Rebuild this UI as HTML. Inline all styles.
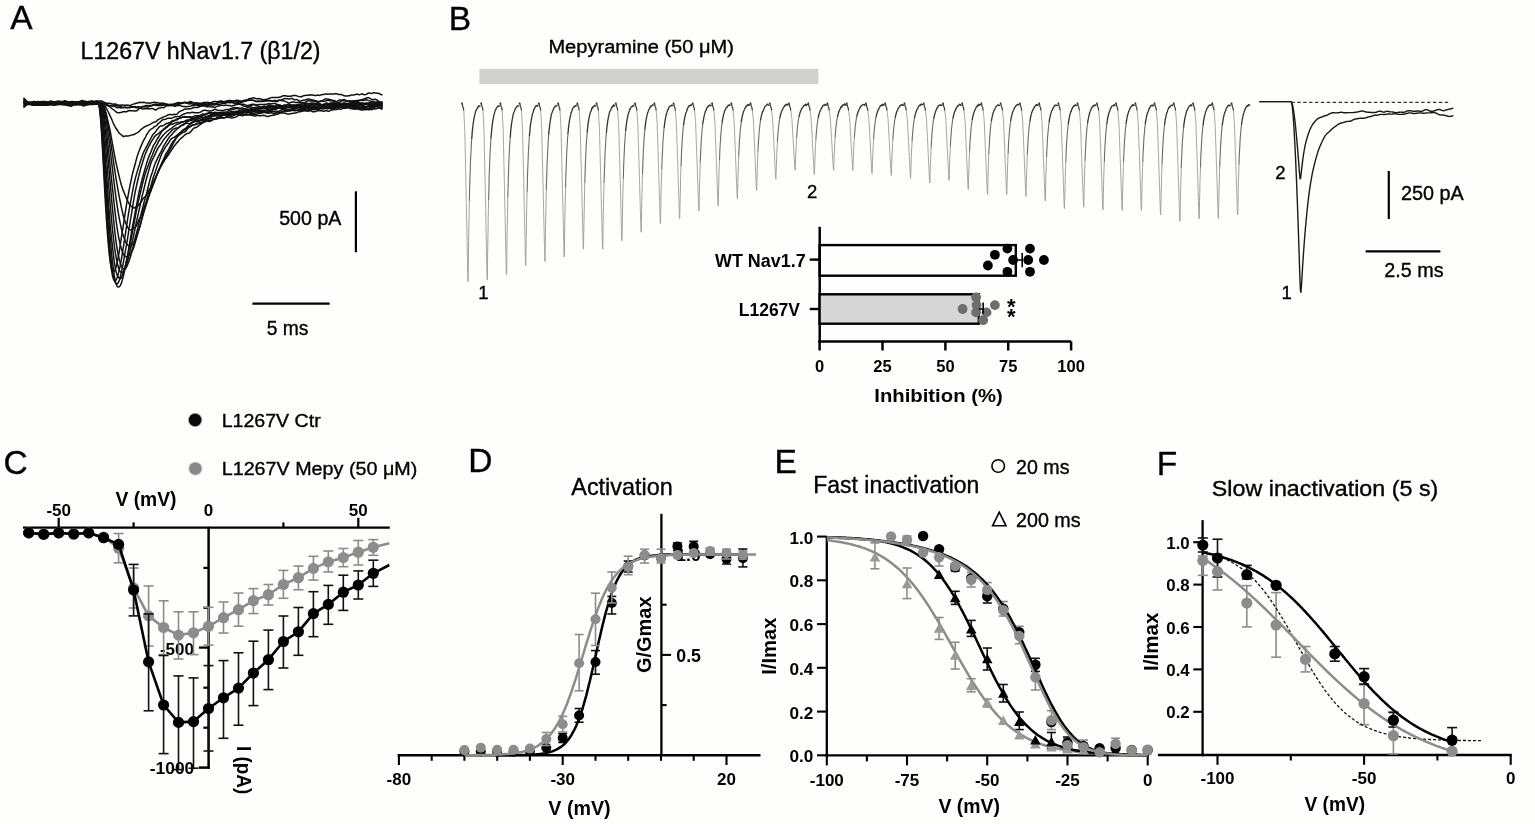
<!DOCTYPE html><html><head><meta charset="utf-8"><style>html,body{margin:0;padding:0;background:#fefefd;}svg{display:block;}</style></head><body>
<svg width="1535" height="824" viewBox="0 0 1535 824" font-family='"Liberation Sans", Arial, sans-serif'>
<rect width="100%" height="100%" fill="#fefefd"/>
<text x="10.3" y="29.1" font-size="33.5" stroke="#000" stroke-width="0.35" text-anchor="start" fill="#000">A</text>
<text x="80.5" y="59" font-size="23.5" stroke="#000" stroke-width="0.35" text-anchor="start" fill="#000" textLength="240" lengthAdjust="spacingAndGlyphs">L1267V hNav1.7 (β1/2)</text>
<path d="M23.5 105.6 24.5 105.3 25.5 105.0 26.5 104.5 27.5 103.7 28.5 103.0 29.5 103.0 30.5 103.2 31.5 103.1 32.5 102.9 33.5 102.6 34.5 102.2 35.5 102.0 36.5 102.4 37.5 102.6 38.5 102.5 39.5 102.3 40.5 102.3 41.5 102.5 42.5 102.8 43.5 103.1 44.5 103.2 45.5 103.4 46.5 103.4 47.5 103.2 48.5 103.0 49.5 103.0 50.5 103.0 51.5 103.1 52.5 103.1 53.5 102.9 54.5 102.7 55.5 102.4 56.5 102.3 57.5 102.8 58.5 103.3 59.5 103.5 60.5 103.5 61.5 103.7 62.5 103.9 63.5 103.9 64.5 103.8 65.5 104.0 66.5 104.0 67.5 104.1 68.5 104.2 69.5 104.2 70.5 104.3 71.5 104.4 72.5 104.3 73.5 103.9 74.5 103.5 75.5 103.5 76.5 103.6 77.5 103.4 78.5 103.4 79.5 103.6 80.5 103.6 81.5 103.7 82.5 103.9 83.5 103.8 84.5 103.6 85.5 103.6 86.5 103.5 87.5 103.1 88.5 102.7 89.5 102.2 90.5 101.6 91.5 101.1 92.5 101.3 93.5 101.5 94.5 101.4 95.5 101.2 96.5 100.9 97.5 101.1 98.5 102.7 99.5 108.0 100.5 118.0 101.5 132.3 102.5 149.4 103.5 167.8 104.5 186.6 105.5 204.4 106.5 220.2 107.5 234.2 108.5 246.3 109.5 256.0 110.5 263.4 111.5 268.3 112.5 271.1 113.5 271.9 114.5 271.0 115.5 268.8 116.5 265.3 117.5 260.7 118.5 255.8 119.5 249.9 120.5 243.4 121.5 236.7 122.5 230.4 123.5 224.3 124.5 217.8 125.5 210.9 126.5 204.6 127.5 199.0 128.5 193.5 129.5 188.2 130.5 183.2 131.5 178.3 132.5 173.8 133.5 170.1 134.5 166.5 135.5 162.8 136.5 158.9 137.5 155.4 138.5 152.5 139.5 149.9 140.5 147.4 141.5 145.1 142.5 142.8 143.5 140.6 144.5 138.8 145.5 137.0 146.5 135.0 147.5 133.3 148.5 131.8 149.5 130.5 150.5 129.5 151.5 128.8 152.5 128.3 153.5 127.5 154.5 126.6 155.5 126.2 156.5 125.7 157.5 124.5 158.5 123.3 159.5 122.6 160.5 121.8 161.5 120.8 162.5 119.9 163.5 119.5 164.5 119.4 165.5 119.2 166.5 118.8 167.5 118.3 168.5 118.2 169.5 118.2 170.5 118.2 171.5 118.2 172.5 117.9 173.5 117.4 174.5 117.0 175.5 116.8 176.5 116.7 177.5 116.6 178.5 116.6 179.5 116.4 180.5 116.0 181.5 115.4 182.5 114.7 183.5 114.2 184.5 113.8 185.5 113.5 186.5 113.1 187.5 112.8 188.5 112.7 189.5 112.9 190.5 112.8 191.5 112.4 192.5 112.3 193.5 112.5 194.5 112.7 195.5 112.7 196.5 112.7 197.5 112.8 198.5 112.7 199.5 112.4 200.5 112.1 201.5 111.5 202.5 110.8 203.5 110.4 204.5 110.2 205.5 110.3 206.5 110.4 207.5 110.7 208.5 111.0 209.5 111.1 210.5 111.1 211.5 110.8 212.5 110.6 213.5 110.0 214.5 109.3 215.5 109.3 216.5 109.8 217.5 110.1 218.5 110.4 219.5 110.4 220.5 110.4 221.5 110.5 222.5 110.6 223.5 110.4 224.5 110.0 225.5 109.8 226.5 109.6 227.5 109.6 228.5 109.6 229.5 109.1 230.5 108.6 231.5 108.4 232.5 108.0 233.5 107.8 234.5 107.7 235.5 107.8 236.5 107.8 237.5 107.8 238.5 108.0 239.5 108.3 240.5 108.2 241.5 107.9 242.5 108.0 243.5 108.4 244.5 108.5 245.5 108.4 246.5 108.2 247.5 107.7 248.5 107.1 249.5 106.8 250.5 107.0 251.5 107.3 252.5 107.6 253.5 107.7 254.5 107.7 255.5 107.4 256.5 107.2 257.5 107.2 258.5 107.4 259.5 107.5 260.5 107.5 261.5 107.6 262.5 107.8 263.5 107.5 264.5 107.3 265.5 107.4 266.5 107.4 267.5 107.4 268.5 107.3 269.5 107.3 270.5 107.1 271.5 106.6 272.5 106.3 273.5 106.4 274.5 106.2 275.5 105.9 276.5 105.9 277.5 105.9 278.5 105.7 279.5 105.6 280.5 105.6 281.5 105.7 282.5 106.0 283.5 106.2 284.5 106.1 285.5 106.1 286.5 106.2 287.5 106.4 288.5 106.4 289.5 106.2 290.5 105.9 291.5 105.6 292.5 105.5 293.5 105.7 294.5 105.7 295.5 105.4 296.5 105.1 297.5 105.0 298.5 104.9 299.5 105.0 300.5 105.3 301.5 105.7 302.5 106.3 303.5 106.8 304.5 106.7 305.5 106.4 306.5 106.4 307.5 106.7 308.5 106.8 309.5 107.2 310.5 107.8 311.5 107.8 312.5 107.6 313.5 107.5 314.5 107.5 315.5 107.5 316.5 107.5 317.5 107.4 318.5 107.3 319.5 107.1 320.5 106.6 321.5 106.2 322.5 105.9 323.5 105.7 324.5 105.6 325.5 105.5 326.5 105.6 327.5 105.9 328.5 106.4 329.5 106.7 330.5 106.5 331.5 106.1 332.5 105.9 333.5 106.2 334.5 106.4 335.5 106.4 336.5 106.0 337.5 105.5 338.5 105.2 339.5 105.2 340.5 105.3 341.5 105.1 342.5 104.8 343.5 104.9 344.5 105.0 345.5 105.1 346.5 105.4 347.5 105.5 348.5 105.4 349.5 105.2 350.5 105.1 351.5 104.9 352.5 104.5 353.5 104.1 354.5 103.8 355.5 103.7 356.5 103.9 357.5 103.9 358.5 103.6 359.5 103.6 360.5 103.5 361.5 103.2 362.5 103.2 363.5 103.5 364.5 103.6 365.5 104.0 366.5 104.4 367.5 104.4 368.5 104.4 369.5 104.2 370.5 103.9 371.5 104.2 372.5 104.8 373.5 105.4 374.5 105.7 375.5 105.8 376.5 105.9 377.5 106.6 378.5 107.5 379.5 107.6 380.5 107.9 381.5 108.3 382.5 108.3" fill="none" stroke="#111" stroke-width="1.5" stroke-linejoin="round"/>
<path d="M23.5 97.7 24.5 98.8 25.5 99.8 26.5 100.9 27.5 102.1 28.5 103.2 29.5 103.7 30.5 104.1 31.5 104.8 32.5 105.3 33.5 105.2 34.5 104.7 35.5 104.4 36.5 104.0 37.5 103.7 38.5 103.7 39.5 103.9 40.5 103.8 41.5 103.6 42.5 103.1 43.5 102.5 44.5 102.3 45.5 102.2 46.5 102.3 47.5 102.9 48.5 103.8 49.5 104.2 50.5 104.4 51.5 104.1 52.5 103.3 53.5 102.4 54.5 102.2 55.5 102.5 56.5 102.6 57.5 102.3 58.5 102.1 59.5 102.2 60.5 102.0 61.5 101.9 62.5 102.1 63.5 102.0 64.5 102.0 65.5 102.2 66.5 102.2 67.5 102.3 68.5 102.6 69.5 102.9 70.5 102.9 71.5 102.8 72.5 102.5 73.5 102.1 74.5 101.9 75.5 102.0 76.5 102.2 77.5 102.2 78.5 102.2 79.5 102.5 80.5 102.7 81.5 102.9 82.5 103.1 83.5 103.3 84.5 103.4 85.5 103.3 86.5 103.7 87.5 103.9 88.5 103.7 89.5 103.8 90.5 104.4 91.5 104.6 92.5 104.4 93.5 104.1 94.5 104.0 95.5 103.8 96.5 103.4 97.5 103.0 98.5 103.7 99.5 107.7 100.5 115.8 101.5 127.6 102.5 142.7 103.5 159.7 104.5 177.4 105.5 195.0 106.5 212.1 107.5 227.9 108.5 241.8 109.5 253.3 110.5 262.7 111.5 270.2 112.5 275.9 113.5 279.4 114.5 280.9 115.5 280.7 116.5 279.3 117.5 276.7 118.5 273.0 119.5 268.8 120.5 264.2 121.5 258.6 122.5 252.3 123.5 246.1 124.5 239.7 125.5 233.3 126.5 226.7 127.5 220.0 128.5 213.6 129.5 207.9 130.5 202.5 131.5 197.1 132.5 191.6 133.5 186.4 134.5 181.8 135.5 177.9 136.5 174.1 137.5 170.6 138.5 167.6 139.5 164.4 140.5 161.0 141.5 158.0 142.5 155.1 143.5 152.5 144.5 150.3 145.5 148.5 146.5 146.6 147.5 144.8 148.5 142.9 149.5 140.9 150.5 139.0 151.5 137.1 152.5 135.2 153.5 133.9 154.5 133.1 155.5 131.8 156.5 130.3 157.5 129.1 158.5 127.8 159.5 126.7 160.5 126.1 161.5 125.9 162.5 125.8 163.5 125.5 164.5 124.8 165.5 124.0 166.5 123.4 167.5 123.2 168.5 123.0 169.5 122.5 170.5 122.1 171.5 121.5 172.5 120.7 173.5 120.4 174.5 120.3 175.5 119.8 176.5 119.1 177.5 118.7 178.5 118.5 179.5 118.0 180.5 117.5 181.5 117.4 182.5 117.3 183.5 117.1 184.5 117.0 185.5 117.2 186.5 117.2 187.5 117.1 188.5 117.2 189.5 117.3 190.5 117.0 191.5 116.9 192.5 116.8 193.5 116.4 194.5 116.0 195.5 115.8 196.5 115.7 197.5 115.7 198.5 115.6 199.5 115.6 200.5 115.7 201.5 115.7 202.5 115.4 203.5 115.3 204.5 115.1 205.5 114.5 206.5 113.7 207.5 113.2 208.5 113.0 209.5 113.2 210.5 113.4 211.5 113.5 212.5 113.2 213.5 112.8 214.5 112.5 215.5 112.5 216.5 112.4 217.5 112.5 218.5 112.7 219.5 112.8 220.5 112.6 221.5 112.2 222.5 112.2 223.5 112.2 224.5 112.3 225.5 112.8 226.5 113.1 227.5 112.9 228.5 112.5 229.5 112.1 230.5 111.8 231.5 111.7 232.5 111.7 233.5 111.7 234.5 111.7 235.5 111.7 236.5 111.7 237.5 112.1 238.5 112.1 239.5 111.5 240.5 111.2 241.5 111.2 242.5 110.9 243.5 110.4 244.5 110.1 245.5 110.1 246.5 109.9 247.5 109.5 248.5 109.3 249.5 109.1 250.5 108.8 251.5 108.6 252.5 108.2 253.5 107.7 254.5 107.4 255.5 107.4 256.5 107.5 257.5 107.7 258.5 107.9 259.5 108.3 260.5 108.7 261.5 108.7 262.5 108.6 263.5 108.4 264.5 108.2 265.5 108.0 266.5 107.7 267.5 107.4 268.5 107.3 269.5 107.5 270.5 107.6 271.5 107.1 272.5 106.9 273.5 107.3 274.5 107.9 275.5 108.1 276.5 107.9 277.5 107.7 278.5 107.4 279.5 107.6 280.5 108.0 281.5 108.1 282.5 107.9 283.5 107.7 284.5 107.9 285.5 108.2 286.5 107.9 287.5 107.6 288.5 107.7 289.5 107.3 290.5 106.8 291.5 106.5 292.5 106.1 293.5 105.9 294.5 106.0 295.5 105.8 296.5 105.6 297.5 105.9 298.5 106.6 299.5 106.9 300.5 107.0 301.5 107.0 302.5 106.9 303.5 106.8 304.5 106.4 305.5 105.9 306.5 105.8 307.5 105.7 308.5 105.4 309.5 105.2 310.5 105.1 311.5 105.0 312.5 104.7 313.5 104.3 314.5 104.1 315.5 104.2 316.5 104.1 317.5 104.1 318.5 104.4 319.5 104.8 320.5 104.9 321.5 104.9 322.5 104.9 323.5 104.7 324.5 104.8 325.5 105.2 326.5 105.3 327.5 104.9 328.5 104.6 329.5 104.9 330.5 105.3 331.5 105.3 332.5 105.2 333.5 105.2 334.5 105.4 335.5 105.9 336.5 106.4 337.5 106.8 338.5 107.0 339.5 106.7 340.5 106.1 341.5 105.5 342.5 105.1 343.5 104.6 344.5 104.3 345.5 104.6 346.5 104.8 347.5 104.9 348.5 105.0 349.5 105.1 350.5 105.5 351.5 106.0 352.5 106.4 353.5 106.6 354.5 106.6 355.5 106.6 356.5 106.5 357.5 106.3 358.5 106.0 359.5 105.6 360.5 105.6 361.5 105.8 362.5 105.7 363.5 105.3 364.5 104.7 365.5 104.4 366.5 104.3 367.5 104.2 368.5 104.3 369.5 104.6 370.5 104.9 371.5 105.1 372.5 105.3 373.5 105.3 374.5 105.1 375.5 104.9 376.5 104.6 377.5 104.4 378.5 104.2 379.5 103.6 380.5 102.8 381.5 102.4 382.5 102.0" fill="none" stroke="#111" stroke-width="1.5" stroke-linejoin="round"/>
<path d="M23.5 107.6 24.5 106.5 25.5 105.4 26.5 104.7 27.5 104.1 28.5 103.5 29.5 103.2 30.5 102.7 31.5 102.4 32.5 102.2 33.5 102.4 34.5 102.5 35.5 102.2 36.5 102.1 37.5 102.3 38.5 102.5 39.5 102.6 40.5 102.6 41.5 102.6 42.5 102.5 43.5 102.4 44.5 102.4 45.5 102.3 46.5 102.1 47.5 102.4 48.5 102.8 49.5 102.6 50.5 102.5 51.5 102.4 52.5 102.1 53.5 102.1 54.5 102.2 55.5 102.3 56.5 102.3 57.5 102.4 58.5 102.7 59.5 102.7 60.5 102.3 61.5 102.2 62.5 103.0 63.5 103.5 64.5 103.6 65.5 103.7 66.5 103.9 67.5 103.6 68.5 103.2 69.5 103.2 70.5 103.4 71.5 103.6 72.5 103.4 73.5 103.0 74.5 102.9 75.5 103.1 76.5 103.3 77.5 103.5 78.5 103.6 79.5 103.5 80.5 103.2 81.5 103.0 82.5 102.9 83.5 102.9 84.5 103.1 85.5 103.4 86.5 103.6 87.5 103.5 88.5 103.3 89.5 103.0 90.5 103.0 91.5 103.4 92.5 103.4 93.5 103.3 94.5 103.4 95.5 103.3 96.5 103.4 97.5 103.5 98.5 104.1 99.5 106.9 100.5 112.7 101.5 122.1 102.5 134.7 103.5 149.8 104.5 166.3 105.5 183.1 106.5 199.7 107.5 215.7 108.5 230.4 109.5 243.3 110.5 254.4 111.5 263.6 112.5 271.1 113.5 276.8 114.5 280.7 115.5 283.0 116.5 284.0 117.5 283.7 118.5 282.3 119.5 279.7 120.5 276.0 121.5 271.7 122.5 267.0 123.5 261.6 124.5 255.9 125.5 250.4 126.5 244.9 127.5 238.8 128.5 232.5 129.5 226.0 130.5 219.8 131.5 213.9 132.5 207.7 133.5 201.5 134.5 195.7 135.5 190.5 136.5 185.8 137.5 181.5 138.5 177.2 139.5 173.2 140.5 169.3 141.5 166.0 142.5 162.7 143.5 159.3 144.5 156.3 145.5 153.6 146.5 151.2 147.5 148.9 148.5 147.0 149.5 145.2 150.5 143.1 151.5 141.3 152.5 139.8 153.5 138.3 154.5 136.7 155.5 135.7 156.5 134.9 157.5 134.2 158.5 133.5 159.5 132.7 160.5 131.9 161.5 131.1 162.5 130.2 163.5 129.3 164.5 128.4 165.5 127.5 166.5 126.6 167.5 125.9 168.5 125.0 169.5 124.2 170.5 123.5 171.5 122.5 172.5 121.5 173.5 121.0 174.5 120.8 175.5 120.4 176.5 120.0 177.5 119.6 178.5 118.9 179.5 118.4 180.5 118.0 181.5 117.7 182.5 117.2 183.5 116.9 184.5 116.6 185.5 116.7 186.5 116.9 187.5 117.1 188.5 117.0 189.5 117.0 190.5 117.3 191.5 117.7 192.5 118.1 193.5 118.2 194.5 117.9 195.5 117.4 196.5 117.1 197.5 117.1 198.5 116.9 199.5 116.3 200.5 115.3 201.5 114.5 202.5 114.1 203.5 114.1 204.5 114.2 205.5 114.4 206.5 114.2 207.5 113.7 208.5 113.2 209.5 112.7 210.5 112.5 211.5 112.8 212.5 113.1 213.5 112.9 214.5 112.5 215.5 112.5 216.5 112.7 217.5 113.0 218.5 113.4 219.5 113.7 220.5 113.7 221.5 113.8 222.5 113.9 223.5 113.7 224.5 113.5 225.5 113.5 226.5 113.5 227.5 113.7 228.5 113.9 229.5 113.7 230.5 113.3 231.5 112.8 232.5 112.0 233.5 111.7 234.5 111.6 235.5 111.5 236.5 111.3 237.5 111.2 238.5 110.8 239.5 110.6 240.5 110.9 241.5 111.2 242.5 111.1 243.5 110.8 244.5 110.6 245.5 110.7 246.5 110.9 247.5 111.0 248.5 110.9 249.5 110.7 250.5 110.4 251.5 110.0 252.5 109.5 253.5 109.0 254.5 108.7 255.5 108.8 256.5 108.7 257.5 108.3 258.5 108.1 259.5 108.3 260.5 108.4 261.5 108.1 262.5 108.0 263.5 108.1 264.5 107.9 265.5 107.5 266.5 107.4 267.5 107.2 268.5 107.0 269.5 107.0 270.5 106.8 271.5 106.6 272.5 106.8 273.5 107.4 274.5 107.9 275.5 108.1 276.5 107.8 277.5 107.8 278.5 108.1 279.5 108.3 280.5 108.1 281.5 108.2 282.5 108.5 283.5 108.9 284.5 108.8 285.5 108.1 286.5 107.2 287.5 106.6 288.5 106.5 289.5 106.5 290.5 106.3 291.5 106.0 292.5 105.6 293.5 105.5 294.5 105.6 295.5 105.4 296.5 104.9 297.5 104.6 298.5 104.8 299.5 105.1 300.5 105.6 301.5 105.9 302.5 106.1 303.5 106.5 304.5 106.7 305.5 106.8 306.5 106.7 307.5 106.7 308.5 106.9 309.5 107.2 310.5 106.9 311.5 106.6 312.5 106.3 313.5 106.0 314.5 106.1 315.5 106.1 316.5 105.9 317.5 105.6 318.5 106.0 319.5 106.2 320.5 105.7 321.5 105.5 322.5 105.8 323.5 106.2 324.5 106.3 325.5 106.4 326.5 106.6 327.5 106.7 328.5 106.8 329.5 106.9 330.5 107.2 331.5 107.1 332.5 106.6 333.5 106.4 334.5 106.4 335.5 106.5 336.5 106.4 337.5 106.2 338.5 105.8 339.5 105.4 340.5 105.2 341.5 105.2 342.5 105.3 343.5 105.1 344.5 104.8 345.5 104.7 346.5 104.6 347.5 104.6 348.5 104.8 349.5 104.6 350.5 104.3 351.5 104.3 352.5 104.3 353.5 104.6 354.5 104.8 355.5 104.9 356.5 104.6 357.5 104.2 358.5 104.5 359.5 104.9 360.5 104.6 361.5 104.1 362.5 104.1 363.5 104.6 364.5 104.5 365.5 104.1 366.5 104.4 367.5 104.7 368.5 104.8 369.5 104.7 370.5 104.6 371.5 104.5 372.5 104.3 373.5 104.1 374.5 103.9 375.5 104.0 376.5 104.3 377.5 104.7 378.5 105.1 379.5 105.3 380.5 105.6 381.5 106.2 382.5 106.9" fill="none" stroke="#111" stroke-width="1.5" stroke-linejoin="round"/>
<path d="M23.5 101.2 24.5 101.9 25.5 102.4 26.5 102.8 27.5 103.4 28.5 104.0 29.5 104.2 30.5 104.1 31.5 104.4 32.5 104.9 33.5 105.0 34.5 104.8 35.5 104.5 36.5 104.1 37.5 103.5 38.5 102.7 39.5 102.5 40.5 102.7 41.5 102.9 42.5 103.1 43.5 103.4 44.5 103.8 45.5 103.8 46.5 103.8 47.5 103.6 48.5 103.7 49.5 104.2 50.5 104.5 51.5 104.6 52.5 104.4 53.5 104.3 54.5 104.2 55.5 103.5 56.5 102.9 57.5 102.7 58.5 102.7 59.5 103.0 60.5 103.2 61.5 103.5 62.5 104.0 63.5 104.3 64.5 103.9 65.5 103.3 66.5 102.9 67.5 102.9 68.5 102.7 69.5 102.4 70.5 102.5 71.5 102.6 72.5 102.8 73.5 102.9 74.5 103.3 75.5 103.9 76.5 104.2 77.5 104.0 78.5 103.4 79.5 103.4 80.5 103.9 81.5 104.3 82.5 104.7 83.5 104.9 84.5 104.7 85.5 104.4 86.5 104.2 87.5 103.6 88.5 102.9 89.5 102.7 90.5 102.4 91.5 101.9 92.5 101.6 93.5 102.0 94.5 102.3 95.5 102.4 96.5 102.5 97.5 102.7 98.5 103.0 99.5 104.7 100.5 109.4 101.5 117.0 102.5 127.0 103.5 139.1 104.5 153.1 105.5 168.5 106.5 184.4 107.5 200.1 108.5 215.4 109.5 229.5 110.5 241.9 111.5 252.7 112.5 262.0 113.5 270.1 114.5 277.0 115.5 282.0 116.5 285.1 117.5 286.7 118.5 287.1 119.5 286.6 120.5 285.3 121.5 282.9 122.5 279.4 123.5 275.5 124.5 271.1 125.5 266.1 126.5 261.0 127.5 255.7 128.5 250.1 129.5 244.2 130.5 238.1 131.5 232.1 132.5 226.5 133.5 221.3 134.5 216.0 135.5 210.5 136.5 205.3 137.5 200.2 138.5 194.9 139.5 190.0 140.5 185.8 141.5 181.8 142.5 178.0 143.5 174.3 144.5 170.7 145.5 167.2 146.5 163.8 147.5 160.5 148.5 157.6 149.5 155.1 150.5 152.9 151.5 150.5 152.5 147.7 153.5 145.4 154.5 143.8 155.5 142.2 156.5 140.3 157.5 138.5 158.5 137.0 159.5 135.4 160.5 133.7 161.5 131.9 162.5 130.5 163.5 129.8 164.5 129.1 165.5 128.3 166.5 127.6 167.5 126.8 168.5 125.8 169.5 125.1 170.5 124.4 171.5 124.0 172.5 124.2 173.5 123.9 174.5 123.3 175.5 122.9 176.5 122.6 177.5 122.3 178.5 122.4 179.5 122.4 180.5 122.1 181.5 121.9 182.5 121.8 183.5 121.7 184.5 121.6 185.5 121.0 186.5 120.2 187.5 120.1 188.5 120.1 189.5 119.6 190.5 119.0 191.5 118.5 192.5 118.2 193.5 118.0 194.5 118.0 195.5 117.8 196.5 117.0 197.5 116.3 198.5 116.3 199.5 116.7 200.5 117.2 201.5 117.4 202.5 117.5 203.5 117.6 204.5 117.6 205.5 117.2 206.5 116.9 207.5 116.6 208.5 116.1 209.5 115.9 210.5 116.0 211.5 116.1 212.5 116.3 213.5 116.1 214.5 115.8 215.5 115.8 216.5 115.9 217.5 116.1 218.5 116.1 219.5 115.9 220.5 115.4 221.5 114.9 222.5 114.9 223.5 114.8 224.5 114.7 225.5 115.0 226.5 115.4 227.5 115.4 228.5 115.1 229.5 114.8 230.5 114.3 231.5 113.7 232.5 113.4 233.5 113.2 234.5 112.5 235.5 111.9 236.5 111.8 237.5 111.9 238.5 111.8 239.5 111.6 240.5 111.5 241.5 111.6 242.5 111.8 243.5 112.0 244.5 112.3 245.5 112.3 246.5 111.9 247.5 111.3 248.5 110.6 249.5 110.0 250.5 109.8 251.5 110.1 252.5 110.1 253.5 109.7 254.5 109.7 255.5 110.1 256.5 110.3 257.5 110.2 258.5 110.3 259.5 110.4 260.5 110.5 261.5 110.8 262.5 110.8 263.5 110.8 264.5 111.1 265.5 111.2 266.5 110.9 267.5 110.6 268.5 110.5 269.5 110.4 270.5 110.3 271.5 109.8 272.5 109.3 273.5 108.9 274.5 108.6 275.5 108.3 276.5 108.1 277.5 107.9 278.5 107.6 279.5 107.5 280.5 108.2 281.5 108.8 282.5 109.4 283.5 109.9 284.5 109.8 285.5 109.4 286.5 109.4 287.5 109.7 288.5 109.6 289.5 109.3 290.5 109.0 291.5 108.6 292.5 108.2 293.5 108.4 294.5 108.4 295.5 108.3 296.5 108.2 297.5 108.0 298.5 107.8 299.5 107.7 300.5 108.0 301.5 108.2 302.5 108.2 303.5 108.4 304.5 108.6 305.5 109.0 306.5 109.0 307.5 108.8 308.5 109.2 309.5 109.5 310.5 109.2 311.5 108.7 312.5 108.8 313.5 109.4 314.5 109.6 315.5 109.4 316.5 109.1 317.5 108.9 318.5 108.8 319.5 108.5 320.5 108.3 321.5 108.4 322.5 108.2 323.5 108.2 324.5 108.5 325.5 108.6 326.5 108.7 327.5 108.7 328.5 108.5 329.5 108.3 330.5 108.2 331.5 108.0 332.5 107.6 333.5 107.3 334.5 106.9 335.5 106.4 336.5 106.4 337.5 106.8 338.5 106.6 339.5 106.0 340.5 106.1 341.5 106.4 342.5 106.5 343.5 106.5 344.5 106.3 345.5 106.1 346.5 106.2 347.5 106.1 348.5 106.1 349.5 106.3 350.5 106.7 351.5 106.9 352.5 107.0 353.5 106.9 354.5 107.1 355.5 107.6 356.5 108.2 357.5 108.6 358.5 108.7 359.5 108.9 360.5 109.1 361.5 108.7 362.5 108.5 363.5 108.8 364.5 108.9 365.5 108.8 366.5 109.0 367.5 109.1 368.5 108.7 369.5 108.6 370.5 108.5 371.5 108.0 372.5 107.5 373.5 107.4 374.5 107.0 375.5 106.4 376.5 106.4 377.5 106.6 378.5 106.2 379.5 105.3 380.5 104.5 381.5 104.2 382.5 104.0" fill="none" stroke="#111" stroke-width="1.5" stroke-linejoin="round"/>
<path d="M23.5 105.4 24.5 105.2 25.5 104.8 26.5 104.5 27.5 104.5 28.5 104.5 29.5 104.6 30.5 104.5 31.5 104.4 32.5 104.3 33.5 104.3 34.5 104.1 35.5 104.0 36.5 103.8 37.5 103.5 38.5 103.5 39.5 103.8 40.5 103.9 41.5 103.8 42.5 103.6 43.5 103.7 44.5 103.8 45.5 103.7 46.5 103.3 47.5 103.0 48.5 102.9 49.5 103.0 50.5 103.3 51.5 103.8 52.5 104.2 53.5 103.8 54.5 103.3 55.5 103.1 56.5 103.4 57.5 103.8 58.5 104.0 59.5 104.0 60.5 104.2 61.5 104.4 62.5 104.6 63.5 104.5 64.5 104.2 65.5 104.2 66.5 104.3 67.5 104.3 68.5 104.4 69.5 104.7 70.5 104.8 71.5 104.7 72.5 104.3 73.5 103.7 74.5 103.2 75.5 102.8 76.5 102.7 77.5 102.7 78.5 102.7 79.5 102.5 80.5 102.2 81.5 101.9 82.5 101.7 83.5 101.8 84.5 101.8 85.5 102.0 86.5 102.1 87.5 101.7 88.5 101.4 89.5 101.2 90.5 101.2 91.5 101.5 92.5 101.9 93.5 102.3 94.5 103.0 95.5 103.6 96.5 103.9 97.5 104.1 98.5 104.3 99.5 105.8 100.5 109.2 101.5 114.9 102.5 123.6 103.5 134.5 104.5 147.0 105.5 160.6 106.5 174.8 107.5 189.1 108.5 203.1 109.5 216.3 110.5 228.0 111.5 238.0 112.5 247.2 113.5 255.7 114.5 263.3 115.5 269.2 116.5 273.2 117.5 275.9 118.5 277.4 119.5 278.3 120.5 278.7 121.5 277.7 122.5 275.1 123.5 272.1 124.5 268.7 125.5 264.9 126.5 260.8 127.5 256.2 128.5 251.6 129.5 247.0 130.5 242.0 131.5 236.9 132.5 231.8 133.5 226.4 134.5 221.1 135.5 215.7 136.5 210.4 137.5 205.4 138.5 200.7 139.5 196.3 140.5 192.4 141.5 188.2 142.5 183.9 143.5 179.9 144.5 176.3 145.5 173.0 146.5 170.1 147.5 167.4 148.5 164.7 149.5 162.0 150.5 159.3 151.5 157.0 152.5 154.7 153.5 152.0 154.5 149.4 155.5 147.4 156.5 145.6 157.5 143.6 158.5 141.7 159.5 140.0 160.5 138.5 161.5 137.3 162.5 136.0 163.5 134.7 164.5 133.7 165.5 132.8 166.5 131.7 167.5 131.0 168.5 130.3 169.5 129.6 170.5 128.9 171.5 128.3 172.5 127.4 173.5 126.7 174.5 126.0 175.5 125.3 176.5 124.5 177.5 124.0 178.5 123.9 179.5 123.6 180.5 123.0 181.5 122.3 182.5 121.9 183.5 121.7 184.5 121.4 185.5 121.1 186.5 120.9 187.5 120.8 188.5 120.5 189.5 120.2 190.5 120.0 191.5 119.7 192.5 119.5 193.5 119.5 194.5 119.3 195.5 119.1 196.5 118.7 197.5 118.1 198.5 118.0 199.5 118.6 200.5 119.4 201.5 119.8 202.5 119.7 203.5 119.3 204.5 119.0 205.5 118.5 206.5 117.9 207.5 117.6 208.5 117.4 209.5 116.8 210.5 115.9 211.5 115.1 212.5 114.6 213.5 114.2 214.5 113.8 215.5 113.5 216.5 113.3 217.5 113.2 218.5 112.9 219.5 112.6 220.5 112.9 221.5 113.1 222.5 113.1 223.5 113.2 224.5 113.7 225.5 113.9 226.5 113.7 227.5 113.4 228.5 113.1 229.5 113.2 230.5 113.3 231.5 113.1 232.5 113.0 233.5 113.3 234.5 113.2 235.5 112.6 236.5 112.5 237.5 112.6 238.5 112.5 239.5 112.0 240.5 111.5 241.5 111.5 242.5 111.5 243.5 111.3 244.5 110.8 245.5 110.6 246.5 110.5 247.5 110.7 248.5 111.0 249.5 111.1 250.5 111.0 251.5 110.9 252.5 110.6 253.5 110.5 254.5 110.7 255.5 110.8 256.5 110.6 257.5 110.1 258.5 109.4 259.5 108.9 260.5 108.7 261.5 108.5 262.5 108.0 263.5 107.5 264.5 107.4 265.5 107.7 266.5 108.0 267.5 108.1 268.5 108.4 269.5 108.9 270.5 109.5 271.5 109.8 272.5 109.7 273.5 109.4 274.5 109.5 275.5 109.5 276.5 109.0 277.5 108.5 278.5 108.2 279.5 107.9 280.5 107.7 281.5 107.3 282.5 106.6 283.5 106.3 284.5 106.2 285.5 105.9 286.5 105.9 287.5 106.2 288.5 106.5 289.5 106.8 290.5 107.3 291.5 107.6 292.5 107.6 293.5 107.5 294.5 107.1 295.5 106.8 296.5 106.8 297.5 106.8 298.5 106.8 299.5 106.4 300.5 106.0 301.5 106.1 302.5 106.0 303.5 105.9 304.5 105.9 305.5 105.6 306.5 105.6 307.5 106.0 308.5 106.0 309.5 105.9 310.5 106.0 311.5 106.3 312.5 106.5 313.5 106.3 314.5 106.2 315.5 106.3 316.5 106.9 317.5 107.7 318.5 108.1 319.5 108.0 320.5 107.7 321.5 107.5 322.5 107.4 323.5 107.5 324.5 107.5 325.5 107.1 326.5 106.8 327.5 106.7 328.5 106.5 329.5 106.2 330.5 105.5 331.5 104.7 332.5 104.3 333.5 104.0 334.5 103.6 335.5 103.3 336.5 103.2 337.5 103.4 338.5 103.8 339.5 104.2 340.5 104.2 341.5 104.1 342.5 104.2 343.5 104.4 344.5 104.4 345.5 104.5 346.5 104.6 347.5 104.5 348.5 104.2 349.5 104.2 350.5 104.4 351.5 104.6 352.5 104.9 353.5 105.3 354.5 105.5 355.5 105.3 356.5 104.9 357.5 104.7 358.5 104.6 359.5 104.6 360.5 104.6 361.5 104.3 362.5 104.0 363.5 104.0 364.5 104.5 365.5 104.6 366.5 104.3 367.5 104.1 368.5 104.1 369.5 104.0 370.5 103.7 371.5 103.9 372.5 104.2 373.5 104.5 374.5 104.6 375.5 104.6 376.5 104.6 377.5 104.4 378.5 104.1 379.5 104.0 380.5 103.7 381.5 103.5 382.5 103.7" fill="none" stroke="#111" stroke-width="1.5" stroke-linejoin="round"/>
<path d="M23.5 102.2 24.5 102.9 25.5 103.4 26.5 103.4 27.5 102.9 28.5 102.6 29.5 102.5 30.5 102.6 31.5 102.6 32.5 102.6 33.5 102.7 34.5 102.9 35.5 103.1 36.5 103.5 37.5 103.9 38.5 103.7 39.5 103.1 40.5 102.8 41.5 102.7 42.5 102.7 43.5 102.8 44.5 102.6 45.5 102.3 46.5 102.6 47.5 103.1 48.5 103.1 49.5 102.7 50.5 102.6 51.5 103.1 52.5 103.8 53.5 104.4 54.5 104.8 55.5 104.7 56.5 104.0 57.5 103.3 58.5 102.6 59.5 102.1 60.5 101.8 61.5 101.6 62.5 101.6 63.5 101.6 64.5 101.6 65.5 101.8 66.5 101.8 67.5 101.8 68.5 101.8 69.5 102.0 70.5 102.2 71.5 102.2 72.5 102.2 73.5 102.5 74.5 102.8 75.5 102.9 76.5 102.8 77.5 102.9 78.5 102.9 79.5 102.7 80.5 102.7 81.5 102.8 82.5 103.0 83.5 103.3 84.5 103.3 85.5 103.2 86.5 103.1 87.5 103.1 88.5 103.2 89.5 103.4 90.5 103.4 91.5 103.2 92.5 103.2 93.5 103.3 94.5 103.1 95.5 102.8 96.5 102.7 97.5 102.7 98.5 102.7 99.5 103.6 100.5 106.0 101.5 109.7 102.5 115.5 103.5 123.7 104.5 133.6 105.5 144.9 106.5 157.5 107.5 170.5 108.5 183.0 109.5 195.6 110.5 207.9 111.5 219.3 112.5 229.6 113.5 238.9 114.5 247.0 115.5 253.9 116.5 259.3 117.5 264.0 118.5 268.0 119.5 270.6 120.5 271.9 121.5 272.4 122.5 272.2 123.5 271.2 124.5 269.7 125.5 267.8 126.5 264.9 127.5 261.5 128.5 257.6 129.5 253.5 130.5 249.2 131.5 244.7 132.5 240.3 133.5 236.1 134.5 231.5 135.5 226.3 136.5 221.4 137.5 217.2 138.5 212.8 139.5 208.0 140.5 203.4 141.5 198.9 142.5 194.7 143.5 190.8 144.5 186.6 145.5 182.3 146.5 178.5 147.5 175.0 148.5 171.6 149.5 168.0 150.5 164.5 151.5 161.6 152.5 159.4 153.5 157.5 154.5 155.6 155.5 153.4 156.5 151.1 157.5 149.2 158.5 147.4 159.5 146.0 160.5 144.7 161.5 143.1 162.5 141.3 163.5 139.8 164.5 138.7 165.5 137.6 166.5 136.2 167.5 135.1 168.5 134.1 169.5 133.0 170.5 131.9 171.5 130.7 172.5 129.7 173.5 129.1 174.5 128.7 175.5 128.3 176.5 128.1 177.5 128.1 178.5 127.9 179.5 127.1 180.5 126.2 181.5 125.3 182.5 124.7 183.5 124.2 184.5 123.7 185.5 123.0 186.5 122.2 187.5 121.6 188.5 121.1 189.5 120.8 190.5 120.5 191.5 120.3 192.5 119.9 193.5 119.5 194.5 119.8 195.5 120.1 196.5 120.3 197.5 120.7 198.5 120.8 199.5 120.6 200.5 120.6 201.5 120.7 202.5 120.7 203.5 120.5 204.5 120.1 205.5 119.7 206.5 119.5 207.5 119.3 208.5 119.1 209.5 118.7 210.5 117.8 211.5 117.0 212.5 116.4 213.5 116.0 214.5 115.6 215.5 115.4 216.5 115.0 217.5 114.9 218.5 115.0 219.5 115.1 220.5 115.2 221.5 115.1 222.5 115.0 223.5 115.2 224.5 115.2 225.5 114.8 226.5 114.8 227.5 115.2 228.5 115.6 229.5 115.5 230.5 115.1 231.5 115.0 232.5 115.1 233.5 114.8 234.5 114.6 235.5 114.7 236.5 114.6 237.5 114.5 238.5 114.6 239.5 114.8 240.5 115.2 241.5 115.6 242.5 115.7 243.5 115.3 244.5 115.0 245.5 115.0 246.5 115.0 247.5 114.8 248.5 114.4 249.5 113.9 250.5 113.6 251.5 113.4 252.5 113.3 253.5 113.4 254.5 113.2 255.5 112.9 256.5 112.5 257.5 112.0 258.5 111.7 259.5 111.6 260.5 111.6 261.5 111.6 262.5 111.4 263.5 111.2 264.5 111.4 265.5 112.0 266.5 112.3 267.5 112.3 268.5 112.2 269.5 112.1 270.5 111.7 271.5 111.2 272.5 111.0 273.5 111.2 274.5 111.6 275.5 111.7 276.5 111.6 277.5 111.6 278.5 111.9 279.5 112.1 280.5 112.2 281.5 112.2 282.5 111.9 283.5 111.5 284.5 111.2 285.5 111.4 286.5 111.5 287.5 111.1 288.5 110.8 289.5 110.8 290.5 110.7 291.5 110.5 292.5 110.3 293.5 110.5 294.5 110.7 295.5 110.8 296.5 110.6 297.5 110.2 298.5 110.0 299.5 110.0 300.5 109.8 301.5 109.6 302.5 109.3 303.5 109.1 304.5 109.2 305.5 109.2 306.5 108.9 307.5 108.5 308.5 108.3 309.5 108.5 310.5 108.5 311.5 108.3 312.5 107.9 313.5 107.7 314.5 107.7 315.5 107.8 316.5 107.9 317.5 108.3 318.5 108.5 319.5 108.3 320.5 108.0 321.5 108.2 322.5 108.8 323.5 108.9 324.5 108.4 325.5 107.9 326.5 107.7 327.5 107.6 328.5 107.5 329.5 107.3 330.5 107.1 331.5 107.1 332.5 107.1 333.5 106.8 334.5 106.7 335.5 106.9 336.5 107.1 337.5 107.6 338.5 107.9 339.5 107.8 340.5 107.2 341.5 106.3 342.5 105.9 343.5 105.9 344.5 105.9 345.5 105.8 346.5 105.8 347.5 105.6 348.5 105.7 349.5 106.3 350.5 106.8 351.5 107.3 352.5 107.9 353.5 108.6 354.5 108.9 355.5 108.9 356.5 108.8 357.5 108.6 358.5 108.2 359.5 107.8 360.5 107.5 361.5 107.2 362.5 106.8 363.5 106.6 364.5 106.8 365.5 106.8 366.5 106.7 367.5 106.5 368.5 106.4 369.5 106.5 370.5 106.7 371.5 106.6 372.5 106.5 373.5 106.2 374.5 105.5 375.5 105.2 376.5 105.4 377.5 105.6 378.5 106.3 379.5 107.4 380.5 108.4 381.5 109.0 382.5 109.4" fill="none" stroke="#111" stroke-width="1.5" stroke-linejoin="round"/>
<path d="M23.5 102.4 24.5 101.9 25.5 101.9 26.5 102.2 27.5 102.5 28.5 102.9 29.5 103.3 30.5 103.7 31.5 103.8 32.5 103.9 33.5 104.2 34.5 104.7 35.5 105.1 36.5 105.2 37.5 105.2 38.5 105.1 39.5 105.0 40.5 105.2 41.5 105.3 42.5 105.2 43.5 105.3 44.5 105.2 45.5 105.1 46.5 105.0 47.5 105.0 48.5 105.0 49.5 104.9 50.5 104.7 51.5 104.8 52.5 105.1 53.5 105.2 54.5 105.3 55.5 105.1 56.5 104.7 57.5 104.8 58.5 104.5 59.5 103.8 60.5 103.4 61.5 103.1 62.5 103.3 63.5 103.9 64.5 104.3 65.5 104.4 66.5 104.4 67.5 104.7 68.5 105.4 69.5 105.7 70.5 105.8 71.5 105.5 72.5 104.9 73.5 104.4 74.5 103.9 75.5 103.5 76.5 103.6 77.5 103.8 78.5 103.7 79.5 103.3 80.5 103.0 81.5 102.9 82.5 102.7 83.5 102.3 84.5 102.1 85.5 102.2 86.5 102.5 87.5 102.5 88.5 102.4 89.5 102.7 90.5 103.1 91.5 103.1 92.5 102.6 93.5 102.5 94.5 102.7 95.5 102.8 96.5 102.6 97.5 102.5 98.5 102.6 99.5 102.6 100.5 103.0 101.5 105.2 102.5 109.5 103.5 115.6 104.5 123.6 105.5 132.7 106.5 142.2 107.5 152.6 108.5 163.7 109.5 175.0 110.5 186.6 111.5 198.2 112.5 209.1 113.5 219.1 114.5 228.5 115.5 237.2 116.5 244.8 117.5 251.2 118.5 256.3 119.5 260.4 120.5 264.0 121.5 266.8 122.5 268.1 123.5 268.7 124.5 269.1 125.5 268.6 126.5 267.1 127.5 265.0 128.5 262.5 129.5 259.7 130.5 256.5 131.5 252.8 132.5 249.0 133.5 244.9 134.5 240.5 135.5 236.6 136.5 233.1 137.5 229.3 138.5 224.9 139.5 220.6 140.5 216.6 141.5 212.5 142.5 208.4 143.5 204.5 144.5 200.8 145.5 197.3 146.5 193.7 147.5 189.7 148.5 185.7 149.5 181.6 150.5 177.6 151.5 174.5 152.5 171.7 153.5 168.4 154.5 165.3 155.5 162.8 156.5 160.6 157.5 158.5 158.5 156.3 159.5 154.4 160.5 152.7 161.5 150.9 162.5 148.6 163.5 146.4 164.5 144.7 165.5 143.1 166.5 141.5 167.5 139.9 168.5 138.3 169.5 136.8 170.5 135.8 171.5 135.0 172.5 133.7 173.5 132.4 174.5 131.4 175.5 130.5 176.5 129.5 177.5 128.6 178.5 127.8 179.5 126.8 180.5 125.9 181.5 125.5 182.5 125.4 183.5 125.0 184.5 124.1 185.5 123.4 186.5 123.3 187.5 123.3 188.5 123.6 189.5 123.7 190.5 123.7 191.5 123.4 192.5 122.7 193.5 122.2 194.5 121.9 195.5 121.5 196.5 121.3 197.5 121.5 198.5 121.6 199.5 121.1 200.5 120.0 201.5 119.2 202.5 118.7 203.5 118.0 204.5 117.4 205.5 116.9 206.5 116.5 207.5 116.2 208.5 115.9 209.5 115.4 210.5 114.8 211.5 114.8 212.5 114.7 213.5 114.5 214.5 114.7 215.5 114.9 216.5 114.8 217.5 114.6 218.5 114.1 219.5 113.8 220.5 114.0 221.5 114.5 222.5 114.7 223.5 114.8 224.5 114.9 225.5 114.7 226.5 114.4 227.5 114.6 228.5 114.9 229.5 114.5 230.5 114.1 231.5 114.0 232.5 113.8 233.5 113.5 234.5 113.7 235.5 113.9 236.5 113.6 237.5 113.5 238.5 113.8 239.5 114.2 240.5 114.3 241.5 113.9 242.5 113.3 243.5 112.5 244.5 111.9 245.5 111.6 246.5 111.6 247.5 111.7 248.5 111.7 249.5 111.7 250.5 112.1 251.5 112.1 252.5 111.7 253.5 111.2 254.5 111.1 255.5 111.2 256.5 111.3 257.5 111.3 258.5 111.4 259.5 110.9 260.5 110.5 261.5 110.4 262.5 110.4 263.5 110.3 264.5 110.2 265.5 110.1 266.5 109.8 267.5 109.5 268.5 109.3 269.5 109.5 270.5 109.2 271.5 108.8 272.5 108.7 273.5 108.8 274.5 108.8 275.5 108.5 276.5 108.0 277.5 107.6 278.5 107.6 279.5 107.8 280.5 107.8 281.5 107.7 282.5 107.2 283.5 106.9 284.5 106.6 285.5 106.7 286.5 107.2 287.5 107.0 288.5 106.5 289.5 106.2 290.5 105.9 291.5 105.6 292.5 105.8 293.5 106.1 294.5 106.1 295.5 106.3 296.5 106.5 297.5 106.6 298.5 106.8 299.5 107.0 300.5 107.0 301.5 107.2 302.5 107.3 303.5 107.5 304.5 107.4 305.5 106.8 306.5 106.3 307.5 106.0 308.5 105.5 309.5 104.7 310.5 104.2 311.5 104.1 312.5 104.5 313.5 104.7 314.5 104.4 315.5 104.1 316.5 104.0 317.5 104.3 318.5 104.8 319.5 105.1 320.5 104.8 321.5 104.7 322.5 105.2 323.5 105.3 324.5 105.0 325.5 105.0 326.5 105.2 327.5 105.1 328.5 104.5 329.5 103.9 330.5 103.9 331.5 103.9 332.5 103.9 333.5 104.0 334.5 104.2 335.5 104.4 336.5 104.6 337.5 104.6 338.5 104.5 339.5 104.2 340.5 103.9 341.5 103.8 342.5 103.8 343.5 103.7 344.5 104.0 345.5 104.2 346.5 104.3 347.5 104.0 348.5 103.8 349.5 104.0 350.5 104.2 351.5 104.1 352.5 104.1 353.5 104.1 354.5 104.2 355.5 104.5 356.5 104.3 357.5 104.0 358.5 104.2 359.5 104.3 360.5 104.2 361.5 104.1 362.5 104.2 363.5 103.9 364.5 103.4 365.5 103.0 366.5 102.9 367.5 103.1 368.5 103.1 369.5 102.7 370.5 102.6 371.5 102.9 372.5 102.7 373.5 102.6 374.5 102.9 375.5 103.1 376.5 102.9 377.5 102.9 378.5 103.1 379.5 103.2 380.5 103.2 381.5 103.3 382.5 103.8" fill="none" stroke="#111" stroke-width="1.5" stroke-linejoin="round"/>
<path d="M23.5 103.8 24.5 103.8 25.5 104.1 26.5 104.1 27.5 104.0 28.5 103.9 29.5 103.8 30.5 103.9 31.5 104.3 32.5 104.8 33.5 104.9 34.5 105.1 35.5 105.2 36.5 105.1 37.5 105.0 38.5 105.1 39.5 105.1 40.5 104.6 41.5 104.1 42.5 104.0 43.5 104.2 44.5 104.5 45.5 104.5 46.5 104.0 47.5 103.2 48.5 102.8 49.5 102.6 50.5 102.3 51.5 102.1 52.5 102.4 53.5 102.3 54.5 102.1 55.5 102.0 56.5 101.8 57.5 102.1 58.5 102.7 59.5 102.8 60.5 102.4 61.5 102.3 62.5 102.8 63.5 102.5 64.5 101.9 65.5 102.1 66.5 102.7 67.5 103.0 68.5 103.3 69.5 103.8 70.5 104.1 71.5 104.4 72.5 104.5 73.5 104.5 74.5 104.5 75.5 104.6 76.5 104.7 77.5 104.7 78.5 104.8 79.5 105.1 80.5 105.0 81.5 104.6 82.5 104.2 83.5 104.0 84.5 103.7 85.5 103.5 86.5 103.1 87.5 102.6 88.5 102.3 89.5 102.2 90.5 102.1 91.5 101.9 92.5 101.8 93.5 101.8 94.5 102.2 95.5 102.7 96.5 103.0 97.5 102.6 98.5 102.6 99.5 102.9 100.5 103.5 101.5 105.0 102.5 107.6 103.5 111.7 104.5 117.0 105.5 123.9 106.5 131.8 107.5 140.4 108.5 149.8 109.5 159.5 110.5 169.5 111.5 179.3 112.5 188.7 113.5 198.0 114.5 207.2 115.5 215.9 116.5 223.8 117.5 230.5 118.5 236.4 119.5 241.4 120.5 245.7 121.5 249.1 122.5 252.2 123.5 254.6 124.5 255.9 125.5 256.6 126.5 256.8 127.5 256.5 128.5 255.9 129.5 255.1 130.5 253.9 131.5 252.4 132.5 250.4 133.5 248.0 134.5 244.9 135.5 241.5 136.5 238.0 137.5 234.5 138.5 231.0 139.5 227.4 140.5 223.6 141.5 219.3 142.5 215.2 143.5 211.2 144.5 207.5 145.5 204.2 146.5 201.0 147.5 197.3 148.5 193.6 149.5 190.5 150.5 187.5 151.5 184.0 152.5 180.2 153.5 176.7 154.5 173.9 155.5 171.2 156.5 168.3 157.5 165.3 158.5 162.4 159.5 159.7 160.5 157.1 161.5 154.5 162.5 152.3 163.5 150.6 164.5 148.9 165.5 147.2 166.5 145.7 167.5 144.3 168.5 143.0 169.5 141.3 170.5 139.7 171.5 138.7 172.5 138.0 173.5 137.7 174.5 137.1 175.5 136.3 176.5 135.6 177.5 134.9 178.5 134.0 179.5 133.3 180.5 132.8 181.5 132.2 182.5 131.3 183.5 130.4 184.5 129.8 185.5 129.3 186.5 128.6 187.5 127.8 188.5 126.9 189.5 126.3 190.5 126.0 191.5 125.4 192.5 124.9 193.5 124.7 194.5 124.5 195.5 124.1 196.5 123.6 197.5 123.2 198.5 123.2 199.5 123.5 200.5 123.4 201.5 122.9 202.5 122.4 203.5 122.1 204.5 121.8 205.5 121.3 206.5 120.9 207.5 121.1 208.5 121.4 209.5 121.4 210.5 121.1 211.5 120.6 212.5 119.8 213.5 119.3 214.5 119.2 215.5 118.9 216.5 118.6 217.5 118.5 218.5 118.5 219.5 118.3 220.5 118.0 221.5 118.1 222.5 118.2 223.5 118.1 224.5 117.8 225.5 117.5 226.5 117.3 227.5 117.2 228.5 117.2 229.5 117.6 230.5 117.9 231.5 118.0 232.5 117.9 233.5 117.6 234.5 117.4 235.5 117.2 236.5 116.7 237.5 116.2 238.5 115.4 239.5 114.8 240.5 115.0 241.5 115.2 242.5 115.0 243.5 114.7 244.5 114.6 245.5 114.4 246.5 114.4 247.5 114.8 248.5 114.8 249.5 114.6 250.5 114.8 251.5 115.2 252.5 115.4 253.5 115.8 254.5 116.1 255.5 116.0 256.5 115.6 257.5 115.4 258.5 115.6 259.5 115.7 260.5 115.7 261.5 115.6 262.5 115.4 263.5 115.2 264.5 115.4 265.5 115.8 266.5 116.3 267.5 116.5 268.5 116.3 269.5 116.0 270.5 115.6 271.5 115.4 272.5 115.3 273.5 115.3 274.5 115.0 275.5 114.5 276.5 114.3 277.5 114.2 278.5 113.9 279.5 113.3 280.5 112.8 281.5 112.9 282.5 113.1 283.5 113.0 284.5 113.1 285.5 113.4 286.5 113.8 287.5 113.9 288.5 114.0 289.5 113.9 290.5 113.7 291.5 113.6 292.5 113.5 293.5 113.3 294.5 113.1 295.5 112.9 296.5 112.7 297.5 112.3 298.5 111.8 299.5 111.7 300.5 111.8 301.5 111.4 302.5 110.7 303.5 110.2 304.5 110.3 305.5 110.6 306.5 110.7 307.5 110.7 308.5 110.9 309.5 110.8 310.5 110.7 311.5 111.2 312.5 111.8 313.5 111.8 314.5 111.7 315.5 111.5 316.5 111.1 317.5 110.8 318.5 110.7 319.5 110.8 320.5 110.7 321.5 110.7 322.5 111.0 323.5 111.3 324.5 111.0 325.5 110.8 326.5 110.8 327.5 111.0 328.5 111.4 329.5 111.1 330.5 110.2 331.5 109.8 332.5 109.9 333.5 109.7 334.5 109.5 335.5 109.4 336.5 109.5 337.5 109.2 338.5 108.8 339.5 108.9 340.5 109.4 341.5 109.1 342.5 108.4 343.5 108.2 344.5 108.3 345.5 108.2 346.5 108.0 347.5 107.7 348.5 107.4 349.5 107.4 350.5 107.4 351.5 107.7 352.5 108.3 353.5 108.9 354.5 109.1 355.5 108.7 356.5 108.4 357.5 108.5 358.5 109.0 359.5 109.5 360.5 109.8 361.5 109.9 362.5 110.0 363.5 109.8 364.5 109.8 365.5 109.7 366.5 109.5 367.5 109.6 368.5 109.7 369.5 109.7 370.5 109.6 371.5 109.6 372.5 109.5 373.5 109.1 374.5 108.8 375.5 108.8 376.5 108.6 377.5 108.2 378.5 107.7 379.5 107.4 380.5 107.4 381.5 107.3 382.5 107.3" fill="none" stroke="#111" stroke-width="1.5" stroke-linejoin="round"/>
<path d="M23.5 105.2 24.5 104.6 25.5 104.6 26.5 104.7 27.5 104.5 28.5 104.1 29.5 103.7 30.5 103.5 31.5 103.1 32.5 102.8 33.5 103.1 34.5 103.5 35.5 103.9 36.5 104.1 37.5 104.1 38.5 104.5 39.5 104.8 40.5 104.7 41.5 104.4 42.5 104.1 43.5 103.8 44.5 103.6 45.5 103.5 46.5 103.6 47.5 103.8 48.5 104.0 49.5 103.7 50.5 103.5 51.5 103.5 52.5 103.5 53.5 103.5 54.5 103.6 55.5 103.2 56.5 102.5 57.5 101.8 58.5 101.7 59.5 101.9 60.5 102.3 61.5 102.2 62.5 101.8 63.5 101.3 64.5 100.8 65.5 100.8 66.5 101.4 67.5 102.0 68.5 102.4 69.5 102.3 70.5 102.2 71.5 102.4 72.5 102.5 73.5 102.5 74.5 102.5 75.5 102.4 76.5 102.1 77.5 102.0 78.5 101.9 79.5 101.5 80.5 101.0 81.5 100.7 82.5 100.5 83.5 100.9 84.5 101.4 85.5 101.3 86.5 101.6 87.5 102.1 88.5 102.1 89.5 101.9 90.5 102.1 91.5 102.5 92.5 102.6 93.5 102.2 94.5 101.6 95.5 101.4 96.5 101.8 97.5 102.4 98.5 102.6 99.5 102.6 100.5 103.0 101.5 104.0 102.5 105.6 103.5 108.0 104.5 111.7 105.5 116.6 106.5 122.3 107.5 128.8 108.5 136.1 109.5 144.2 110.5 152.7 111.5 160.8 112.5 169.1 113.5 177.8 114.5 186.4 115.5 194.1 116.5 201.1 117.5 207.9 118.5 214.1 119.5 219.6 120.5 224.7 121.5 229.3 122.5 233.3 123.5 236.3 124.5 238.9 125.5 241.5 126.5 243.6 127.5 244.9 128.5 245.7 129.5 246.1 130.5 245.9 131.5 245.3 132.5 244.2 133.5 242.9 134.5 241.3 135.5 239.1 136.5 236.5 137.5 233.6 138.5 230.8 139.5 228.0 140.5 224.7 141.5 220.9 142.5 217.2 143.5 213.6 144.5 210.3 145.5 207.1 146.5 203.8 147.5 200.6 148.5 197.4 149.5 194.5 150.5 191.9 151.5 189.2 152.5 186.5 153.5 184.0 154.5 181.4 155.5 178.7 156.5 175.7 157.5 173.0 158.5 170.6 159.5 168.6 160.5 166.7 161.5 165.0 162.5 163.3 163.5 161.2 164.5 159.2 165.5 157.4 166.5 155.7 167.5 153.9 168.5 152.1 169.5 150.4 170.5 148.5 171.5 146.7 172.5 144.8 173.5 143.0 174.5 141.2 175.5 139.4 176.5 137.9 177.5 136.7 178.5 135.7 179.5 134.8 180.5 134.1 181.5 133.3 182.5 132.6 183.5 132.3 184.5 132.0 185.5 131.4 186.5 130.2 187.5 128.8 188.5 127.9 189.5 127.4 190.5 126.7 191.5 126.0 192.5 125.4 193.5 124.9 194.5 124.8 195.5 124.7 196.5 124.3 197.5 123.9 198.5 123.4 199.5 122.8 200.5 122.5 201.5 122.6 202.5 122.8 203.5 122.6 204.5 121.9 205.5 121.5 206.5 121.4 207.5 120.9 208.5 120.3 209.5 120.2 210.5 120.5 211.5 120.5 212.5 120.0 213.5 119.3 214.5 119.1 215.5 119.2 216.5 119.0 217.5 118.6 218.5 117.9 219.5 117.4 220.5 117.4 221.5 117.3 222.5 117.4 223.5 117.9 224.5 117.8 225.5 117.3 226.5 116.9 227.5 116.4 228.5 116.0 229.5 116.1 230.5 116.3 231.5 116.2 232.5 116.1 233.5 115.6 234.5 114.8 235.5 114.2 236.5 114.0 237.5 113.8 238.5 113.3 239.5 112.7 240.5 112.5 241.5 112.8 242.5 113.4 243.5 114.1 244.5 114.4 245.5 114.3 246.5 114.1 247.5 114.0 248.5 114.4 249.5 114.9 250.5 115.0 251.5 115.0 252.5 114.8 253.5 114.5 254.5 114.4 255.5 114.4 256.5 114.3 257.5 113.9 258.5 113.6 259.5 113.6 260.5 113.2 261.5 112.8 262.5 112.4 263.5 112.2 264.5 112.4 265.5 112.8 266.5 112.9 267.5 113.0 268.5 113.2 269.5 113.1 270.5 112.8 271.5 112.7 272.5 113.1 273.5 113.7 274.5 113.5 275.5 113.0 276.5 112.8 277.5 112.7 278.5 112.7 279.5 112.5 280.5 112.3 281.5 111.9 282.5 111.6 283.5 111.6 284.5 111.1 285.5 110.5 286.5 110.4 287.5 110.8 288.5 110.9 289.5 110.7 290.5 110.5 291.5 110.0 292.5 109.7 293.5 109.6 294.5 109.8 295.5 110.2 296.5 110.2 297.5 110.0 298.5 109.8 299.5 109.9 300.5 110.2 301.5 110.7 302.5 111.0 303.5 111.0 304.5 110.7 305.5 110.6 306.5 110.8 307.5 111.1 308.5 110.8 309.5 110.4 310.5 110.3 311.5 110.0 312.5 109.5 313.5 109.4 314.5 109.6 315.5 109.6 316.5 109.4 317.5 109.3 318.5 109.2 319.5 109.0 320.5 108.8 321.5 108.6 322.5 108.3 323.5 107.8 324.5 107.3 325.5 107.2 326.5 107.3 327.5 107.7 328.5 107.9 329.5 107.6 330.5 107.2 331.5 107.4 332.5 107.9 333.5 107.9 334.5 107.7 335.5 107.7 336.5 107.6 337.5 107.4 338.5 107.3 339.5 107.4 340.5 107.4 341.5 106.9 342.5 106.5 343.5 106.4 344.5 106.8 345.5 107.1 346.5 107.2 347.5 107.3 348.5 107.6 349.5 108.0 350.5 108.6 351.5 108.8 352.5 108.8 353.5 108.5 354.5 108.0 355.5 108.0 356.5 107.9 357.5 107.6 358.5 107.6 359.5 107.8 360.5 108.0 361.5 107.8 362.5 107.4 363.5 107.0 364.5 107.0 365.5 107.0 366.5 106.7 367.5 106.4 368.5 106.2 369.5 105.8 370.5 105.4 371.5 105.4 372.5 105.3 373.5 104.9 374.5 104.9 375.5 104.8 376.5 104.6 377.5 104.8 378.5 105.0 379.5 105.2 380.5 105.3 381.5 105.7 382.5 106.6" fill="none" stroke="#111" stroke-width="1.5" stroke-linejoin="round"/>
<path d="M23.5 101.7 24.5 102.1 25.5 102.5 26.5 102.4 27.5 102.3 28.5 102.5 29.5 102.5 30.5 102.5 31.5 102.4 32.5 102.1 33.5 101.5 34.5 101.5 35.5 101.9 36.5 102.2 37.5 102.2 38.5 102.3 39.5 102.3 40.5 102.4 41.5 102.5 42.5 102.6 43.5 102.6 44.5 102.4 45.5 102.0 46.5 101.9 47.5 102.0 48.5 101.8 49.5 101.4 50.5 101.1 51.5 101.1 52.5 101.5 53.5 102.2 54.5 102.6 55.5 102.6 56.5 102.6 57.5 102.7 58.5 103.0 59.5 103.0 60.5 102.8 61.5 102.8 62.5 103.0 63.5 103.1 64.5 102.8 65.5 102.4 66.5 102.3 67.5 102.1 68.5 102.0 69.5 102.0 70.5 101.7 71.5 101.5 72.5 101.4 73.5 101.6 74.5 101.7 75.5 101.8 76.5 102.0 77.5 102.2 78.5 102.7 79.5 103.3 80.5 103.8 81.5 104.7 82.5 105.6 83.5 106.0 84.5 105.8 85.5 105.4 86.5 105.1 87.5 104.9 88.5 104.8 89.5 104.5 90.5 104.1 91.5 103.6 92.5 103.4 93.5 103.7 94.5 103.9 95.5 103.9 96.5 104.1 97.5 103.9 98.5 103.5 99.5 103.0 100.5 102.5 101.5 102.6 102.5 103.4 103.5 105.1 104.5 108.1 105.5 112.2 106.5 116.7 107.5 121.7 108.5 127.5 109.5 134.0 110.5 140.8 111.5 147.7 112.5 154.6 113.5 161.6 114.5 168.5 115.5 175.0 116.5 181.3 117.5 187.2 118.5 192.9 119.5 198.1 120.5 203.0 121.5 207.8 122.5 212.5 123.5 216.6 124.5 219.8 125.5 222.6 126.5 225.0 127.5 227.2 128.5 228.7 129.5 229.6 130.5 229.9 131.5 229.7 132.5 229.0 133.5 228.3 134.5 227.7 135.5 227.0 136.5 225.6 137.5 223.2 138.5 220.7 139.5 218.7 140.5 216.8 141.5 214.6 142.5 212.1 143.5 209.5 144.5 206.8 145.5 204.4 146.5 202.1 147.5 199.6 148.5 196.6 149.5 193.6 150.5 190.9 151.5 188.5 152.5 185.8 153.5 183.0 154.5 180.5 155.5 178.2 156.5 175.9 157.5 173.8 158.5 171.2 159.5 168.6 160.5 166.1 161.5 163.6 162.5 161.4 163.5 159.4 164.5 157.0 165.5 154.7 166.5 152.9 167.5 151.4 168.5 149.7 169.5 147.8 170.5 145.8 171.5 143.9 172.5 142.3 173.5 141.1 174.5 140.0 175.5 138.6 176.5 137.0 177.5 135.7 178.5 134.4 179.5 133.2 180.5 132.2 181.5 131.2 182.5 130.3 183.5 129.5 184.5 128.8 185.5 128.3 186.5 127.5 187.5 126.4 188.5 125.3 189.5 124.5 190.5 123.4 191.5 122.4 192.5 121.9 193.5 121.4 194.5 120.7 195.5 120.2 196.5 119.7 197.5 119.3 198.5 118.8 199.5 118.2 200.5 117.6 201.5 116.7 202.5 115.9 203.5 115.4 204.5 115.0 205.5 114.4 206.5 114.0 207.5 113.9 208.5 113.5 209.5 113.0 210.5 113.2 211.5 113.6 212.5 113.6 213.5 113.7 214.5 113.7 215.5 113.3 216.5 113.2 217.5 113.6 218.5 113.7 219.5 113.2 220.5 112.9 221.5 112.9 222.5 112.7 223.5 112.5 224.5 112.4 225.5 112.1 226.5 112.0 227.5 111.8 228.5 110.9 229.5 110.0 230.5 110.0 231.5 110.0 232.5 109.6 233.5 109.3 234.5 108.9 235.5 108.7 236.5 108.5 237.5 108.6 238.5 108.8 239.5 108.9 240.5 109.0 241.5 109.0 242.5 109.2 243.5 109.6 244.5 109.9 245.5 109.9 246.5 109.9 247.5 110.0 248.5 110.1 249.5 110.3 250.5 110.2 251.5 110.1 252.5 110.3 253.5 110.4 254.5 110.0 255.5 109.3 256.5 108.8 257.5 108.4 258.5 108.1 259.5 108.0 260.5 107.9 261.5 107.8 262.5 107.6 263.5 107.5 264.5 107.7 265.5 108.0 266.5 108.1 267.5 107.8 268.5 107.2 269.5 106.7 270.5 106.7 271.5 107.2 272.5 107.5 273.5 107.2 274.5 106.9 275.5 107.1 276.5 107.4 277.5 107.6 278.5 107.6 279.5 107.5 280.5 107.2 281.5 106.7 282.5 106.0 283.5 105.3 284.5 104.9 285.5 104.9 286.5 104.7 287.5 104.4 288.5 104.3 289.5 104.5 290.5 104.8 291.5 104.9 292.5 105.1 293.5 105.3 294.5 105.3 295.5 105.2 296.5 105.0 297.5 104.7 298.5 104.6 299.5 104.6 300.5 104.8 301.5 105.2 302.5 105.3 303.5 105.0 304.5 104.6 305.5 104.4 306.5 104.3 307.5 104.0 308.5 103.9 309.5 103.7 310.5 103.7 311.5 104.0 312.5 104.1 313.5 103.7 314.5 103.4 315.5 103.3 316.5 103.2 317.5 103.5 318.5 103.9 319.5 104.0 320.5 104.1 321.5 104.4 322.5 104.5 323.5 104.5 324.5 104.4 325.5 104.3 326.5 104.1 327.5 103.8 328.5 103.9 329.5 103.9 330.5 103.8 331.5 103.5 332.5 103.2 333.5 103.1 334.5 103.3 335.5 103.9 336.5 104.3 337.5 104.2 338.5 103.6 339.5 103.0 340.5 103.3 341.5 103.7 342.5 103.4 343.5 103.0 344.5 103.1 345.5 103.6 346.5 104.1 347.5 104.0 348.5 103.4 349.5 102.9 350.5 102.8 351.5 102.6 352.5 102.5 353.5 102.7 354.5 102.8 355.5 102.5 356.5 102.4 357.5 102.3 358.5 102.5 359.5 102.9 360.5 103.1 361.5 103.0 362.5 103.2 363.5 103.4 364.5 103.7 365.5 103.9 366.5 103.9 367.5 103.7 368.5 103.5 369.5 103.5 370.5 103.7 371.5 104.3 372.5 104.5 373.5 104.1 374.5 103.7 375.5 103.4 376.5 103.0 377.5 102.7 378.5 102.4 379.5 102.7 380.5 103.2 381.5 103.4 382.5 103.8" fill="none" stroke="#111" stroke-width="1.5" stroke-linejoin="round"/>
<path d="M23.5 100.7 24.5 101.0 25.5 101.2 26.5 101.6 27.5 102.3 28.5 102.7 29.5 103.0 30.5 103.5 31.5 103.8 32.5 104.4 33.5 105.0 34.5 105.2 35.5 105.2 36.5 105.1 37.5 105.3 38.5 105.2 39.5 104.7 40.5 103.8 41.5 103.5 42.5 103.9 43.5 103.8 44.5 103.4 45.5 103.2 46.5 103.3 47.5 103.4 48.5 103.4 49.5 103.6 50.5 103.7 51.5 103.4 52.5 102.7 53.5 102.0 54.5 101.7 55.5 101.6 56.5 101.4 57.5 101.1 58.5 101.0 59.5 101.2 60.5 101.4 61.5 101.7 62.5 102.2 63.5 102.1 64.5 101.9 65.5 101.8 66.5 101.5 67.5 101.6 68.5 102.0 69.5 102.6 70.5 102.8 71.5 102.6 72.5 102.4 73.5 102.4 74.5 102.5 75.5 102.9 76.5 103.0 77.5 103.0 78.5 102.9 79.5 103.1 80.5 103.4 81.5 103.4 82.5 103.1 83.5 103.2 84.5 103.2 85.5 102.9 86.5 102.7 87.5 102.6 88.5 102.6 89.5 102.7 90.5 102.8 91.5 103.3 92.5 103.9 93.5 103.9 94.5 103.7 95.5 103.2 96.5 102.4 97.5 102.1 98.5 102.2 99.5 102.3 100.5 102.5 101.5 103.2 102.5 104.1 103.5 105.6 104.5 108.1 105.5 111.4 106.5 115.0 107.5 119.2 108.5 123.4 109.5 127.7 110.5 132.7 111.5 138.4 112.5 144.2 113.5 149.5 114.5 154.8 115.5 160.1 116.5 164.9 117.5 169.4 118.5 173.6 119.5 177.8 120.5 181.9 121.5 185.5 122.5 188.6 123.5 191.1 124.5 193.5 125.5 196.1 126.5 198.5 127.5 200.6 128.5 202.7 129.5 204.4 130.5 205.5 131.5 206.3 132.5 207.1 133.5 207.9 134.5 207.9 135.5 207.2 136.5 206.7 137.5 206.3 138.5 205.3 139.5 204.0 140.5 202.7 141.5 201.4 142.5 199.6 143.5 198.1 144.5 197.2 145.5 196.3 146.5 194.6 147.5 192.6 148.5 190.9 149.5 189.5 150.5 188.1 151.5 186.5 152.5 184.3 153.5 181.8 154.5 179.5 155.5 177.4 156.5 175.2 157.5 173.3 158.5 171.3 159.5 169.2 160.5 167.3 161.5 165.4 162.5 163.7 163.5 161.9 164.5 160.3 165.5 158.8 166.5 157.5 167.5 156.1 168.5 154.8 169.5 153.2 170.5 151.7 171.5 150.2 172.5 148.5 173.5 147.0 174.5 145.8 175.5 144.5 176.5 143.1 177.5 142.1 178.5 141.1 179.5 139.8 180.5 138.7 181.5 137.9 182.5 137.2 183.5 136.2 184.5 135.1 185.5 134.5 186.5 133.9 187.5 133.4 188.5 133.3 189.5 132.9 190.5 131.9 191.5 130.8 192.5 129.6 193.5 128.4 194.5 127.8 195.5 127.7 196.5 127.3 197.5 126.6 198.5 125.9 199.5 125.2 200.5 124.4 201.5 123.7 202.5 122.7 203.5 121.7 204.5 120.9 205.5 120.1 206.5 119.2 207.5 118.5 208.5 118.3 209.5 118.5 210.5 118.8 211.5 118.8 212.5 118.7 213.5 118.7 214.5 118.7 215.5 118.4 216.5 117.8 217.5 117.4 218.5 117.1 219.5 116.7 220.5 116.4 221.5 116.0 222.5 115.6 223.5 115.5 224.5 115.2 225.5 114.6 226.5 114.3 227.5 114.4 228.5 114.4 229.5 114.4 230.5 114.3 231.5 114.0 232.5 113.5 233.5 113.4 234.5 113.4 235.5 113.3 236.5 113.2 237.5 113.4 238.5 113.4 239.5 113.1 240.5 112.9 241.5 112.9 242.5 112.7 243.5 112.6 244.5 112.8 245.5 112.6 246.5 112.2 247.5 112.1 248.5 112.2 249.5 112.3 250.5 112.2 251.5 112.2 252.5 112.0 253.5 111.6 254.5 111.7 255.5 112.1 256.5 112.3 257.5 112.6 258.5 112.9 259.5 112.7 260.5 112.6 261.5 112.9 262.5 112.7 263.5 112.2 264.5 112.2 265.5 112.3 266.5 112.0 267.5 111.6 268.5 111.3 269.5 111.0 270.5 110.9 271.5 111.1 272.5 111.5 273.5 111.8 274.5 111.8 275.5 111.4 276.5 111.2 277.5 111.5 278.5 111.4 279.5 110.9 280.5 110.4 281.5 110.0 282.5 109.5 283.5 109.3 284.5 109.3 285.5 109.4 286.5 109.7 287.5 109.8 288.5 109.7 289.5 109.8 290.5 109.9 291.5 110.0 292.5 109.7 293.5 109.4 294.5 109.1 295.5 108.5 296.5 107.7 297.5 107.3 298.5 107.7 299.5 108.2 300.5 108.3 301.5 108.1 302.5 107.7 303.5 107.4 304.5 107.5 305.5 107.8 306.5 107.9 307.5 107.8 308.5 107.7 309.5 107.7 310.5 107.9 311.5 108.4 312.5 108.6 313.5 108.4 314.5 108.3 315.5 108.5 316.5 108.4 317.5 107.9 318.5 107.6 319.5 107.4 320.5 107.1 321.5 106.6 322.5 106.2 323.5 106.4 324.5 106.8 325.5 107.2 326.5 107.7 327.5 108.2 328.5 108.4 329.5 108.4 330.5 108.3 331.5 108.2 332.5 108.3 333.5 108.2 334.5 108.3 335.5 108.1 336.5 107.9 337.5 107.6 338.5 107.3 339.5 107.0 340.5 106.9 341.5 107.0 342.5 107.0 343.5 106.9 344.5 107.0 345.5 107.4 346.5 107.3 347.5 106.8 348.5 106.5 349.5 106.5 350.5 106.6 351.5 106.5 352.5 106.0 353.5 105.7 354.5 105.8 355.5 106.0 356.5 105.9 357.5 106.0 358.5 106.5 359.5 106.9 360.5 107.0 361.5 107.2 362.5 107.4 363.5 107.3 364.5 107.5 365.5 108.0 366.5 108.4 367.5 108.4 368.5 108.2 369.5 107.8 370.5 107.8 371.5 108.1 372.5 108.1 373.5 108.0 374.5 108.4 375.5 108.6 376.5 108.5 377.5 108.2 378.5 107.9 379.5 107.6 380.5 107.5 381.5 107.8 382.5 108.2" fill="none" stroke="#111" stroke-width="1.5" stroke-linejoin="round"/>
<path d="M23.5 98.7 24.5 100.1 25.5 101.1 26.5 101.6 27.5 102.0 28.5 102.0 29.5 102.1 30.5 102.3 31.5 102.2 32.5 102.3 33.5 102.5 34.5 102.6 35.5 102.5 36.5 102.6 37.5 102.7 38.5 103.0 39.5 103.2 40.5 103.1 41.5 103.1 42.5 103.0 43.5 103.0 44.5 103.0 45.5 103.1 46.5 103.3 47.5 103.3 48.5 102.9 49.5 103.0 50.5 103.3 51.5 103.4 52.5 103.3 53.5 103.4 54.5 103.8 55.5 104.2 56.5 104.2 57.5 104.4 58.5 104.6 59.5 104.5 60.5 104.5 61.5 104.5 62.5 104.4 63.5 104.8 64.5 105.1 65.5 105.1 66.5 105.3 67.5 105.5 68.5 105.5 69.5 105.7 70.5 106.1 71.5 106.2 72.5 105.7 73.5 105.0 74.5 105.0 75.5 105.1 76.5 104.8 77.5 104.2 78.5 103.9 79.5 103.8 80.5 103.6 81.5 103.4 82.5 103.6 83.5 103.6 84.5 103.3 85.5 103.1 86.5 103.4 87.5 103.8 88.5 103.9 89.5 103.9 90.5 103.7 91.5 103.4 92.5 103.0 93.5 102.8 94.5 102.8 95.5 102.7 96.5 102.6 97.5 102.7 98.5 102.7 99.5 102.8 100.5 103.2 101.5 103.6 102.5 103.8 103.5 104.3 104.5 105.2 105.5 106.7 106.5 108.6 107.5 110.5 108.5 112.3 109.5 114.6 110.5 116.8 111.5 118.9 112.5 121.3 113.5 123.7 114.5 125.7 115.5 127.5 116.5 129.0 117.5 130.5 118.5 132.1 119.5 133.5 120.5 134.2 121.5 135.0 122.5 136.0 123.5 136.5 124.5 136.2 125.5 135.9 126.5 136.0 127.5 136.1 128.5 135.9 129.5 135.6 130.5 135.4 131.5 135.1 132.5 134.8 133.5 134.7 134.5 134.3 135.5 133.7 136.5 133.1 137.5 132.6 138.5 132.0 139.5 131.1 140.5 130.0 141.5 129.0 142.5 128.3 143.5 127.7 144.5 126.9 145.5 126.3 146.5 125.9 147.5 125.5 148.5 125.1 149.5 124.7 150.5 124.2 151.5 123.5 152.5 122.8 153.5 122.3 154.5 122.1 155.5 122.0 156.5 121.3 157.5 120.2 158.5 119.4 159.5 118.9 160.5 118.4 161.5 118.0 162.5 117.5 163.5 116.9 164.5 116.6 165.5 116.3 166.5 115.8 167.5 115.2 168.5 114.7 169.5 114.5 170.5 114.5 171.5 114.7 172.5 114.7 173.5 114.5 174.5 114.3 175.5 114.4 176.5 114.3 177.5 113.6 178.5 112.5 179.5 111.6 180.5 111.1 181.5 110.8 182.5 110.4 183.5 109.8 184.5 109.2 185.5 108.9 186.5 109.0 187.5 108.9 188.5 108.7 189.5 108.7 190.5 108.8 191.5 108.5 192.5 108.0 193.5 107.4 194.5 107.3 195.5 107.6 196.5 107.6 197.5 107.5 198.5 107.1 199.5 106.7 200.5 106.3 201.5 106.0 202.5 105.7 203.5 105.4 204.5 105.1 205.5 105.0 206.5 105.2 207.5 105.3 208.5 105.2 209.5 105.1 210.5 104.9 211.5 104.9 212.5 105.0 213.5 105.0 214.5 105.0 215.5 104.7 216.5 103.7 217.5 102.7 218.5 102.4 219.5 102.6 220.5 102.4 221.5 102.1 222.5 102.3 223.5 102.4 224.5 102.1 225.5 101.5 226.5 101.1 227.5 100.7 228.5 100.5 229.5 100.4 230.5 100.5 231.5 100.8 232.5 100.9 233.5 101.1 234.5 101.0 235.5 100.6 236.5 100.3 237.5 100.2 238.5 100.5 239.5 100.8 240.5 100.9 241.5 100.9 242.5 101.0 243.5 101.1 244.5 101.1 245.5 101.1 246.5 100.7 247.5 100.0 248.5 99.2 249.5 98.6 250.5 98.4 251.5 98.3 252.5 98.1 253.5 97.8 254.5 97.9 255.5 98.4 256.5 98.8 257.5 98.7 258.5 98.6 259.5 98.8 260.5 99.0 261.5 99.1 262.5 99.5 263.5 99.7 264.5 99.6 265.5 99.4 266.5 99.4 267.5 99.0 268.5 98.7 269.5 98.3 270.5 97.9 271.5 97.6 272.5 97.5 273.5 97.4 274.5 97.5 275.5 97.4 276.5 97.4 277.5 97.5 278.5 97.2 279.5 97.2 280.5 97.0 281.5 96.5 282.5 96.0 283.5 95.8 284.5 95.8 285.5 95.7 286.5 96.0 287.5 96.3 288.5 96.2 289.5 96.2 290.5 96.3 291.5 96.1 292.5 95.7 293.5 95.5 294.5 95.4 295.5 95.5 296.5 95.7 297.5 96.1 298.5 96.4 299.5 96.6 300.5 96.7 301.5 96.7 302.5 96.3 303.5 95.7 304.5 95.5 305.5 95.4 306.5 95.3 307.5 95.3 308.5 95.3 309.5 95.0 310.5 94.8 311.5 95.0 312.5 95.1 313.5 95.2 314.5 95.5 315.5 95.6 316.5 95.4 317.5 95.1 318.5 95.3 319.5 95.5 320.5 95.1 321.5 94.7 322.5 94.5 323.5 94.4 324.5 94.2 325.5 94.0 326.5 94.0 327.5 94.2 328.5 94.1 329.5 93.9 330.5 93.9 331.5 94.0 332.5 94.1 333.5 94.1 334.5 93.9 335.5 93.6 336.5 93.7 337.5 94.0 338.5 94.4 339.5 94.5 340.5 94.5 341.5 94.6 342.5 95.0 343.5 95.5 344.5 95.7 345.5 96.0 346.5 96.1 347.5 95.9 348.5 95.8 349.5 95.7 350.5 95.3 351.5 94.9 352.5 94.9 353.5 94.9 354.5 94.8 355.5 94.5 356.5 94.3 357.5 94.3 358.5 94.5 359.5 94.7 360.5 94.4 361.5 93.9 362.5 94.0 363.5 94.5 364.5 94.7 365.5 94.6 366.5 94.3 367.5 93.6 368.5 93.0 369.5 92.9 370.5 93.3 371.5 93.5 372.5 93.1 373.5 92.8 374.5 92.8 375.5 93.1 376.5 93.3 377.5 93.2 378.5 93.3 379.5 93.7 380.5 94.3 381.5 94.7 382.5 95.2" fill="none" stroke="#111" stroke-width="1.5" stroke-linejoin="round"/>
<path d="M23.5 102.8 24.5 103.4 25.5 103.7 26.5 103.6 27.5 103.4 28.5 103.6 29.5 104.1 30.5 104.4 31.5 104.1 32.5 103.6 33.5 103.2 34.5 103.3 35.5 103.4 36.5 103.4 37.5 103.3 38.5 103.1 39.5 103.2 40.5 103.3 41.5 103.2 42.5 103.2 43.5 103.4 44.5 103.6 45.5 103.8 46.5 104.1 47.5 104.5 48.5 104.7 49.5 104.3 50.5 103.6 51.5 103.0 52.5 102.7 53.5 102.8 54.5 102.8 55.5 102.8 56.5 103.0 57.5 103.3 58.5 103.3 59.5 103.2 60.5 103.0 61.5 102.7 62.5 102.8 63.5 103.0 64.5 102.9 65.5 103.0 66.5 103.2 67.5 103.3 68.5 103.4 69.5 103.8 70.5 104.2 71.5 104.1 72.5 104.0 73.5 104.2 74.5 104.2 75.5 104.0 76.5 104.0 77.5 103.5 78.5 102.6 79.5 102.4 80.5 103.0 81.5 103.2 82.5 102.9 83.5 102.3 84.5 101.9 85.5 102.1 86.5 102.6 87.5 102.6 88.5 102.6 89.5 102.8 90.5 103.2 91.5 103.4 92.5 103.6 93.5 103.8 94.5 103.8 95.5 103.7 96.5 103.5 97.5 103.4 98.5 103.8 99.5 103.9 100.5 103.8 101.5 103.6 102.5 103.6 103.5 103.6 104.5 103.8 105.5 104.2 106.5 104.9 107.5 105.4 108.5 106.0 109.5 106.6 110.5 107.2 111.5 108.2 112.5 109.0 113.5 109.7 114.5 110.5 115.5 111.3 116.5 112.1 117.5 112.7 118.5 112.8 119.5 112.7 120.5 112.6 121.5 112.3 122.5 111.9 123.5 111.7 124.5 111.6 125.5 111.8 126.5 111.7 127.5 111.3 128.5 110.7 129.5 110.6 130.5 110.8 131.5 110.8 132.5 110.8 133.5 110.7 134.5 110.9 135.5 111.1 136.5 110.8 137.5 110.1 138.5 109.2 139.5 108.2 140.5 107.7 141.5 107.3 142.5 106.8 143.5 106.6 144.5 106.8 145.5 106.8 146.5 106.9 147.5 107.1 148.5 106.9 149.5 106.4 150.5 106.0 151.5 105.8 152.5 105.5 153.5 105.1 154.5 104.9 155.5 105.2 156.5 105.5 157.5 105.5 158.5 105.5 159.5 105.5 160.5 105.6 161.5 105.6 162.5 105.1 163.5 104.7 164.5 104.9 165.5 105.1 166.5 105.2 167.5 105.4 168.5 105.3 169.5 105.2 170.5 105.4 171.5 105.5 172.5 105.3 173.5 105.0 174.5 104.8 175.5 104.3 176.5 103.6 177.5 102.9 178.5 102.5 179.5 102.7 180.5 103.0 181.5 103.0 182.5 103.0 183.5 102.8 184.5 102.6 185.5 102.5 186.5 102.4 187.5 102.5 188.5 102.4 189.5 101.8 190.5 101.5 191.5 101.9 192.5 102.4 193.5 102.7 194.5 102.9 195.5 102.9 196.5 103.2 197.5 103.3 198.5 103.4 199.5 103.6 200.5 103.7 201.5 103.6 202.5 103.0 203.5 102.6 204.5 102.6 205.5 102.6 206.5 102.5 207.5 102.3 208.5 102.5 209.5 102.7 210.5 102.7 211.5 102.5 212.5 102.0 213.5 101.6 214.5 101.4 215.5 101.5 216.5 101.7 217.5 101.8 218.5 101.4 219.5 101.2 220.5 101.1 221.5 101.3 222.5 101.6 223.5 101.8 224.5 101.5 225.5 101.4 226.5 101.6 227.5 101.5 228.5 101.2 229.5 101.1 230.5 101.1 231.5 101.0 232.5 101.1 233.5 101.3 234.5 101.3 235.5 101.5 236.5 101.9 237.5 102.0 238.5 101.7 239.5 101.6 240.5 101.7 241.5 101.6 242.5 101.2 243.5 100.7 244.5 100.2 245.5 100.0 246.5 100.0 247.5 99.8 248.5 99.5 249.5 99.8 250.5 100.2 251.5 100.1 252.5 100.2 253.5 100.6 254.5 100.9 255.5 101.2 256.5 101.5 257.5 101.4 258.5 101.5 259.5 101.6 260.5 101.3 261.5 101.0 262.5 101.0 263.5 101.0 264.5 100.5 265.5 100.1 266.5 100.2 267.5 100.4 268.5 100.5 269.5 100.4 270.5 100.6 271.5 100.9 272.5 100.9 273.5 101.0 274.5 101.3 275.5 101.6 276.5 101.7 277.5 101.4 278.5 100.7 279.5 100.3 280.5 100.2 281.5 99.8 282.5 99.4 283.5 99.0 284.5 98.5 285.5 98.5 286.5 98.7 287.5 98.8 288.5 98.9 289.5 98.9 290.5 98.8 291.5 98.4 292.5 98.5 293.5 99.3 294.5 99.8 295.5 99.7 296.5 99.4 297.5 99.9 298.5 100.8 299.5 101.2 300.5 101.0 301.5 100.7 302.5 100.6 303.5 100.3 304.5 100.1 305.5 99.9 306.5 99.4 307.5 99.1 308.5 99.0 309.5 99.3 310.5 99.5 311.5 99.7 312.5 99.9 313.5 100.1 314.5 100.4 315.5 100.8 316.5 101.4 317.5 102.2 318.5 102.3 319.5 101.9 320.5 101.5 321.5 101.1 322.5 100.7 323.5 100.0 324.5 99.2 325.5 99.0 326.5 99.0 327.5 99.1 328.5 99.3 329.5 99.5 330.5 99.7 331.5 100.1 332.5 100.3 333.5 100.4 334.5 100.7 335.5 101.3 336.5 101.6 337.5 101.1 338.5 100.5 339.5 100.1 340.5 100.0 341.5 100.0 342.5 99.9 343.5 99.7 344.5 99.6 345.5 100.1 346.5 100.6 347.5 100.9 348.5 101.0 349.5 101.0 350.5 101.0 351.5 101.3 352.5 101.4 353.5 101.6 354.5 101.8 355.5 101.8 356.5 101.6 357.5 101.3 358.5 101.1 359.5 100.8 360.5 100.3 361.5 99.9 362.5 99.5 363.5 99.1 364.5 98.8 365.5 98.4 366.5 98.0 367.5 97.8 368.5 97.7 369.5 98.2 370.5 98.8 371.5 99.3 372.5 99.6 373.5 99.6 374.5 99.5 375.5 99.3 376.5 99.6 377.5 100.4 378.5 101.2 379.5 101.8 380.5 102.1 381.5 102.3 382.5 102.9" fill="none" stroke="#111" stroke-width="1.5" stroke-linejoin="round"/>
<path d="M23.5 107.2 24.5 106.6 25.5 105.6 26.5 104.7 27.5 104.2 28.5 103.6 29.5 103.1 30.5 102.9 31.5 102.6 32.5 102.5 33.5 102.6 34.5 103.2 35.5 103.8 36.5 103.9 37.5 104.1 38.5 104.6 39.5 104.7 40.5 104.5 41.5 104.1 42.5 104.0 43.5 104.0 44.5 104.1 45.5 104.8 46.5 105.3 47.5 104.8 48.5 104.2 49.5 103.9 50.5 103.8 51.5 103.7 52.5 103.4 53.5 103.4 54.5 103.6 55.5 103.7 56.5 103.6 57.5 103.4 58.5 103.4 59.5 103.4 60.5 103.3 61.5 103.0 62.5 103.1 63.5 103.9 64.5 104.2 65.5 104.0 66.5 103.7 67.5 103.4 68.5 103.1 69.5 102.8 70.5 102.8 71.5 102.9 72.5 102.9 73.5 102.7 74.5 102.4 75.5 102.2 76.5 102.0 77.5 102.0 78.5 102.0 79.5 102.2 80.5 102.4 81.5 102.4 82.5 102.1 83.5 102.1 84.5 102.5 85.5 102.9 86.5 103.5 87.5 103.8 88.5 104.0 89.5 104.2 90.5 104.1 91.5 104.1 92.5 104.4 93.5 104.5 94.5 104.0 95.5 103.7 96.5 103.7 97.5 103.7 98.5 103.5 99.5 103.6 100.5 103.7 101.5 103.9 102.5 104.2 103.5 104.3 104.5 104.1 105.5 104.4 106.5 105.1 107.5 105.6 108.5 105.9 109.5 106.0 110.5 105.8 111.5 105.7 112.5 105.9 113.5 105.8 114.5 105.4 115.5 105.2 116.5 105.5 117.5 106.0 118.5 106.1 119.5 106.0 120.5 106.4 121.5 107.0 122.5 107.6 123.5 107.7 124.5 107.4 125.5 107.5 126.5 107.8 127.5 107.6 128.5 107.5 129.5 107.7 130.5 107.4 131.5 107.2 132.5 107.2 133.5 107.1 134.5 107.1 135.5 107.5 136.5 107.8 137.5 107.8 138.5 107.9 139.5 108.2 140.5 108.3 141.5 108.6 142.5 109.0 143.5 108.9 144.5 108.6 145.5 108.7 146.5 108.7 147.5 108.6 148.5 108.7 149.5 108.8 150.5 108.7 151.5 108.5 152.5 108.5 153.5 108.9 154.5 109.5 155.5 110.0 156.5 109.7 157.5 108.9 158.5 108.3 159.5 108.1 160.5 107.9 161.5 107.5 162.5 107.4 163.5 107.7 164.5 107.3 165.5 106.2 166.5 105.6 167.5 105.7 168.5 105.8 169.5 105.5 170.5 105.3 171.5 105.4 172.5 105.5 173.5 105.9 174.5 106.2 175.5 106.2 176.5 105.9 177.5 105.5 178.5 105.3 179.5 105.4 180.5 105.6 181.5 106.0 182.5 106.4 183.5 106.5 184.5 106.5 185.5 106.7 186.5 106.7 187.5 106.5 188.5 106.4 189.5 106.4 190.5 106.1 191.5 105.8 192.5 105.6 193.5 105.4 194.5 105.0 195.5 104.7 196.5 105.2 197.5 105.7 198.5 105.7 199.5 105.5 200.5 105.5 201.5 105.5 202.5 105.7 203.5 105.9 204.5 106.0 205.5 106.4 206.5 106.7 207.5 106.7 208.5 106.5 209.5 106.5 210.5 106.9 211.5 106.9 212.5 106.8 213.5 107.0 214.5 107.4 215.5 107.2 216.5 106.7 217.5 106.1 218.5 105.9 219.5 105.8 220.5 105.5 221.5 105.1 222.5 105.2 223.5 105.6 224.5 105.4 225.5 105.1 226.5 105.2 227.5 105.4 228.5 105.4 229.5 105.5 230.5 105.8 231.5 105.9 232.5 105.7 233.5 105.5 234.5 105.4 235.5 104.9 236.5 104.5 237.5 104.4 238.5 104.3 239.5 104.2 240.5 104.5 241.5 104.9 242.5 105.4 243.5 106.0 244.5 106.2 245.5 106.3 246.5 106.6 247.5 106.5 248.5 106.3 249.5 106.1 250.5 105.8 251.5 105.3 252.5 104.9 253.5 104.7 254.5 104.8 255.5 105.0 256.5 105.2 257.5 105.7 258.5 106.2 259.5 106.6 260.5 107.0 261.5 107.1 262.5 106.8 263.5 106.2 264.5 106.1 265.5 106.4 266.5 106.5 267.5 105.9 268.5 105.2 269.5 105.1 270.5 105.3 271.5 105.6 272.5 105.6 273.5 105.9 274.5 106.3 275.5 106.3 276.5 106.3 277.5 106.6 278.5 106.8 279.5 106.7 280.5 106.3 281.5 106.0 282.5 106.1 283.5 106.1 284.5 106.4 285.5 106.8 286.5 107.1 287.5 107.1 288.5 106.9 289.5 106.5 290.5 106.2 291.5 106.4 292.5 106.8 293.5 107.3 294.5 107.7 295.5 107.8 296.5 107.7 297.5 107.4 298.5 107.2 299.5 107.1 300.5 106.8 301.5 106.5 302.5 106.2 303.5 106.0 304.5 105.7 305.5 105.4 306.5 105.4 307.5 105.6 308.5 105.7 309.5 105.7 310.5 106.0 311.5 106.4 312.5 106.4 313.5 106.2 314.5 106.2 315.5 106.4 316.5 106.7 317.5 106.9 318.5 107.1 319.5 107.2 320.5 107.0 321.5 106.7 322.5 106.6 323.5 106.6 324.5 106.7 325.5 106.5 326.5 106.1 327.5 106.0 328.5 105.7 329.5 105.4 330.5 105.2 331.5 105.1 332.5 105.2 333.5 105.6 334.5 105.8 335.5 105.8 336.5 105.9 337.5 106.4 338.5 106.9 339.5 107.0 340.5 107.2 341.5 107.3 342.5 107.3 343.5 107.4 344.5 107.4 345.5 107.5 346.5 107.5 347.5 107.4 348.5 107.5 349.5 107.5 350.5 107.3 351.5 107.3 352.5 107.5 353.5 107.6 354.5 107.9 355.5 108.3 356.5 108.4 357.5 108.5 358.5 108.5 359.5 108.2 360.5 107.9 361.5 107.6 362.5 107.5 363.5 107.4 364.5 107.4 365.5 107.3 366.5 107.0 367.5 106.6 368.5 106.6 369.5 106.7 370.5 106.7 371.5 106.7 372.5 106.9 373.5 107.3 374.5 107.2 375.5 106.5 376.5 105.9 377.5 105.7 378.5 105.5 379.5 105.1 380.5 104.7 381.5 104.3 382.5 103.6" fill="none" stroke="#111" stroke-width="1.5" stroke-linejoin="round"/>
<path d="M23.5 100.9 24.5 102.1 25.5 102.8 26.5 103.4 27.5 103.9 28.5 103.8 29.5 103.6 30.5 103.5 31.5 103.3 32.5 103.4 33.5 103.7 34.5 103.5 35.5 103.2 36.5 103.2 37.5 103.0 38.5 103.0 39.5 103.2 40.5 103.2 41.5 103.3 42.5 103.6 43.5 103.7 44.5 103.5 45.5 103.6 46.5 103.9 47.5 104.0 48.5 104.1 49.5 104.3 50.5 104.3 51.5 104.1 52.5 104.0 53.5 103.9 54.5 104.0 55.5 104.0 56.5 104.0 57.5 104.2 58.5 104.1 59.5 104.0 60.5 103.9 61.5 103.8 62.5 103.3 63.5 102.9 64.5 102.8 65.5 103.2 66.5 103.1 67.5 102.5 68.5 102.4 69.5 103.0 70.5 103.3 71.5 103.4 72.5 103.8 73.5 104.0 74.5 103.6 75.5 103.5 76.5 103.9 77.5 104.2 78.5 103.8 79.5 103.1 80.5 102.6 81.5 102.5 82.5 102.4 83.5 102.5 84.5 102.9 85.5 103.1 86.5 102.6 87.5 102.1 88.5 101.9 89.5 102.0 90.5 102.0 91.5 101.7 92.5 101.2 93.5 101.5 94.5 102.2 95.5 102.3 96.5 101.9 97.5 101.7 98.5 102.1 99.5 102.4 100.5 102.4 101.5 102.6 102.5 103.3 103.5 103.7 104.5 104.1 105.5 104.4 106.5 104.4 107.5 104.6 108.5 105.1 109.5 105.5 110.5 105.5 111.5 105.5 112.5 105.7 113.5 105.9 114.5 106.3 115.5 106.9 116.5 107.5 117.5 107.7 118.5 107.6 119.5 107.5 120.5 107.7 121.5 107.9 122.5 107.6 123.5 107.3 124.5 107.1 125.5 107.3 126.5 107.6 127.5 107.7 128.5 107.6 129.5 107.3 130.5 106.8 131.5 106.6 132.5 106.8 133.5 106.8 134.5 106.6 135.5 106.7 136.5 106.9 137.5 107.0 138.5 106.8 139.5 106.9 140.5 107.1 141.5 107.0 142.5 106.6 143.5 106.4 144.5 106.2 145.5 105.7 146.5 105.5 147.5 105.6 148.5 105.7 149.5 105.5 150.5 105.5 151.5 105.5 152.5 105.0 153.5 104.6 154.5 104.6 155.5 104.3 156.5 104.2 157.5 104.6 158.5 104.8 159.5 104.7 160.5 104.8 161.5 104.9 162.5 104.6 163.5 104.4 164.5 104.6 165.5 104.6 166.5 104.5 167.5 104.9 168.5 105.2 169.5 105.0 170.5 105.0 171.5 105.0 172.5 104.9 173.5 104.9 174.5 105.0 175.5 104.9 176.5 104.6 177.5 104.5 178.5 104.3 179.5 104.0 180.5 103.7 181.5 103.3 182.5 103.0 183.5 102.9 184.5 102.6 185.5 102.4 186.5 102.7 187.5 103.3 188.5 103.7 189.5 103.9 190.5 103.8 191.5 103.8 192.5 104.0 193.5 104.4 194.5 104.7 195.5 104.5 196.5 104.4 197.5 104.4 198.5 104.6 199.5 104.6 200.5 104.5 201.5 104.6 202.5 104.3 203.5 104.2 204.5 104.5 205.5 104.6 206.5 104.8 207.5 104.9 208.5 104.6 209.5 104.3 210.5 104.1 211.5 104.2 212.5 104.0 213.5 103.7 214.5 103.6 215.5 103.9 216.5 104.3 217.5 104.4 218.5 104.4 219.5 104.4 220.5 104.1 221.5 103.6 222.5 103.1 223.5 103.2 224.5 103.5 225.5 103.2 226.5 102.8 227.5 102.6 228.5 102.5 229.5 102.7 230.5 102.7 231.5 102.5 232.5 102.6 233.5 103.2 234.5 103.7 235.5 103.6 236.5 103.4 237.5 103.3 238.5 103.3 239.5 103.7 240.5 104.1 241.5 104.5 242.5 104.3 243.5 104.2 244.5 104.5 245.5 104.9 246.5 105.2 247.5 105.4 248.5 105.4 249.5 104.9 250.5 104.6 251.5 104.5 252.5 104.2 253.5 104.3 254.5 104.5 255.5 104.6 256.5 104.9 257.5 105.0 258.5 104.6 259.5 104.4 260.5 104.4 261.5 104.5 262.5 104.6 263.5 104.6 264.5 104.4 265.5 104.3 266.5 104.2 267.5 104.0 268.5 103.6 269.5 103.8 270.5 104.0 271.5 103.8 272.5 103.6 273.5 103.4 274.5 103.4 275.5 103.8 276.5 104.2 277.5 104.5 278.5 104.6 279.5 105.0 280.5 105.4 281.5 105.6 282.5 106.0 283.5 106.3 284.5 106.2 285.5 106.0 286.5 106.1 287.5 106.5 288.5 106.6 289.5 106.2 290.5 106.0 291.5 105.8 292.5 105.4 293.5 105.2 294.5 105.5 295.5 105.7 296.5 105.4 297.5 104.9 298.5 104.8 299.5 104.4 300.5 104.1 301.5 104.0 302.5 104.1 303.5 103.8 304.5 103.6 305.5 103.5 306.5 103.2 307.5 103.3 308.5 103.7 309.5 103.7 310.5 103.2 311.5 103.0 312.5 103.0 313.5 103.3 314.5 103.8 315.5 104.3 316.5 104.4 317.5 104.2 318.5 103.8 319.5 103.9 320.5 104.6 321.5 105.1 322.5 105.0 323.5 104.6 324.5 104.0 325.5 103.3 326.5 103.0 327.5 103.4 328.5 103.8 329.5 103.6 330.5 103.0 331.5 102.9 332.5 102.9 333.5 102.7 334.5 102.9 335.5 103.3 336.5 103.4 337.5 103.3 338.5 103.3 339.5 103.5 340.5 103.8 341.5 104.0 342.5 103.8 343.5 103.4 344.5 103.3 345.5 103.3 346.5 103.3 347.5 103.6 348.5 103.5 349.5 103.4 350.5 103.5 351.5 103.7 352.5 104.1 353.5 104.8 354.5 104.9 355.5 104.2 356.5 104.0 357.5 104.3 358.5 104.5 359.5 104.7 360.5 104.5 361.5 104.2 362.5 104.0 363.5 103.8 364.5 103.9 365.5 104.2 366.5 104.3 367.5 104.3 368.5 104.4 369.5 104.6 370.5 104.9 371.5 105.3 372.5 105.6 373.5 105.6 374.5 105.8 375.5 105.9 376.5 105.4 377.5 105.0 378.5 104.5 379.5 103.7 380.5 103.1 381.5 102.4 382.5 101.8" fill="none" stroke="#111" stroke-width="1.5" stroke-linejoin="round"/>
<path d="M23.5 102.7 24.5 102.8 25.5 102.7 26.5 102.6 27.5 102.8 28.5 103.0 29.5 103.1 30.5 103.0 31.5 102.5 32.5 102.3 33.5 102.7 34.5 102.9 35.5 102.7 36.5 102.4 37.5 101.8 38.5 101.6 39.5 101.8 40.5 101.7 41.5 101.4 42.5 101.4 43.5 101.4 44.5 101.5 45.5 101.6 46.5 102.0 47.5 102.4 48.5 102.6 49.5 102.7 50.5 102.6 51.5 102.4 52.5 102.3 53.5 102.1 54.5 102.1 55.5 102.3 56.5 102.4 57.5 102.5 58.5 102.7 59.5 102.9 60.5 103.2 61.5 103.3 62.5 103.3 63.5 103.2 64.5 103.1 65.5 103.1 66.5 103.0 67.5 102.6 68.5 102.2 69.5 102.3 70.5 102.6 71.5 103.0 72.5 103.2 73.5 103.3 74.5 103.8 75.5 104.2 76.5 104.2 77.5 103.8 78.5 103.6 79.5 103.7 80.5 103.8 81.5 103.8 82.5 103.5 83.5 103.3 84.5 103.0 85.5 102.6 86.5 102.6 87.5 102.8 88.5 102.8 89.5 102.6 90.5 102.3 91.5 102.3 92.5 102.3 93.5 102.4 94.5 102.2 95.5 101.6 96.5 101.2 97.5 101.2 98.5 101.1 99.5 101.0 100.5 100.9 101.5 100.9 102.5 101.3 103.5 102.0 104.5 102.5 105.5 102.8 106.5 103.2 107.5 103.3 108.5 103.2 109.5 103.3 110.5 103.6 111.5 103.7 112.5 104.1 113.5 104.3 114.5 104.0 115.5 104.0 116.5 104.5 117.5 104.9 118.5 105.1 119.5 105.3 120.5 105.3 121.5 105.1 122.5 105.1 123.5 105.2 124.5 105.3 125.5 105.2 126.5 105.1 127.5 105.2 128.5 105.3 129.5 105.5 130.5 105.3 131.5 104.9 132.5 104.4 133.5 104.1 134.5 103.8 135.5 103.5 136.5 103.3 137.5 103.1 138.5 102.7 139.5 102.3 140.5 102.4 141.5 102.6 142.5 102.4 143.5 102.2 144.5 102.4 145.5 102.8 146.5 102.9 147.5 102.9 148.5 103.0 149.5 103.2 150.5 103.1 151.5 102.8 152.5 102.5 153.5 102.4 154.5 102.3 155.5 102.5 156.5 102.7 157.5 102.6 158.5 102.9 159.5 103.2 160.5 103.2 161.5 103.1 162.5 103.2 163.5 103.2 164.5 103.4 165.5 103.7 166.5 103.9 167.5 104.2 168.5 104.6 169.5 104.6 170.5 104.3 171.5 104.3 172.5 104.3 173.5 104.0 174.5 103.6 175.5 103.4 176.5 103.2 177.5 103.2 178.5 103.2 179.5 103.4 180.5 103.5 181.5 103.2 182.5 102.8 183.5 102.6 184.5 102.6 185.5 102.8 186.5 102.9 187.5 102.9 188.5 103.0 189.5 102.7 190.5 102.3 191.5 102.3 192.5 102.5 193.5 102.8 194.5 103.0 195.5 103.0 196.5 103.1 197.5 103.3 198.5 103.3 199.5 103.2 200.5 103.2 201.5 103.4 202.5 103.7 203.5 103.8 204.5 103.7 205.5 103.7 206.5 104.0 207.5 104.0 208.5 103.5 209.5 103.1 210.5 103.0 211.5 103.3 212.5 103.6 213.5 103.8 214.5 103.8 215.5 103.6 216.5 103.4 217.5 103.0 218.5 102.8 219.5 102.5 220.5 101.7 221.5 101.2 222.5 101.5 223.5 102.1 224.5 102.4 225.5 102.4 226.5 102.0 227.5 101.5 228.5 101.4 229.5 101.7 230.5 102.0 231.5 102.1 232.5 102.3 233.5 102.2 234.5 101.8 235.5 101.9 236.5 102.1 237.5 102.2 238.5 102.5 239.5 103.1 240.5 103.0 241.5 102.4 242.5 102.1 243.5 101.6 244.5 101.1 245.5 100.9 246.5 100.7 247.5 100.6 248.5 100.5 249.5 100.2 250.5 100.1 251.5 100.3 252.5 100.3 253.5 100.3 254.5 100.6 255.5 101.2 256.5 101.4 257.5 101.2 258.5 101.1 259.5 101.2 260.5 101.2 261.5 101.4 262.5 101.4 263.5 101.3 264.5 101.1 265.5 100.9 266.5 100.9 267.5 100.8 268.5 100.8 269.5 101.0 270.5 101.0 271.5 100.8 272.5 100.8 273.5 100.7 274.5 100.5 275.5 100.6 276.5 100.8 277.5 100.6 278.5 100.3 279.5 100.3 280.5 100.4 281.5 100.6 282.5 100.8 283.5 100.8 284.5 101.1 285.5 101.6 286.5 101.9 287.5 102.4 288.5 103.1 289.5 103.0 290.5 102.5 291.5 102.3 292.5 102.1 293.5 102.1 294.5 102.2 295.5 102.4 296.5 102.5 297.5 102.5 298.5 102.5 299.5 102.6 300.5 102.7 301.5 102.7 302.5 102.7 303.5 102.8 304.5 102.6 305.5 102.2 306.5 101.4 307.5 100.8 308.5 100.7 309.5 101.0 310.5 101.1 311.5 100.8 312.5 100.9 313.5 101.3 314.5 101.5 315.5 101.3 316.5 101.1 317.5 101.3 318.5 101.4 319.5 101.3 320.5 101.1 321.5 101.0 322.5 101.1 323.5 101.5 324.5 101.3 325.5 100.8 326.5 100.7 327.5 100.6 328.5 100.5 329.5 100.6 330.5 100.7 331.5 100.8 332.5 100.9 333.5 101.0 334.5 101.3 335.5 101.6 336.5 101.9 337.5 102.4 338.5 102.7 339.5 102.2 340.5 101.6 341.5 101.1 342.5 100.7 343.5 100.6 344.5 100.9 345.5 101.2 346.5 101.1 347.5 100.8 348.5 100.9 349.5 101.1 350.5 101.3 351.5 101.3 352.5 101.0 353.5 100.7 354.5 100.7 355.5 100.8 356.5 100.6 357.5 100.4 358.5 100.3 359.5 100.1 360.5 100.0 361.5 100.2 362.5 100.6 363.5 100.5 364.5 100.0 365.5 99.8 366.5 99.9 367.5 100.1 368.5 100.6 369.5 100.9 370.5 101.1 371.5 101.2 372.5 101.4 373.5 101.6 374.5 101.8 375.5 101.9 376.5 102.0 377.5 101.8 378.5 102.1 379.5 102.9 380.5 103.8 381.5 104.7 382.5 105.7" fill="none" stroke="#111" stroke-width="1.5" stroke-linejoin="round"/>
<line x1="355.9" y1="191.3" x2="355.9" y2="252.2" stroke="#000" stroke-width="2.2"/>
<text x="279.2" y="225" font-size="19.5" stroke="#000" stroke-width="0.35" text-anchor="start" fill="#000" textLength="62.2" lengthAdjust="spacingAndGlyphs">500 pA</text>
<line x1="252.4" y1="303.7" x2="329.7" y2="303.7" stroke="#000" stroke-width="2.2"/>
<text x="266.8" y="334.6" font-size="19.5" stroke="#000" stroke-width="0.35" text-anchor="start" fill="#000" textLength="41.7" lengthAdjust="spacingAndGlyphs">5 ms</text>
<text x="448.8" y="29.6" font-size="33.5" stroke="#000" stroke-width="0.35" text-anchor="start" fill="#000">B</text>
<text x="548.4" y="52.8" font-size="19.2" stroke="#000" stroke-width="0.35" text-anchor="start" fill="#000" textLength="185.6" lengthAdjust="spacingAndGlyphs">Mepyramine (50 μM)</text>
<rect x="479.4" y="68.8" width="339" height="15.2" fill="#d1d0ce"/>
<path d="M463.8 110.7 464.8 131.2 466.0 187.6 467.2 247.4 467.8 280.1 468.1 281.6" fill="none" stroke="#a8a8a8" stroke-width="1" stroke-linejoin="round"/>
<path d="M461.3 104.4 462.1 102.9 462.7 106.4 463.3 107.6 463.8 110.7" fill="none" stroke="#3a3a3a" stroke-width="1.2" stroke-linejoin="round"/>
<path d="M468.1 281.6 468.3 266.5 468.5 252.8 468.6 240.3 468.8 229.0 469.0 218.7 469.2 209.4 469.4 200.8" fill="none" stroke="#a0a0a0" stroke-width="1" stroke-linejoin="round"/>
<path d="M469.4 200.8 469.5 193.1 469.7 186.0 469.9 179.6 470.1 173.7 470.3 168.4 470.4 163.5 470.6 159.0 470.8 154.9 471.0 151.2 471.2 147.7 471.3 144.6 471.5 141.7 471.7 139.1" fill="none" stroke="#6a6a6a" stroke-width="1.1" stroke-linejoin="round"/>
<path d="M471.7 139.1 471.9 136.6 472.1 134.4 472.2 132.3 472.4 130.4 472.6 128.7 472.8 127.0 473.0 125.5 473.1 124.1 473.3 122.8 473.5 121.6 473.7 120.5 473.9 119.5 474.0 118.5 474.2 117.3 474.4 116.5 474.6 115.8 474.7 114.9 474.9 114.2 475.1 113.2 475.3 112.9 475.5 112.1 475.6 111.4 475.8 110.7 476.0 110.5 476.2 110.2 476.4 110.0 476.5 109.8 476.7 109.2 476.9 108.7 477.1 108.2 477.3 108.4 477.4 108.3 477.6 108.0 477.8 107.4 478.0 106.8 478.2 106.3 478.3 106.0 478.5 106.1 478.7 106.3 478.9 106.5 479.1 106.5 479.2 106.4 479.4 106.0 479.6 105.8 479.8 105.9 480.0 106.2 480.1 106.2 480.3 106.1 480.5 106.1" fill="none" stroke="#333" stroke-width="1.3" stroke-linejoin="round"/>
<path d="M483.0 110.7 484.0 131.0 485.2 186.8 486.4 246.0 487.0 278.3 487.3 279.8" fill="none" stroke="#a8a8a8" stroke-width="1" stroke-linejoin="round"/>
<path d="M480.5 104.4 481.3 102.9 481.9 106.4 482.5 107.6 483.0 110.7" fill="none" stroke="#3a3a3a" stroke-width="1.2" stroke-linejoin="round"/>
<path d="M487.3 279.8 487.5 264.9 487.7 251.3 487.9 239.0 488.1 227.8 488.2 217.6 488.4 208.3 488.6 199.9" fill="none" stroke="#a0a0a0" stroke-width="1" stroke-linejoin="round"/>
<path d="M488.6 199.9 488.8 192.2 489.0 185.2 489.1 178.8 489.3 173.0 489.5 167.7 489.7 162.9 489.9 158.4 490.0 154.4 490.2 150.7 490.4 147.3 490.6 144.2 490.8 141.3 490.9 138.7" fill="none" stroke="#6a6a6a" stroke-width="1.1" stroke-linejoin="round"/>
<path d="M490.9 138.7 491.1 136.3 491.3 134.1 491.5 132.1 491.7 130.2 491.8 128.4 492.0 126.8 492.2 125.3 492.4 124.0 492.6 122.7 492.7 121.5 492.9 120.4 493.1 119.3 493.3 118.3 493.5 117.8 493.6 116.4 493.8 115.6 494.0 114.9 494.2 114.5 494.3 113.7 494.5 113.0 494.7 112.5 494.9 111.7 495.1 110.9 495.2 110.2 495.4 110.1 495.6 109.8 495.8 109.6 496.0 109.1 496.1 108.9 496.3 108.1 496.5 107.8 496.7 107.7 496.9 107.6 497.0 107.3 497.2 106.8 497.4 106.8 497.6 106.4 497.8 106.6 497.9 106.6 498.1 106.7 498.3 106.5 498.5 106.3 498.7 106.1 498.8 105.6 499.0 105.8 499.2 106.1 499.4 106.1 499.6 105.8 499.7 105.5" fill="none" stroke="#333" stroke-width="1.3" stroke-linejoin="round"/>
<path d="M502.2 110.7 503.2 130.4 504.4 184.5 505.6 241.9 506.3 273.2 506.6 274.7" fill="none" stroke="#a8a8a8" stroke-width="1" stroke-linejoin="round"/>
<path d="M499.7 104.4 500.5 102.9 501.1 106.4 501.7 107.6 502.2 110.7" fill="none" stroke="#3a3a3a" stroke-width="1.2" stroke-linejoin="round"/>
<path d="M506.6 274.7 506.8 260.2 506.9 247.0 507.1 235.0 507.3 224.2 507.5 214.3 507.7 205.3 507.8 197.1" fill="none" stroke="#a0a0a0" stroke-width="1" stroke-linejoin="round"/>
<path d="M507.8 197.1 508.0 189.7 508.2 182.9 508.4 176.7 508.6 171.1 508.7 165.9 508.9 161.2 509.1 156.9 509.3 153.0 509.5 149.4 509.6 146.1 509.8 143.1 510.0 140.3 510.2 137.7" fill="none" stroke="#6a6a6a" stroke-width="1.1" stroke-linejoin="round"/>
<path d="M510.2 137.7 510.4 135.4 510.5 133.3 510.7 131.3 510.9 129.4 511.1 127.8 511.3 126.2 511.4 124.7 511.6 123.4 511.8 122.2 512.0 121.0 512.2 119.9 512.3 118.9 512.5 118.0 512.7 117.3 512.9 116.0 513.0 115.1 513.2 114.2 513.4 113.8 513.6 113.0 513.8 112.5 513.9 112.2 514.1 111.9 514.3 111.7 514.5 111.2 514.7 110.5 514.8 109.9 515.0 109.4 515.2 109.1 515.4 108.6 515.6 108.1 515.7 108.1 515.9 108.1 516.1 107.6 516.3 107.1 516.5 106.9 516.6 107.3 516.8 107.0 517.0 106.5 517.2 105.8 517.4 105.8 517.5 105.9 517.7 106.2 517.9 106.1 518.1 106.2 518.3 106.0 518.4 106.1 518.6 105.9 518.8 105.8 519.0 105.7" fill="none" stroke="#333" stroke-width="1.3" stroke-linejoin="round"/>
<path d="M521.5 110.7 522.5 129.3 523.7 180.5 524.9 234.8 525.5 264.3 525.8 265.8" fill="none" stroke="#a8a8a8" stroke-width="1" stroke-linejoin="round"/>
<path d="M519.0 104.4 519.8 102.9 520.4 106.4 521.0 107.6 521.5 110.7" fill="none" stroke="#3a3a3a" stroke-width="1.2" stroke-linejoin="round"/>
<path d="M525.8 265.8 526.0 252.1 526.2 239.6 526.4 228.2 526.5 217.9 526.7 208.6 526.9 200.1 527.1 192.3" fill="none" stroke="#a0a0a0" stroke-width="1" stroke-linejoin="round"/>
<path d="M527.1 192.3 527.3 185.2 527.4 178.8 527.6 173.0 527.8 167.6 528.0 162.7 528.2 158.3 528.3 154.2 528.5 150.5 528.7 147.1 528.9 144.0 529.1 141.1 529.2 138.5 529.4 136.1" fill="none" stroke="#6a6a6a" stroke-width="1.1" stroke-linejoin="round"/>
<path d="M529.4 136.1 529.6 133.8 529.8 131.8 530.0 129.9 530.1 128.2 530.3 126.6 530.5 125.1 530.7 123.7 530.9 122.5 531.0 121.3 531.2 120.2 531.4 119.1 531.6 118.2 531.8 117.3 531.9 116.3 532.1 115.9 532.3 115.1 532.5 113.9 532.6 113.5 532.8 112.9 533.0 112.8 533.2 112.2 533.4 111.2 533.5 110.6 533.7 109.7 533.9 109.9 534.1 109.6 534.3 109.5 534.4 108.2 534.6 107.9 534.8 107.7 535.0 107.7 535.2 106.8 535.3 106.8 535.5 106.6 535.7 106.7 535.9 105.7 536.1 106.0 536.2 106.1 536.4 106.2 536.6 106.2 536.8 105.6 537.0 105.4 537.1 105.2 537.3 105.7 537.5 106.0 537.7 105.9 537.9 105.7 538.0 106.0 538.2 106.2" fill="none" stroke="#333" stroke-width="1.3" stroke-linejoin="round"/>
<path d="M540.7 110.7 541.7 128.8 542.9 178.6 544.1 231.3 544.8 260.0 545.1 261.5" fill="none" stroke="#a8a8a8" stroke-width="1" stroke-linejoin="round"/>
<path d="M538.2 104.4 539.0 102.9 539.6 106.4 540.2 107.6 540.7 110.7" fill="none" stroke="#3a3a3a" stroke-width="1.2" stroke-linejoin="round"/>
<path d="M545.1 261.5 545.2 248.1 545.4 236.0 545.6 224.9 545.8 214.9 546.0 205.8 546.1 197.5 546.3 190.0" fill="none" stroke="#a0a0a0" stroke-width="1" stroke-linejoin="round"/>
<path d="M546.3 190.0 546.5 183.1 546.7 176.9 546.9 171.1 547.0 165.9 547.2 161.2 547.4 156.9 547.6 152.9 547.8 149.3 547.9 146.0 548.1 142.9 548.3 140.1 548.5 137.6 548.7 135.2" fill="none" stroke="#6a6a6a" stroke-width="1.1" stroke-linejoin="round"/>
<path d="M548.7 135.2 548.8 133.1 549.0 131.1 549.2 129.3 549.4 127.6 549.6 126.0 549.7 124.6 549.9 123.2 550.1 122.0 550.3 120.8 550.5 119.8 550.6 118.8 550.8 117.8 551.0 117.0 551.2 115.4 551.3 114.6 551.5 113.9 551.7 113.5 551.9 112.9 552.1 112.5 552.2 112.2 552.4 111.9 552.6 111.1 552.8 110.7 553.0 110.0 553.1 109.8 553.3 109.4 553.5 109.1 553.7 109.0 553.9 108.3 554.0 107.8 554.2 107.3 554.4 107.3 554.6 107.0 554.8 106.8 554.9 106.8 555.1 106.8 555.3 106.5 555.5 106.1 555.7 106.0 555.8 106.2 556.0 106.2 556.2 106.0 556.4 105.6 556.6 105.6 556.7 105.5 556.9 105.4 557.1 105.3 557.3 105.3 557.5 105.5" fill="none" stroke="#333" stroke-width="1.3" stroke-linejoin="round"/>
<path d="M560.0 110.7 561.0 128.2 562.2 176.5 563.4 227.7 564.0 255.4 564.3 256.9" fill="none" stroke="#a8a8a8" stroke-width="1" stroke-linejoin="round"/>
<path d="M557.5 104.4 558.3 102.9 558.9 106.4 559.5 107.6 560.0 110.7" fill="none" stroke="#3a3a3a" stroke-width="1.2" stroke-linejoin="round"/>
<path d="M564.3 256.9 564.5 243.9 564.7 232.1 564.8 221.4 565.0 211.7 565.2 202.9 565.4 194.8 565.6 187.5" fill="none" stroke="#a0a0a0" stroke-width="1" stroke-linejoin="round"/>
<path d="M565.6 187.5 565.7 180.8 565.9 174.8 566.1 169.2 566.3 164.2 566.5 159.6 566.6 155.4 566.8 151.5 567.0 148.0 567.2 144.8 567.4 141.8 567.5 139.1 567.7 136.6 567.9 134.4" fill="none" stroke="#6a6a6a" stroke-width="1.1" stroke-linejoin="round"/>
<path d="M567.9 134.4 568.1 132.3 568.3 130.3 568.4 128.6 568.6 126.9 568.8 125.4 569.0 124.0 569.2 122.7 569.3 121.5 569.5 120.4 569.7 119.3 569.9 118.4 570.1 117.5 570.2 116.6 570.4 116.3 570.6 115.3 570.8 114.3 570.9 113.2 571.1 112.9 571.3 112.4 571.5 112.3 571.7 111.5 571.8 111.0 572.0 110.3 572.2 109.7 572.4 109.2 572.6 108.7 572.7 108.5 572.9 108.4 573.1 107.9 573.3 107.3 573.5 107.1 573.6 106.8 573.8 106.9 574.0 106.4 574.2 106.5 574.4 106.4 574.5 106.6 574.7 106.8 574.9 106.4 575.1 106.4 575.3 105.8 575.4 106.0 575.6 105.7 575.8 105.7 576.0 106.0 576.2 105.7 576.3 105.5 576.5 105.3 576.7 105.5" fill="none" stroke="#333" stroke-width="1.3" stroke-linejoin="round"/>
<path d="M579.2 110.7 580.2 127.3 581.4 173.0 582.6 221.5 583.2 247.7 583.5 249.2" fill="none" stroke="#a8a8a8" stroke-width="1" stroke-linejoin="round"/>
<path d="M576.7 104.4 577.5 102.9 578.1 106.4 578.7 107.6 579.2 110.7" fill="none" stroke="#3a3a3a" stroke-width="1.2" stroke-linejoin="round"/>
<path d="M583.5 249.2 583.7 236.9 583.9 225.7 584.1 215.5 584.3 206.3 584.4 197.9 584.6 190.3 584.8 183.3" fill="none" stroke="#a0a0a0" stroke-width="1" stroke-linejoin="round"/>
<path d="M584.8 183.3 585.0 177.0 585.2 171.2 585.3 166.0 585.5 161.2 585.7 156.8 585.9 152.8 586.1 149.2 586.2 145.8 586.4 142.8 586.6 140.0 586.8 137.4 587.0 135.1 587.1 132.9" fill="none" stroke="#6a6a6a" stroke-width="1.1" stroke-linejoin="round"/>
<path d="M587.1 132.9 587.3 130.9 587.5 129.1 587.7 127.4 587.9 125.8 588.0 124.4 588.2 123.1 588.4 121.8 588.6 120.7 588.8 119.6 588.9 118.6 589.1 117.7 589.3 116.8 589.5 116.0 589.7 115.4 589.8 114.4 590.0 113.6 590.2 112.9 590.4 112.4 590.5 111.8 590.7 111.6 590.9 111.2 591.1 110.7 591.3 110.6 591.4 109.7 591.6 109.4 591.8 108.1 592.0 108.0 592.2 107.6 592.3 108.4 592.5 108.1 592.7 107.7 592.9 106.7 593.1 106.9 593.2 106.7 593.4 107.0 593.6 106.7 593.8 106.5 594.0 106.1 594.1 106.0 594.3 105.6 594.5 105.5 594.7 105.2 594.9 105.6 595.0 105.8 595.2 106.1 595.4 106.1 595.6 105.9 595.8 105.7 595.9 105.8" fill="none" stroke="#333" stroke-width="1.3" stroke-linejoin="round"/>
<path d="M598.4 110.7 599.4 127.3 600.6 173.0 601.8 221.5 602.5 247.7 602.8 249.2" fill="none" stroke="#a8a8a8" stroke-width="1" stroke-linejoin="round"/>
<path d="M595.9 104.4 596.7 102.9 597.3 106.4 597.9 107.6 598.4 110.7" fill="none" stroke="#3a3a3a" stroke-width="1.2" stroke-linejoin="round"/>
<path d="M602.8 249.2 603.0 236.9 603.1 225.7 603.3 215.5 603.5 206.3 603.7 197.9 603.9 190.3 604.0 183.3" fill="none" stroke="#a0a0a0" stroke-width="1" stroke-linejoin="round"/>
<path d="M604.0 183.3 604.2 177.0 604.4 171.2 604.6 166.0 604.8 161.2 604.9 156.8 605.1 152.8 605.3 149.2 605.5 145.8 605.7 142.8 605.8 140.0 606.0 137.4 606.2 135.1 606.4 132.9" fill="none" stroke="#6a6a6a" stroke-width="1.1" stroke-linejoin="round"/>
<path d="M606.4 132.9 606.6 130.9 606.7 129.1 606.9 127.4 607.1 125.8 607.3 124.4 607.5 123.1 607.6 121.8 607.8 120.7 608.0 119.6 608.2 118.6 608.4 117.7 608.5 116.8 608.7 116.0 608.9 115.2 609.1 114.7 609.2 113.7 609.4 113.0 609.6 111.8 609.8 111.4 610.0 111.2 610.1 111.1 610.3 110.7 610.5 110.2 610.7 109.9 610.9 109.7 611.0 108.9 611.2 108.4 611.4 107.8 611.6 107.9 611.8 107.7 611.9 107.3 612.1 106.7 612.3 106.7 612.5 106.2 612.7 106.5 612.8 106.2 613.0 106.8 613.2 106.0 613.4 105.3 613.6 104.9 613.7 105.1 613.9 105.7 614.1 105.7 614.3 105.8 614.5 105.3 614.6 105.3 614.8 105.5 615.0 105.8 615.2 105.8" fill="none" stroke="#333" stroke-width="1.3" stroke-linejoin="round"/>
<path d="M617.7 110.7 618.7 126.3 619.9 169.2 621.1 214.8 621.7 239.3 622.0 240.8" fill="none" stroke="#a8a8a8" stroke-width="1" stroke-linejoin="round"/>
<path d="M615.2 104.4 616.0 102.9 616.6 106.4 617.2 107.6 617.7 110.7" fill="none" stroke="#3a3a3a" stroke-width="1.2" stroke-linejoin="round"/>
<path d="M622.0 240.8 622.2 229.2 622.4 218.7 622.6 209.1 622.7 200.4 622.9 192.5 623.1 185.3 623.3 178.8" fill="none" stroke="#a0a0a0" stroke-width="1" stroke-linejoin="round"/>
<path d="M623.3 178.8 623.5 172.8 623.6 167.4 623.8 162.5 624.0 157.9 624.2 153.8 624.4 150.1 624.5 146.6 624.7 143.5 624.9 140.6 625.1 138.0 625.3 135.6 625.4 133.3 625.6 131.3" fill="none" stroke="#6a6a6a" stroke-width="1.1" stroke-linejoin="round"/>
<path d="M625.6 131.3 625.8 129.4 626.0 127.7 626.2 126.1 626.3 124.7 626.5 123.3 626.7 122.0 626.9 120.9 627.1 119.8 627.2 118.8 627.4 117.9 627.6 117.0 627.8 116.2 628.0 115.4 628.1 114.4 628.3 113.7 628.5 113.4 628.7 113.1 628.8 112.6 629.0 111.9 629.2 111.3 629.4 110.9 629.6 110.2 629.7 109.5 629.9 108.8 630.1 108.9 630.3 109.0 630.5 108.9 630.6 108.4 630.8 107.9 631.0 107.2 631.2 106.9 631.4 106.6 631.5 106.6 631.7 106.5 631.9 106.6 632.1 106.7 632.3 106.6 632.4 106.3 632.6 106.2 632.8 105.9 633.0 105.8 633.2 105.7 633.3 106.1 633.5 105.7 633.7 105.6 633.9 105.1 634.1 105.4 634.2 105.5 634.4 105.7" fill="none" stroke="#333" stroke-width="1.3" stroke-linejoin="round"/>
<path d="M636.9 110.7 637.9 125.3 639.1 165.4 640.3 207.9 641.0 230.7 641.3 232.2" fill="none" stroke="#a8a8a8" stroke-width="1" stroke-linejoin="round"/>
<path d="M634.4 104.4 635.2 102.9 635.8 106.4 636.4 107.6 636.9 110.7" fill="none" stroke="#3a3a3a" stroke-width="1.2" stroke-linejoin="round"/>
<path d="M641.3 232.2 641.4 221.3 641.6 211.5 641.8 202.5 642.0 194.4 642.2 187.0 642.3 180.3 642.5 174.1" fill="none" stroke="#a0a0a0" stroke-width="1" stroke-linejoin="round"/>
<path d="M642.5 174.1 642.7 168.5 642.9 163.5 643.1 158.8 643.2 154.6 643.4 150.8 643.6 147.2 643.8 144.0 644.0 141.1 644.1 138.4 644.3 135.9 644.5 133.7 644.7 131.6 644.9 129.7" fill="none" stroke="#6a6a6a" stroke-width="1.1" stroke-linejoin="round"/>
<path d="M644.9 129.7 645.0 127.9 645.2 126.3 645.4 124.8 645.6 123.4 645.8 122.2 645.9 121.0 646.1 119.9 646.3 118.9 646.5 117.9 646.7 117.1 646.8 116.2 647.0 115.5 647.2 114.7 647.4 113.7 647.5 113.0 647.7 112.6 647.9 112.2 648.1 111.9 648.3 111.2 648.4 110.5 648.6 109.8 648.8 109.7 649.0 109.4 649.2 109.3 649.3 109.0 649.5 108.5 649.7 108.1 649.9 107.5 650.1 107.1 650.2 107.0 650.4 107.2 650.6 106.9 650.8 106.2 651.0 105.6 651.1 105.9 651.3 106.1 651.5 106.2 651.7 106.0 651.9 105.7 652.0 105.8 652.2 105.4 652.4 105.2 652.6 105.1 652.8 104.9 652.9 105.0 653.1 104.7 653.3 104.9 653.5 105.1 653.7 105.5" fill="none" stroke="#333" stroke-width="1.3" stroke-linejoin="round"/>
<path d="M656.2 110.7 657.2 124.3 658.4 161.6 659.6 201.2 660.2 222.3 660.5 223.8" fill="none" stroke="#a8a8a8" stroke-width="1" stroke-linejoin="round"/>
<path d="M653.7 104.4 654.5 102.9 655.1 106.4 655.7 107.6 656.2 110.7" fill="none" stroke="#3a3a3a" stroke-width="1.2" stroke-linejoin="round"/>
<path d="M660.5 223.8 660.7 213.7 660.9 204.5 661.0 196.1 661.2 188.5 661.4 181.6 661.6 175.3 661.8 169.6" fill="none" stroke="#a0a0a0" stroke-width="1" stroke-linejoin="round"/>
<path d="M661.8 169.6 661.9 164.4 662.1 159.6 662.3 155.3 662.5 151.4 662.7 147.8 662.8 144.5 663.0 141.5 663.2 138.7 663.4 136.2 663.6 133.9 663.7 131.8 663.9 129.9 664.1 128.1" fill="none" stroke="#6a6a6a" stroke-width="1.1" stroke-linejoin="round"/>
<path d="M664.1 128.1 664.3 126.4 664.5 124.9 664.6 123.5 664.8 122.2 665.0 121.1 665.2 120.0 665.4 118.9 665.5 118.0 665.7 117.1 665.9 116.3 666.1 115.5 666.3 114.8 666.4 114.1 666.6 113.6 666.8 112.9 667.0 111.9 667.1 111.6 667.3 111.0 667.5 110.7 667.7 109.8 667.9 109.4 668.0 109.5 668.2 109.6 668.4 109.2 668.6 108.1 668.8 107.2 668.9 107.1 669.1 107.1 669.3 107.1 669.5 106.6 669.7 106.9 669.8 106.6 670.0 106.3 670.2 106.0 670.4 106.0 670.6 105.9 670.7 105.7 670.9 105.9 671.1 105.6 671.3 105.8 671.5 105.3 671.6 105.5 671.8 105.0 672.0 105.1 672.2 105.3 672.4 105.6 672.5 105.5 672.7 105.5 672.9 104.9" fill="none" stroke="#333" stroke-width="1.3" stroke-linejoin="round"/>
<path d="M675.4 110.7 676.4 123.7 677.6 159.3 678.8 197.1 679.4 217.2 679.7 218.7" fill="none" stroke="#a8a8a8" stroke-width="1" stroke-linejoin="round"/>
<path d="M672.9 104.4 673.7 102.9 674.3 106.4 674.9 107.6 675.4 110.7" fill="none" stroke="#3a3a3a" stroke-width="1.2" stroke-linejoin="round"/>
<path d="M679.7 218.7 679.9 209.0 680.1 200.2 680.3 192.2 680.5 184.9 680.6 178.3 680.8 172.3 681.0 166.8" fill="none" stroke="#a0a0a0" stroke-width="1" stroke-linejoin="round"/>
<path d="M681.0 166.8 681.2 161.8 681.4 157.3 681.5 153.2 681.7 149.4 681.9 145.9 682.1 142.8 682.3 139.9 682.4 137.3 682.6 134.9 682.8 132.7 683.0 130.7 683.2 128.8 683.3 127.1 683.5 125.5" fill="none" stroke="#6a6a6a" stroke-width="1.1" stroke-linejoin="round"/>
<path d="M683.5 125.5 683.7 124.1 683.9 122.8 684.1 121.5 684.2 120.4 684.4 119.3 684.6 118.4 684.8 117.4 685.0 116.6 685.1 115.8 685.3 115.1 685.5 114.4 685.7 113.7 685.9 113.0 686.0 112.8 686.2 112.3 686.4 112.0 686.6 111.6 686.7 111.0 686.9 110.3 687.1 109.5 687.3 109.0 687.5 108.8 687.6 108.2 687.8 108.0 688.0 107.4 688.2 107.3 688.4 106.6 688.5 106.3 688.7 106.3 688.9 106.6 689.1 106.4 689.3 105.8 689.4 105.4 689.6 105.6 689.8 105.6 690.0 105.7 690.2 105.3 690.3 105.6 690.5 105.3 690.7 105.2 690.9 105.0 691.1 105.0 691.2 104.8 691.4 105.1 691.6 105.1 691.8 105.5 692.0 105.4 692.1 105.4" fill="none" stroke="#333" stroke-width="1.3" stroke-linejoin="round"/>
<path d="M694.6 110.7 695.6 122.7 696.8 155.8 698.0 190.9 698.7 209.5 699.0 211.0" fill="none" stroke="#a8a8a8" stroke-width="1" stroke-linejoin="round"/>
<path d="M692.1 104.4 692.9 102.9 693.5 106.4 694.1 107.6 694.6 110.7" fill="none" stroke="#3a3a3a" stroke-width="1.2" stroke-linejoin="round"/>
<path d="M699.0 211.0 699.2 202.0 699.3 193.7 699.5 186.3 699.7 179.5 699.9 173.4 700.1 167.8 700.2 162.7" fill="none" stroke="#a0a0a0" stroke-width="1" stroke-linejoin="round"/>
<path d="M700.2 162.7 700.4 158.0 700.6 153.8 700.8 149.9 701.0 146.4 701.1 143.2 701.3 140.3 701.5 137.6 701.7 135.1 701.9 132.9 702.0 130.8 702.2 129.0 702.4 127.2 702.6 125.6 702.8 124.2" fill="none" stroke="#6a6a6a" stroke-width="1.1" stroke-linejoin="round"/>
<path d="M702.8 124.2 702.9 122.8 703.1 121.6 703.3 120.4 703.5 119.4 703.7 118.4 703.8 117.5 704.0 116.6 704.2 115.8 704.4 115.1 704.6 114.4 704.7 113.7 704.9 113.1 705.1 112.4 705.3 111.8 705.4 111.4 705.6 110.8 705.8 110.5 706.0 110.4 706.2 110.2 706.3 109.6 706.5 109.1 706.7 108.4 706.9 107.9 707.1 107.3 707.2 107.1 707.4 106.8 707.6 106.8 707.8 107.0 708.0 107.1 708.1 106.9 708.3 106.2 708.5 105.8 708.7 105.5 708.9 105.9 709.0 105.9 709.2 105.8 709.4 105.4 709.6 105.2 709.8 105.2 709.9 105.1 710.1 105.1 710.3 105.1 710.5 105.5 710.7 105.5 710.8 105.7 711.0 105.3 711.2 105.9 711.4 105.8" fill="none" stroke="#333" stroke-width="1.3" stroke-linejoin="round"/>
<path d="M713.9 110.7 714.9 122.1 716.1 153.5 717.3 186.9 717.9 204.4 718.2 205.9" fill="none" stroke="#a8a8a8" stroke-width="1" stroke-linejoin="round"/>
<path d="M711.4 104.4 712.2 102.9 712.8 106.4 713.4 107.6 713.9 110.7" fill="none" stroke="#3a3a3a" stroke-width="1.2" stroke-linejoin="round"/>
<path d="M718.2 205.9 718.4 197.3 718.6 189.5 718.8 182.4 718.9 175.9 719.1 170.1 719.3 164.8 719.5 159.9" fill="none" stroke="#a0a0a0" stroke-width="1" stroke-linejoin="round"/>
<path d="M719.5 159.9 719.7 155.5 719.8 151.5 720.0 147.8 720.2 144.4 720.4 141.4 720.6 138.6 720.7 136.0 720.9 133.7 721.1 131.6 721.3 129.6 721.5 127.8 721.6 126.2 721.8 124.7 722.0 123.3" fill="none" stroke="#6a6a6a" stroke-width="1.1" stroke-linejoin="round"/>
<path d="M722.0 123.3 722.2 122.0 722.4 120.8 722.5 119.7 722.7 118.7 722.9 117.8 723.1 116.9 723.3 116.1 723.4 115.3 723.6 114.6 723.8 113.9 724.0 113.3 724.2 112.7 724.3 112.2 724.5 111.2 724.7 110.7 724.9 110.3 725.0 110.2 725.2 110.0 725.4 109.9 725.6 109.4 725.8 108.6 725.9 108.2 726.1 107.6 726.3 107.5 726.5 107.2 726.7 107.4 726.8 107.6 727.0 107.3 727.2 107.3 727.4 106.8 727.6 106.5 727.7 105.9 727.9 105.7 728.1 105.4 728.3 105.3 728.5 105.1 728.6 105.5 728.8 105.3 729.0 105.3 729.2 104.8 729.4 104.9 729.5 105.1 729.7 105.3 729.9 105.4 730.1 105.2 730.3 105.1 730.4 105.2 730.6 105.3" fill="none" stroke="#333" stroke-width="1.3" stroke-linejoin="round"/>
<path d="M733.1 110.7 734.1 121.3 735.3 150.4 736.5 181.3 737.2 197.5 737.5 199.0" fill="none" stroke="#a8a8a8" stroke-width="1" stroke-linejoin="round"/>
<path d="M730.6 104.4 731.4 102.9 732.0 106.4 732.6 107.6 733.1 110.7" fill="none" stroke="#3a3a3a" stroke-width="1.2" stroke-linejoin="round"/>
<path d="M737.5 199.0 737.6 191.0 737.8 183.7 738.0 177.1 738.2 171.1 738.4 165.6 738.5 160.7 738.7 156.2" fill="none" stroke="#a0a0a0" stroke-width="1" stroke-linejoin="round"/>
<path d="M738.7 156.2 738.9 152.1 739.1 148.3 739.3 144.9 739.4 141.8 739.6 138.9 739.8 136.3 740.0 134.0 740.2 131.8 740.3 129.8 740.5 128.0 740.7 126.3 740.9 124.8 741.1 123.4 741.2 122.1" fill="none" stroke="#6a6a6a" stroke-width="1.1" stroke-linejoin="round"/>
<path d="M741.2 122.1 741.4 120.9 741.6 119.8 741.8 118.7 742.0 117.8 742.1 116.9 742.3 116.1 742.5 115.3 742.7 114.6 742.9 114.0 743.0 113.4 743.2 112.8 743.4 112.2 743.6 111.3 743.7 110.9 743.9 110.6 744.1 110.4 744.3 110.0 744.5 109.4 744.6 108.9 744.8 108.4 745.0 108.3 745.2 108.0 745.4 107.8 745.5 107.3 745.7 107.1 745.9 106.3 746.1 106.0 746.3 106.2 746.4 106.4 746.6 106.5 746.8 106.1 747.0 105.7 747.2 105.4 747.3 105.2 747.5 105.1 747.7 105.1 747.9 104.5 748.1 104.7 748.2 104.9 748.4 105.4 748.6 105.3 748.8 104.9 749.0 105.0 749.1 104.6 749.3 104.7 749.5 104.4 749.7 105.0 749.9 105.0" fill="none" stroke="#333" stroke-width="1.3" stroke-linejoin="round"/>
<path d="M752.4 110.7 753.4 120.3 754.6 146.7 755.8 174.6 756.4 189.1 756.7 190.6" fill="none" stroke="#a8a8a8" stroke-width="1" stroke-linejoin="round"/>
<path d="M749.9 104.4 750.7 102.9 751.3 106.4 751.9 107.6 752.4 110.7" fill="none" stroke="#3a3a3a" stroke-width="1.2" stroke-linejoin="round"/>
<path d="M756.7 190.6 756.9 183.3 757.1 176.7 757.2 170.7 757.4 165.2 757.6 160.3 757.8 155.7 758.0 151.6" fill="none" stroke="#a0a0a0" stroke-width="1" stroke-linejoin="round"/>
<path d="M758.0 151.6 758.1 147.9 758.3 144.5 758.5 141.4 758.7 138.5 758.9 135.9 759.0 133.6 759.2 131.4 759.4 129.4 759.6 127.6 759.8 126.0 759.9 124.4 760.1 123.0 760.3 121.8 760.5 120.6" fill="none" stroke="#6a6a6a" stroke-width="1.1" stroke-linejoin="round"/>
<path d="M760.5 120.6 760.7 119.5 760.8 118.5 761.0 117.6 761.2 116.7 761.4 115.9 761.6 115.1 761.7 114.4 761.9 113.8 762.1 113.2 762.3 112.6 762.5 112.1 762.6 111.6 762.8 111.5 763.0 111.3 763.2 110.8 763.3 110.1 763.5 109.7 763.7 109.2 763.9 109.2 764.1 108.7 764.2 108.5 764.4 107.8 764.6 107.4 764.8 106.7 765.0 106.7 765.1 106.4 765.3 106.3 765.5 105.9 765.7 105.9 765.9 105.8 766.0 105.7 766.2 105.7 766.4 105.3 766.6 105.1 766.8 104.7 766.9 104.8 767.1 104.4 767.3 104.2 767.5 104.1 767.7 104.5 767.8 104.6 768.0 104.7 768.2 104.8 768.4 105.2 768.6 105.4 768.7 105.2 768.9 105.2 769.1 105.0" fill="none" stroke="#333" stroke-width="1.3" stroke-linejoin="round"/>
<path d="M771.6 110.7 772.6 118.9 773.8 141.5 775.0 165.5 775.6 177.7 775.9 179.2" fill="none" stroke="#a8a8a8" stroke-width="1" stroke-linejoin="round"/>
<path d="M769.1 104.4 769.9 102.9 770.5 106.4 771.1 107.6 771.6 110.7" fill="none" stroke="#3a3a3a" stroke-width="1.2" stroke-linejoin="round"/>
<path d="M775.9 179.2 776.1 172.9 776.3 167.2 776.5 162.0 776.7 157.2 776.8 152.9 777.0 149.0 777.2 145.5 777.4 142.2" fill="none" stroke="#a0a0a0" stroke-width="1" stroke-linejoin="round"/>
<path d="M777.4 142.2 777.6 139.3 777.7 136.6 777.9 134.1 778.1 131.9 778.3 129.8 778.5 128.0 778.6 126.2 778.8 124.7 779.0 123.2 779.2 121.9 779.4 120.7 779.5 119.6 779.7 118.6" fill="none" stroke="#6a6a6a" stroke-width="1.1" stroke-linejoin="round"/>
<path d="M779.7 118.6 779.9 117.6 780.1 116.7 780.3 115.9 780.4 115.2 780.6 114.5 780.8 113.8 781.0 113.2 781.2 112.7 781.3 112.1 781.5 111.6 781.7 111.2 781.9 110.7 782.1 110.3 782.2 109.7 782.4 109.5 782.6 109.4 782.8 109.3 782.9 108.6 783.1 107.9 783.3 107.7 783.5 107.7 783.7 107.4 783.8 106.9 784.0 106.8 784.2 106.8 784.4 106.4 784.6 105.9 784.7 105.7 784.9 105.2 785.1 105.2 785.3 105.0 785.5 105.6 785.6 105.1 785.8 105.0 786.0 104.8 786.2 104.9 786.4 104.8 786.5 104.4 786.7 104.2 786.9 104.2 787.1 104.3 787.3 104.7 787.4 105.1 787.6 105.1 787.8 105.0 788.0 104.6 788.2 105.2 788.3 105.3" fill="none" stroke="#333" stroke-width="1.3" stroke-linejoin="round"/>
<path d="M790.8 110.7 791.8 117.9 793.0 137.5 794.2 158.4 794.9 168.8 795.2 170.3" fill="none" stroke="#a8a8a8" stroke-width="1" stroke-linejoin="round"/>
<path d="M788.3 104.4 789.1 102.9 789.7 106.4 790.3 107.6 790.8 110.7" fill="none" stroke="#3a3a3a" stroke-width="1.2" stroke-linejoin="round"/>
<path d="M795.2 170.3 795.4 164.8 795.5 159.7 795.7 155.1 795.9 151.0 796.1 147.2 796.3 143.8 796.4 140.6 796.6 137.8" fill="none" stroke="#a0a0a0" stroke-width="1" stroke-linejoin="round"/>
<path d="M796.6 137.8 796.8 135.2 797.0 132.8 797.2 130.7 797.3 128.7 797.5 126.9 797.7 125.3 797.9 123.8 798.1 122.4 798.2 121.1 798.4 119.9 798.6 118.9 798.8 117.9 799.0 117.0" fill="none" stroke="#6a6a6a" stroke-width="1.1" stroke-linejoin="round"/>
<path d="M799.0 117.0 799.1 116.2 799.3 115.4 799.5 114.7 799.7 114.0 799.9 113.4 800.0 112.8 800.2 112.3 800.4 111.8 800.6 111.3 800.8 110.9 800.9 110.4 801.1 110.0 801.3 109.4 801.5 109.1 801.6 108.4 801.8 108.4 802.0 108.3 802.2 108.1 802.4 107.8 802.5 107.5 802.7 107.5 802.9 107.0 803.1 106.7 803.3 106.4 803.4 106.2 803.6 105.8 803.8 105.5 804.0 105.3 804.2 105.3 804.3 105.1 804.5 105.3 804.7 105.1 804.9 105.1 805.1 104.7 805.2 104.7 805.4 104.2 805.6 104.3 805.8 104.4 806.0 105.2 806.1 105.7 806.3 105.6 806.5 105.2 806.7 104.9 806.9 105.0 807.0 104.6 807.2 104.6 807.4 104.4 807.6 104.9" fill="none" stroke="#333" stroke-width="1.3" stroke-linejoin="round"/>
<path d="M810.1 110.7 811.1 118.4 812.3 139.5 813.5 161.8 814.1 173.1 814.4 174.6" fill="none" stroke="#a8a8a8" stroke-width="1" stroke-linejoin="round"/>
<path d="M807.6 104.4 808.4 102.9 809.0 106.4 809.6 107.6 810.1 110.7" fill="none" stroke="#3a3a3a" stroke-width="1.2" stroke-linejoin="round"/>
<path d="M814.4 174.6 814.6 168.7 814.8 163.3 815.0 158.4 815.1 154.0 815.3 150.0 815.5 146.3 815.7 143.0 815.9 139.9" fill="none" stroke="#a0a0a0" stroke-width="1" stroke-linejoin="round"/>
<path d="M815.9 139.9 816.0 137.2 816.2 134.6 816.4 132.3 816.6 130.2 816.8 128.3 816.9 126.6 817.1 125.0 817.3 123.5 817.5 122.1 817.7 120.9 817.8 119.8 818.0 118.7 818.2 117.8" fill="none" stroke="#6a6a6a" stroke-width="1.1" stroke-linejoin="round"/>
<path d="M818.2 117.8 818.4 116.9 818.6 116.0 818.7 115.3 818.9 114.6 819.1 113.9 819.3 113.3 819.5 112.7 819.6 112.2 819.8 111.7 820.0 111.2 820.2 110.8 820.4 110.4 820.5 110.2 820.7 110.0 820.9 109.5 821.1 109.1 821.2 108.3 821.4 108.4 821.6 107.6 821.8 107.9 822.0 107.6 822.1 107.3 822.3 106.8 822.5 106.4 822.7 106.3 822.9 106.1 823.0 105.5 823.2 105.3 823.4 105.0 823.6 105.1 823.8 105.1 823.9 105.4 824.1 105.4 824.3 105.5 824.5 105.0 824.7 104.7 824.8 104.5 825.0 104.4 825.2 104.2 825.4 104.5 825.6 104.9 825.7 105.1 825.9 105.1 826.1 105.2 826.3 105.2 826.5 105.2 826.6 104.6 826.8 104.4" fill="none" stroke="#333" stroke-width="1.3" stroke-linejoin="round"/>
<path d="M829.3 110.7 830.3 117.9 831.5 137.5 832.7 158.4 833.4 168.8 833.7 170.3" fill="none" stroke="#a8a8a8" stroke-width="1" stroke-linejoin="round"/>
<path d="M826.8 104.4 827.6 102.9 828.2 106.4 828.8 107.6 829.3 110.7" fill="none" stroke="#3a3a3a" stroke-width="1.2" stroke-linejoin="round"/>
<path d="M833.7 170.3 833.8 164.8 834.0 159.7 834.2 155.1 834.4 151.0 834.6 147.2 834.7 143.8 834.9 140.6 835.1 137.8" fill="none" stroke="#a0a0a0" stroke-width="1" stroke-linejoin="round"/>
<path d="M835.1 137.8 835.3 135.2 835.5 132.8 835.6 130.7 835.8 128.7 836.0 126.9 836.2 125.3 836.4 123.8 836.5 122.4 836.7 121.1 836.9 119.9 837.1 118.9 837.3 117.9 837.4 117.0" fill="none" stroke="#6a6a6a" stroke-width="1.1" stroke-linejoin="round"/>
<path d="M837.4 117.0 837.6 116.2 837.8 115.4 838.0 114.7 838.2 114.0 838.3 113.4 838.5 112.8 838.7 112.3 838.9 111.8 839.1 111.3 839.2 110.9 839.4 110.4 839.6 110.0 839.8 109.6 839.9 109.4 840.1 109.0 840.3 108.7 840.5 107.9 840.7 107.3 840.8 107.0 841.0 107.3 841.2 107.5 841.4 107.3 841.6 106.3 841.7 106.2 841.9 106.0 842.1 106.6 842.3 106.1 842.5 106.0 842.6 105.0 842.8 105.1 843.0 104.8 843.2 104.9 843.4 104.8 843.5 104.7 843.7 104.7 843.9 104.7 844.1 105.1 844.3 104.7 844.4 104.4 844.6 103.8 844.8 104.2 845.0 104.3 845.2 104.1 845.3 104.5 845.5 104.4 845.7 105.2 845.9 105.3 846.1 105.9" fill="none" stroke="#333" stroke-width="1.3" stroke-linejoin="round"/>
<path d="M848.6 110.7 849.6 117.9 850.8 137.5 852.0 158.4 852.6 168.8 852.9 170.3" fill="none" stroke="#a8a8a8" stroke-width="1" stroke-linejoin="round"/>
<path d="M846.1 104.4 846.9 102.9 847.5 106.4 848.1 107.6 848.6 110.7" fill="none" stroke="#3a3a3a" stroke-width="1.2" stroke-linejoin="round"/>
<path d="M852.9 170.3 853.1 164.8 853.3 159.7 853.4 155.1 853.6 151.0 853.8 147.2 854.0 143.8 854.2 140.6 854.3 137.8" fill="none" stroke="#a0a0a0" stroke-width="1" stroke-linejoin="round"/>
<path d="M854.3 137.8 854.5 135.2 854.7 132.8 854.9 130.7 855.1 128.7 855.2 126.9 855.4 125.3 855.6 123.8 855.8 122.4 856.0 121.1 856.1 119.9 856.3 118.9 856.5 117.9 856.7 117.0" fill="none" stroke="#6a6a6a" stroke-width="1.1" stroke-linejoin="round"/>
<path d="M856.7 117.0 856.9 116.2 857.0 115.4 857.2 114.7 857.4 114.0 857.6 113.4 857.8 112.8 857.9 112.3 858.1 111.8 858.3 111.3 858.5 110.9 858.7 110.4 858.8 110.0 859.0 109.7 859.2 109.4 859.4 109.1 859.5 108.7 859.7 108.3 859.9 107.9 860.1 107.3 860.3 107.2 860.4 107.2 860.6 107.0 860.8 106.2 861.0 105.9 861.2 105.7 861.3 105.9 861.5 105.9 861.7 105.6 861.9 105.6 862.1 105.1 862.2 105.1 862.4 105.1 862.6 104.9 862.8 104.7 863.0 104.6 863.1 104.6 863.3 104.6 863.5 104.5 863.7 104.4 863.9 104.6 864.0 104.7 864.2 104.7 864.4 104.4 864.6 104.4 864.8 105.1 864.9 105.5 865.1 105.1 865.3 104.7" fill="none" stroke="#333" stroke-width="1.3" stroke-linejoin="round"/>
<path d="M867.8 110.7 868.8 118.2 870.0 139.0 871.2 161.0 871.8 172.1 872.1 173.6" fill="none" stroke="#a8a8a8" stroke-width="1" stroke-linejoin="round"/>
<path d="M865.3 104.4 866.1 102.9 866.7 106.4 867.3 107.6 867.8 110.7" fill="none" stroke="#3a3a3a" stroke-width="1.2" stroke-linejoin="round"/>
<path d="M872.1 173.6 872.3 167.8 872.5 162.5 872.7 157.7 872.9 153.3 873.0 149.3 873.2 145.7 873.4 142.4 873.6 139.4" fill="none" stroke="#a0a0a0" stroke-width="1" stroke-linejoin="round"/>
<path d="M873.6 139.4 873.8 136.7 873.9 134.2 874.1 131.9 874.3 129.9 874.5 128.0 874.7 126.3 874.8 124.7 875.0 123.2 875.2 121.9 875.4 120.7 875.6 119.6 875.7 118.5 875.9 117.6" fill="none" stroke="#6a6a6a" stroke-width="1.1" stroke-linejoin="round"/>
<path d="M875.9 117.6 876.1 116.7 876.3 115.9 876.5 115.1 876.6 114.5 876.8 113.8 877.0 113.2 877.2 112.6 877.4 112.1 877.5 111.6 877.7 111.1 877.9 110.7 878.1 110.3 878.3 109.8 878.4 109.3 878.6 108.8 878.8 108.9 879.0 108.6 879.1 108.4 879.3 107.6 879.5 107.4 879.7 107.2 879.9 106.7 880.0 106.2 880.2 105.6 880.4 105.8 880.6 105.8 880.8 105.8 880.9 105.4 881.1 105.5 881.3 105.5 881.5 105.2 881.7 104.8 881.8 105.1 882.0 105.3 882.2 105.7 882.4 105.2 882.6 104.8 882.7 104.3 882.9 104.1 883.1 104.5 883.3 104.5 883.5 104.7 883.6 104.5 883.8 104.8 884.0 104.7 884.2 105.2 884.4 105.2 884.5 105.6" fill="none" stroke="#333" stroke-width="1.3" stroke-linejoin="round"/>
<path d="M887.0 110.7 888.0 118.5 889.2 139.8 890.4 162.5 891.1 173.9 891.4 175.4" fill="none" stroke="#a8a8a8" stroke-width="1" stroke-linejoin="round"/>
<path d="M884.5 104.4 885.3 102.9 885.9 106.4 886.5 107.6 887.0 110.7" fill="none" stroke="#3a3a3a" stroke-width="1.2" stroke-linejoin="round"/>
<path d="M891.4 175.4 891.6 169.4 891.7 164.0 891.9 159.0 892.1 154.6 892.3 150.5 892.5 146.8 892.6 143.4 892.8 140.3" fill="none" stroke="#a0a0a0" stroke-width="1" stroke-linejoin="round"/>
<path d="M892.8 140.3 893.0 137.5 893.2 135.0 893.4 132.6 893.5 130.5 893.7 128.6 893.9 126.8 894.1 125.2 894.3 123.7 894.4 122.3 894.6 121.1 894.8 119.9 895.0 118.9 895.2 117.9" fill="none" stroke="#6a6a6a" stroke-width="1.1" stroke-linejoin="round"/>
<path d="M895.2 117.9 895.3 117.0 895.5 116.2 895.7 115.4 895.9 114.7 896.1 114.0 896.2 113.4 896.4 112.8 896.6 112.3 896.8 111.8 897.0 111.3 897.1 110.9 897.3 110.4 897.5 110.5 897.7 109.9 897.8 109.4 898.0 108.5 898.2 108.6 898.4 108.0 898.6 107.9 898.7 107.7 898.9 107.4 899.1 107.5 899.3 106.8 899.5 106.6 899.6 105.9 899.8 106.0 900.0 105.7 900.2 105.7 900.4 105.5 900.5 105.5 900.7 105.1 900.9 104.9 901.1 104.9 901.3 105.0 901.4 105.2 901.6 105.0 901.8 105.0 902.0 104.8 902.2 105.0 902.3 105.3 902.5 105.2 902.7 105.3 902.9 105.0 903.1 104.9 903.2 104.7 903.4 105.0 903.6 105.0 903.8 104.8" fill="none" stroke="#333" stroke-width="1.3" stroke-linejoin="round"/>
<path d="M906.3 110.7 907.3 118.8 908.5 141.2 909.7 164.9 910.3 176.9 910.6 178.4" fill="none" stroke="#a8a8a8" stroke-width="1" stroke-linejoin="round"/>
<path d="M903.8 104.4 904.6 102.9 905.2 106.4 905.8 107.6 906.3 110.7" fill="none" stroke="#3a3a3a" stroke-width="1.2" stroke-linejoin="round"/>
<path d="M910.6 178.4 910.8 172.2 911.0 166.5 911.2 161.3 911.3 156.7 911.5 152.4 911.7 148.5 911.9 145.0 912.1 141.8" fill="none" stroke="#a0a0a0" stroke-width="1" stroke-linejoin="round"/>
<path d="M912.1 141.8 912.2 138.9 912.4 136.2 912.6 133.8 912.8 131.6 913.0 129.6 913.1 127.7 913.3 126.0 913.5 124.5 913.7 123.0 913.9 121.7 914.0 120.5 914.2 119.4 914.4 118.4" fill="none" stroke="#6a6a6a" stroke-width="1.1" stroke-linejoin="round"/>
<path d="M914.4 118.4 914.6 117.5 914.8 116.6 914.9 115.8 915.1 115.1 915.3 114.4 915.5 113.8 915.7 113.2 915.8 112.6 916.0 112.1 916.2 111.6 916.4 111.1 916.6 110.6 916.7 109.8 916.9 109.5 917.1 109.2 917.3 109.2 917.4 109.0 917.6 108.7 917.8 108.2 918.0 108.0 918.2 107.2 918.3 107.1 918.5 106.5 918.7 106.4 918.9 106.2 919.1 105.7 919.2 105.5 919.4 105.4 919.6 105.2 919.8 105.2 920.0 105.0 920.1 105.2 920.3 105.5 920.5 105.2 920.7 105.1 920.9 104.2 921.0 104.3 921.2 104.0 921.4 104.1 921.6 104.1 921.8 104.5 921.9 104.6 922.1 104.5 922.3 104.7 922.5 104.6 922.7 104.7 922.8 104.8 923.0 105.1" fill="none" stroke="#333" stroke-width="1.3" stroke-linejoin="round"/>
<path d="M925.5 110.7 926.5 119.4 927.7 143.2 928.9 168.5 929.6 181.5 929.9 183.0" fill="none" stroke="#a8a8a8" stroke-width="1" stroke-linejoin="round"/>
<path d="M923.0 104.4 923.8 102.9 924.4 106.4 925.0 107.6 925.5 110.7" fill="none" stroke="#3a3a3a" stroke-width="1.2" stroke-linejoin="round"/>
<path d="M929.9 183.0 930.0 176.4 930.2 170.3 930.4 164.9 930.6 159.9 930.8 155.4 930.9 151.3 931.1 147.5" fill="none" stroke="#a0a0a0" stroke-width="1" stroke-linejoin="round"/>
<path d="M931.1 147.5 931.3 144.1 931.5 141.0 931.7 138.2 931.8 135.6 932.0 133.2 932.2 131.1 932.4 129.1 932.6 127.3 932.7 125.7 932.9 124.1 933.1 122.8 933.3 121.5 933.5 120.3 933.6 119.2" fill="none" stroke="#6a6a6a" stroke-width="1.1" stroke-linejoin="round"/>
<path d="M933.6 119.2 933.8 118.2 934.0 117.3 934.2 116.5 934.4 115.7 934.5 115.0 934.7 114.3 934.9 113.6 935.1 113.0 935.3 112.5 935.4 112.0 935.6 111.5 935.8 111.0 936.0 110.2 936.1 110.0 936.3 109.7 936.5 109.5 936.7 108.8 936.9 108.5 937.0 107.9 937.2 107.8 937.4 107.2 937.6 107.6 937.8 107.3 937.9 107.1 938.1 106.3 938.3 105.8 938.5 105.6 938.7 105.6 938.8 105.7 939.0 105.7 939.2 105.2 939.4 105.2 939.6 105.2 939.7 105.2 939.9 104.9 940.1 104.8 940.3 105.0 940.5 105.3 940.6 105.1 940.8 105.2 941.0 105.1 941.2 105.3 941.4 105.1 941.5 105.1 941.7 105.3 941.9 105.2 942.1 105.0 942.3 104.5" fill="none" stroke="#333" stroke-width="1.3" stroke-linejoin="round"/>
<path d="M944.8 110.7 945.8 119.1 947.0 142.1 948.2 166.5 948.8 178.9 949.1 180.4" fill="none" stroke="#a8a8a8" stroke-width="1" stroke-linejoin="round"/>
<path d="M942.3 104.4 943.1 102.9 943.7 106.4 944.3 107.6 944.8 110.7" fill="none" stroke="#3a3a3a" stroke-width="1.2" stroke-linejoin="round"/>
<path d="M949.1 180.4 949.3 174.0 949.5 168.2 949.6 162.9 949.8 158.1 950.0 153.7 950.2 149.7 950.4 146.1" fill="none" stroke="#a0a0a0" stroke-width="1" stroke-linejoin="round"/>
<path d="M950.4 146.1 950.5 142.8 950.7 139.8 950.9 137.1 951.1 134.6 951.3 132.3 951.4 130.2 951.6 128.3 951.8 126.6 952.0 125.0 952.2 123.5 952.3 122.2 952.5 121.0 952.7 119.8 952.9 118.8" fill="none" stroke="#6a6a6a" stroke-width="1.1" stroke-linejoin="round"/>
<path d="M952.9 118.8 953.1 117.8 953.2 116.9 953.4 116.1 953.6 115.3 953.8 114.6 954.0 114.0 954.1 113.4 954.3 112.8 954.5 112.2 954.7 111.7 954.9 111.3 955.0 110.8 955.2 110.4 955.4 110.5 955.6 109.8 955.7 108.9 955.9 108.5 956.1 108.5 956.3 108.6 956.5 108.1 956.6 107.6 956.8 107.2 957.0 106.7 957.2 106.3 957.4 106.1 957.5 106.2 957.7 106.3 957.9 105.7 958.1 105.6 958.3 105.5 958.4 105.9 958.6 105.5 958.8 105.1 959.0 104.6 959.2 104.6 959.3 104.6 959.5 104.3 959.7 104.2 959.9 104.5 960.1 104.8 960.2 105.2 960.4 105.2 960.6 105.3 960.8 105.2 961.0 104.9 961.1 105.0 961.3 105.3 961.5 105.6" fill="none" stroke="#333" stroke-width="1.3" stroke-linejoin="round"/>
<path d="M964.0 110.7 965.0 120.1 966.2 146.1 967.4 173.7 968.0 187.9 968.3 189.4" fill="none" stroke="#a8a8a8" stroke-width="1" stroke-linejoin="round"/>
<path d="M961.5 104.4 962.3 102.9 962.9 106.4 963.5 107.6 964.0 110.7" fill="none" stroke="#3a3a3a" stroke-width="1.2" stroke-linejoin="round"/>
<path d="M968.3 189.4 968.5 182.2 968.7 175.7 968.9 169.8 969.1 164.4 969.2 159.5 969.4 155.0 969.6 151.0" fill="none" stroke="#a0a0a0" stroke-width="1" stroke-linejoin="round"/>
<path d="M969.6 151.0 969.8 147.3 970.0 143.9 970.1 140.9 970.3 138.1 970.5 135.5 970.7 133.2 970.9 131.0 971.0 129.1 971.2 127.3 971.4 125.7 971.6 124.2 971.8 122.8 971.9 121.5 972.1 120.4" fill="none" stroke="#6a6a6a" stroke-width="1.1" stroke-linejoin="round"/>
<path d="M972.1 120.4 972.3 119.3 972.5 118.3 972.7 117.4 972.8 116.5 973.0 115.7 973.2 115.0 973.4 114.3 973.6 113.7 973.7 113.1 973.9 112.5 974.1 112.0 974.3 111.5 974.5 110.7 974.6 110.3 974.8 110.0 975.0 109.6 975.2 109.6 975.3 109.1 975.5 108.9 975.7 108.3 975.9 108.0 976.1 107.5 976.2 107.1 976.4 106.6 976.6 106.4 976.8 106.1 977.0 106.8 977.1 106.7 977.3 106.2 977.5 105.4 977.7 105.1 977.9 105.8 978.0 105.7 978.2 105.8 978.4 105.1 978.6 105.0 978.8 104.4 978.9 104.3 979.1 104.6 979.3 105.1 979.5 105.2 979.7 104.8 979.8 104.8 980.0 105.1 980.2 104.9 980.4 104.7 980.6 104.6 980.7 105.0" fill="none" stroke="#333" stroke-width="1.3" stroke-linejoin="round"/>
<path d="M983.2 110.7 984.2 120.8 985.4 148.4 986.6 177.7 987.3 193.0 987.6 194.5" fill="none" stroke="#a8a8a8" stroke-width="1" stroke-linejoin="round"/>
<path d="M980.7 104.4 981.5 102.9 982.1 106.4 982.7 107.6 983.2 110.7" fill="none" stroke="#3a3a3a" stroke-width="1.2" stroke-linejoin="round"/>
<path d="M987.6 194.5 987.8 186.9 987.9 180.0 988.1 173.7 988.3 168.0 988.5 162.8 988.7 158.0 988.8 153.7" fill="none" stroke="#a0a0a0" stroke-width="1" stroke-linejoin="round"/>
<path d="M988.8 153.7 989.0 149.8 989.2 146.3 989.4 143.0 989.6 140.0 989.7 137.3 989.9 134.9 990.1 132.6 990.3 130.5 990.5 128.6 990.6 126.9 990.8 125.3 991.0 123.8 991.2 122.5 991.4 121.3" fill="none" stroke="#6a6a6a" stroke-width="1.1" stroke-linejoin="round"/>
<path d="M991.4 121.3 991.5 120.1 991.7 119.1 991.9 118.1 992.1 117.2 992.3 116.4 992.4 115.6 992.6 114.9 992.8 114.2 993.0 113.6 993.2 113.0 993.3 112.4 993.5 111.9 993.7 111.0 993.9 110.8 994.0 110.6 994.2 110.6 994.4 110.1 994.6 109.9 994.8 109.1 994.9 109.0 995.1 108.7 995.3 108.3 995.5 107.8 995.7 107.2 995.8 107.2 996.0 106.8 996.2 106.4 996.4 106.2 996.6 106.1 996.7 106.1 996.9 105.8 997.1 105.5 997.3 105.4 997.5 105.3 997.6 105.3 997.8 104.9 998.0 105.1 998.2 105.1 998.4 105.2 998.5 104.9 998.7 104.9 998.9 105.3 999.1 105.4 999.3 105.4 999.4 105.4 999.6 105.3 999.8 105.6 1000.0 105.5" fill="none" stroke="#333" stroke-width="1.3" stroke-linejoin="round"/>
<path d="M1002.5 110.7 1003.5 120.8 1004.7 148.4 1005.9 177.7 1006.5 193.0 1006.8 194.5" fill="none" stroke="#a8a8a8" stroke-width="1" stroke-linejoin="round"/>
<path d="M1000.0 104.4 1000.8 102.9 1001.4 106.4 1002.0 107.6 1002.5 110.7" fill="none" stroke="#3a3a3a" stroke-width="1.2" stroke-linejoin="round"/>
<path d="M1006.8 194.5 1007.0 186.9 1007.2 180.0 1007.4 173.7 1007.5 168.0 1007.7 162.8 1007.9 158.0 1008.1 153.7" fill="none" stroke="#a0a0a0" stroke-width="1" stroke-linejoin="round"/>
<path d="M1008.1 153.7 1008.3 149.8 1008.4 146.3 1008.6 143.0 1008.8 140.0 1009.0 137.3 1009.2 134.9 1009.3 132.6 1009.5 130.5 1009.7 128.6 1009.9 126.9 1010.1 125.3 1010.2 123.8 1010.4 122.5 1010.6 121.3" fill="none" stroke="#6a6a6a" stroke-width="1.1" stroke-linejoin="round"/>
<path d="M1010.6 121.3 1010.8 120.1 1011.0 119.1 1011.1 118.1 1011.3 117.2 1011.5 116.4 1011.7 115.6 1011.9 114.9 1012.0 114.2 1012.2 113.6 1012.4 113.0 1012.6 112.4 1012.8 111.9 1012.9 111.4 1013.1 110.9 1013.3 110.5 1013.5 110.4 1013.6 110.0 1013.8 109.5 1014.0 108.8 1014.2 108.5 1014.4 108.3 1014.5 107.8 1014.7 107.5 1014.9 107.2 1015.1 107.3 1015.3 107.0 1015.4 106.6 1015.6 106.4 1015.8 105.9 1016.0 105.8 1016.2 105.5 1016.3 105.4 1016.5 105.2 1016.7 105.0 1016.9 105.2 1017.1 104.8 1017.2 104.7 1017.4 104.5 1017.6 104.6 1017.8 104.6 1018.0 104.3 1018.1 104.4 1018.3 104.5 1018.5 104.8 1018.7 104.7 1018.9 104.9 1019.0 104.9 1019.2 105.1" fill="none" stroke="#333" stroke-width="1.3" stroke-linejoin="round"/>
<path d="M1021.7 110.7 1022.7 121.0 1023.9 149.3 1025.1 179.3 1025.8 195.0 1026.1 196.5" fill="none" stroke="#a8a8a8" stroke-width="1" stroke-linejoin="round"/>
<path d="M1019.2 104.4 1020.0 102.9 1020.6 106.4 1021.2 107.6 1021.7 110.7" fill="none" stroke="#3a3a3a" stroke-width="1.2" stroke-linejoin="round"/>
<path d="M1026.1 196.5 1026.2 188.7 1026.4 181.6 1026.6 175.2 1026.8 169.4 1027.0 164.0 1027.1 159.2 1027.3 154.8" fill="none" stroke="#a0a0a0" stroke-width="1" stroke-linejoin="round"/>
<path d="M1027.3 154.8 1027.5 150.8 1027.7 147.2 1027.9 143.8 1028.0 140.8 1028.2 138.0 1028.4 135.5 1028.6 133.2 1028.8 131.1 1028.9 129.1 1029.1 127.4 1029.3 125.7 1029.5 124.3 1029.7 122.9 1029.8 121.6" fill="none" stroke="#6a6a6a" stroke-width="1.1" stroke-linejoin="round"/>
<path d="M1029.8 121.6 1030.0 120.5 1030.2 119.4 1030.4 118.4 1030.6 117.5 1030.7 116.6 1030.9 115.8 1031.1 115.1 1031.3 114.4 1031.5 113.7 1031.6 113.1 1031.8 112.6 1032.0 112.0 1032.2 111.6 1032.3 111.0 1032.5 110.8 1032.7 110.1 1032.9 109.7 1033.1 109.4 1033.2 109.3 1033.4 109.5 1033.6 108.9 1033.8 108.1 1034.0 107.7 1034.1 107.0 1034.3 107.1 1034.5 107.0 1034.7 107.2 1034.9 106.9 1035.0 106.4 1035.2 105.8 1035.4 105.6 1035.6 105.3 1035.8 105.2 1035.9 105.1 1036.1 104.8 1036.3 104.7 1036.5 104.5 1036.7 104.8 1036.8 105.1 1037.0 105.4 1037.2 105.4 1037.4 105.1 1037.6 104.8 1037.7 104.6 1037.9 105.0 1038.1 105.1 1038.3 105.5 1038.5 105.5" fill="none" stroke="#333" stroke-width="1.3" stroke-linejoin="round"/>
<path d="M1041.0 110.7 1042.0 121.5 1043.2 151.3 1044.4 182.9 1045.0 199.4 1045.3 200.9" fill="none" stroke="#a8a8a8" stroke-width="1" stroke-linejoin="round"/>
<path d="M1038.5 104.4 1039.3 102.9 1039.9 106.4 1040.5 107.6 1041.0 110.7" fill="none" stroke="#3a3a3a" stroke-width="1.2" stroke-linejoin="round"/>
<path d="M1045.3 200.9 1045.5 192.7 1045.7 185.3 1045.8 178.6 1046.0 172.4 1046.2 166.9 1046.4 161.8 1046.6 157.2" fill="none" stroke="#a0a0a0" stroke-width="1" stroke-linejoin="round"/>
<path d="M1046.6 157.2 1046.7 153.0 1046.9 149.2 1047.1 145.7 1047.3 142.5 1047.5 139.6 1047.6 137.0 1047.8 134.5 1048.0 132.3 1048.2 130.3 1048.4 128.4 1048.5 126.7 1048.7 125.2 1048.9 123.7 1049.1 122.4" fill="none" stroke="#6a6a6a" stroke-width="1.1" stroke-linejoin="round"/>
<path d="M1049.1 122.4 1049.3 121.2 1049.4 120.0 1049.6 119.0 1049.8 118.0 1050.0 117.2 1050.2 116.3 1050.3 115.5 1050.5 114.8 1050.7 114.1 1050.9 113.5 1051.1 112.9 1051.2 112.4 1051.4 111.7 1051.6 111.3 1051.8 110.6 1051.9 110.3 1052.1 110.3 1052.3 109.8 1052.5 109.7 1052.7 108.7 1052.8 108.9 1053.0 108.2 1053.2 108.1 1053.4 107.6 1053.6 107.7 1053.7 107.1 1053.9 106.8 1054.1 106.2 1054.3 105.9 1054.5 105.5 1054.6 105.3 1054.8 105.5 1055.0 105.3 1055.2 105.3 1055.4 105.2 1055.5 105.6 1055.7 105.6 1055.9 105.3 1056.1 105.1 1056.3 105.1 1056.4 105.2 1056.6 105.3 1056.8 105.3 1057.0 105.3 1057.2 105.4 1057.3 105.6 1057.5 105.3 1057.7 105.2" fill="none" stroke="#333" stroke-width="1.3" stroke-linejoin="round"/>
<path d="M1060.2 110.7 1061.2 122.4 1062.4 154.8 1063.6 189.0 1064.2 207.1 1064.5 208.6" fill="none" stroke="#a8a8a8" stroke-width="1" stroke-linejoin="round"/>
<path d="M1057.7 104.4 1058.5 102.9 1059.1 106.4 1059.7 107.6 1060.2 110.7" fill="none" stroke="#3a3a3a" stroke-width="1.2" stroke-linejoin="round"/>
<path d="M1064.5 208.6 1064.7 199.8 1064.9 191.7 1065.1 184.5 1065.3 177.8 1065.4 171.8 1065.6 166.3 1065.8 161.4" fill="none" stroke="#a0a0a0" stroke-width="1" stroke-linejoin="round"/>
<path d="M1065.8 161.4 1066.0 156.8 1066.2 152.7 1066.3 148.9 1066.5 145.5 1066.7 142.3 1066.9 139.5 1067.1 136.9 1067.2 134.5 1067.4 132.3 1067.6 130.3 1067.8 128.4 1068.0 126.7 1068.1 125.2 1068.3 123.8" fill="none" stroke="#6a6a6a" stroke-width="1.1" stroke-linejoin="round"/>
<path d="M1068.3 123.8 1068.5 122.4 1068.7 121.2 1068.9 120.1 1069.0 119.1 1069.2 118.1 1069.4 117.2 1069.6 116.4 1069.8 115.6 1069.9 114.9 1070.1 114.2 1070.3 113.5 1070.5 112.9 1070.7 111.9 1070.8 111.6 1071.0 111.2 1071.2 111.4 1071.4 110.9 1071.5 110.0 1071.7 109.3 1071.9 108.7 1072.1 108.8 1072.3 108.7 1072.4 108.6 1072.6 108.1 1072.8 107.3 1073.0 106.8 1073.2 106.9 1073.3 106.8 1073.5 106.6 1073.7 106.0 1073.9 106.2 1074.1 105.8 1074.2 105.7 1074.4 105.7 1074.6 105.6 1074.8 105.7 1075.0 105.0 1075.1 105.3 1075.3 105.0 1075.5 105.2 1075.7 105.0 1075.9 105.4 1076.0 105.3 1076.2 105.3 1076.4 105.1 1076.6 105.5 1076.8 105.6 1076.9 105.1" fill="none" stroke="#333" stroke-width="1.3" stroke-linejoin="round"/>
<path d="M1079.4 110.7 1080.4 122.3 1081.6 154.2 1082.8 188.0 1083.5 205.8 1083.8 207.3" fill="none" stroke="#a8a8a8" stroke-width="1" stroke-linejoin="round"/>
<path d="M1076.9 104.4 1077.7 102.9 1078.3 106.4 1078.9 107.6 1079.4 110.7" fill="none" stroke="#3a3a3a" stroke-width="1.2" stroke-linejoin="round"/>
<path d="M1083.8 207.3 1084.0 198.6 1084.1 190.7 1084.3 183.5 1084.5 176.9 1084.7 171.0 1084.9 165.6 1085.0 160.7" fill="none" stroke="#a0a0a0" stroke-width="1" stroke-linejoin="round"/>
<path d="M1085.0 160.7 1085.2 156.2 1085.4 152.1 1085.6 148.4 1085.8 145.0 1085.9 141.9 1086.1 139.1 1086.3 136.5 1086.5 134.1 1086.7 131.9 1086.8 130.0 1087.0 128.1 1087.2 126.5 1087.4 124.9 1087.6 123.5" fill="none" stroke="#6a6a6a" stroke-width="1.1" stroke-linejoin="round"/>
<path d="M1087.6 123.5 1087.7 122.2 1087.9 121.0 1088.1 119.9 1088.3 118.9 1088.5 117.9 1088.6 117.1 1088.8 116.2 1089.0 115.5 1089.2 114.7 1089.4 114.1 1089.5 113.4 1089.7 112.8 1089.9 112.3 1090.1 111.4 1090.2 110.8 1090.4 110.5 1090.6 110.4 1090.8 110.2 1091.0 109.8 1091.1 109.2 1091.3 108.5 1091.5 108.1 1091.7 107.6 1091.9 107.5 1092.0 107.2 1092.2 107.0 1092.4 106.6 1092.6 106.5 1092.8 107.0 1092.9 106.7 1093.1 106.4 1093.3 105.5 1093.5 105.3 1093.7 105.4 1093.8 105.4 1094.0 105.6 1094.2 105.5 1094.4 105.7 1094.6 105.2 1094.7 104.9 1094.9 104.9 1095.1 105.0 1095.3 105.2 1095.5 105.0 1095.6 105.3 1095.8 105.1 1096.0 105.5 1096.2 105.2" fill="none" stroke="#333" stroke-width="1.3" stroke-linejoin="round"/>
<path d="M1098.7 110.7 1099.7 122.6 1100.9 155.3 1102.1 190.0 1102.7 208.3 1103.0 209.8" fill="none" stroke="#a8a8a8" stroke-width="1" stroke-linejoin="round"/>
<path d="M1096.2 104.4 1097.0 102.9 1097.6 106.4 1098.2 107.6 1098.7 110.7" fill="none" stroke="#3a3a3a" stroke-width="1.2" stroke-linejoin="round"/>
<path d="M1103.0 209.8 1103.2 200.9 1103.4 192.7 1103.6 185.4 1103.7 178.7 1103.9 172.6 1104.1 167.0 1104.3 162.0" fill="none" stroke="#a0a0a0" stroke-width="1" stroke-linejoin="round"/>
<path d="M1104.3 162.0 1104.5 157.4 1104.6 153.2 1104.8 149.4 1105.0 146.0 1105.2 142.8 1105.4 139.9 1105.5 137.2 1105.7 134.8 1105.9 132.6 1106.1 130.6 1106.3 128.7 1106.4 127.0 1106.6 125.4 1106.8 124.0" fill="none" stroke="#6a6a6a" stroke-width="1.1" stroke-linejoin="round"/>
<path d="M1106.8 124.0 1107.0 122.6 1107.2 121.4 1107.3 120.3 1107.5 119.2 1107.7 118.2 1107.9 117.3 1108.1 116.5 1108.2 115.7 1108.4 115.0 1108.6 114.3 1108.8 113.6 1109.0 113.0 1109.1 112.7 1109.3 112.1 1109.5 111.5 1109.7 111.1 1109.8 110.7 1110.0 110.2 1110.2 109.6 1110.4 109.0 1110.6 108.4 1110.7 108.2 1110.9 107.6 1111.1 107.7 1111.3 107.7 1111.5 107.5 1111.6 106.9 1111.8 106.3 1112.0 106.0 1112.2 106.0 1112.4 105.9 1112.5 105.9 1112.7 105.9 1112.9 105.9 1113.1 105.7 1113.3 105.2 1113.4 105.3 1113.6 105.1 1113.8 105.1 1114.0 104.7 1114.2 104.5 1114.3 104.8 1114.5 104.9 1114.7 105.4 1114.9 105.5 1115.1 105.9 1115.2 105.5 1115.4 105.4" fill="none" stroke="#333" stroke-width="1.3" stroke-linejoin="round"/>
<path d="M1117.9 110.7 1118.9 122.7 1120.1 155.5 1121.3 190.4 1122.0 208.8 1122.3 210.3" fill="none" stroke="#a8a8a8" stroke-width="1" stroke-linejoin="round"/>
<path d="M1115.4 104.4 1116.2 102.9 1116.8 106.4 1117.4 107.6 1117.9 110.7" fill="none" stroke="#3a3a3a" stroke-width="1.2" stroke-linejoin="round"/>
<path d="M1122.3 210.3 1122.4 201.3 1122.6 193.2 1122.8 185.8 1123.0 179.0 1123.2 172.9 1123.3 167.3 1123.5 162.3" fill="none" stroke="#a0a0a0" stroke-width="1" stroke-linejoin="round"/>
<path d="M1123.5 162.3 1123.7 157.7 1123.9 153.5 1124.1 149.6 1124.2 146.1 1124.4 143.0 1124.6 140.0 1124.8 137.4 1125.0 134.9 1125.1 132.7 1125.3 130.7 1125.5 128.8 1125.7 127.1 1125.9 125.5 1126.0 124.1" fill="none" stroke="#6a6a6a" stroke-width="1.1" stroke-linejoin="round"/>
<path d="M1126.0 124.1 1126.2 122.7 1126.4 121.5 1126.6 120.3 1126.8 119.3 1126.9 118.3 1127.1 117.4 1127.3 116.5 1127.5 115.8 1127.7 115.0 1127.8 114.3 1128.0 113.7 1128.2 113.1 1128.4 112.4 1128.5 111.8 1128.7 111.4 1128.9 111.2 1129.1 110.6 1129.3 110.0 1129.4 109.8 1129.6 109.2 1129.8 109.2 1130.0 108.3 1130.2 108.3 1130.3 107.5 1130.5 107.3 1130.7 106.8 1130.9 106.6 1131.1 106.8 1131.2 106.5 1131.4 106.4 1131.6 106.0 1131.8 106.1 1132.0 105.6 1132.1 105.1 1132.3 105.3 1132.5 105.1 1132.7 105.0 1132.9 104.5 1133.0 105.1 1133.2 105.4 1133.4 105.6 1133.6 105.3 1133.8 105.0 1133.9 105.1 1134.1 105.1 1134.3 105.3 1134.5 105.3 1134.7 105.2" fill="none" stroke="#333" stroke-width="1.3" stroke-linejoin="round"/>
<path d="M1137.2 110.7 1138.2 122.7 1139.4 155.5 1140.6 190.4 1141.2 208.8 1141.5 210.3" fill="none" stroke="#a8a8a8" stroke-width="1" stroke-linejoin="round"/>
<path d="M1134.7 104.4 1135.5 102.9 1136.1 106.4 1136.7 107.6 1137.2 110.7" fill="none" stroke="#3a3a3a" stroke-width="1.2" stroke-linejoin="round"/>
<path d="M1141.5 210.3 1141.7 201.3 1141.9 193.2 1142.0 185.8 1142.2 179.0 1142.4 172.9 1142.6 167.3 1142.8 162.3" fill="none" stroke="#a0a0a0" stroke-width="1" stroke-linejoin="round"/>
<path d="M1142.8 162.3 1142.9 157.7 1143.1 153.5 1143.3 149.6 1143.5 146.1 1143.7 143.0 1143.8 140.0 1144.0 137.4 1144.2 134.9 1144.4 132.7 1144.6 130.7 1144.7 128.8 1144.9 127.1 1145.1 125.5 1145.3 124.1" fill="none" stroke="#6a6a6a" stroke-width="1.1" stroke-linejoin="round"/>
<path d="M1145.3 124.1 1145.5 122.7 1145.6 121.5 1145.8 120.3 1146.0 119.3 1146.2 118.3 1146.4 117.4 1146.5 116.5 1146.7 115.8 1146.9 115.0 1147.1 114.3 1147.3 113.7 1147.4 113.1 1147.6 112.5 1147.8 112.2 1148.0 112.0 1148.1 111.8 1148.3 111.2 1148.5 110.5 1148.7 109.9 1148.9 109.5 1149.0 109.0 1149.2 108.3 1149.4 108.1 1149.6 108.0 1149.8 108.0 1149.9 107.5 1150.1 107.1 1150.3 106.5 1150.5 106.3 1150.7 105.9 1150.8 106.0 1151.0 105.6 1151.2 105.8 1151.4 105.3 1151.6 105.4 1151.7 105.2 1151.9 105.5 1152.1 105.6 1152.3 105.5 1152.5 105.7 1152.6 105.5 1152.8 105.4 1153.0 105.0 1153.2 104.9 1153.4 105.1 1153.5 105.4 1153.7 105.8 1153.9 105.4" fill="none" stroke="#333" stroke-width="1.3" stroke-linejoin="round"/>
<path d="M1156.4 110.7 1157.4 123.2 1158.6 157.6 1159.8 194.1 1160.4 213.4 1160.7 214.9" fill="none" stroke="#a8a8a8" stroke-width="1" stroke-linejoin="round"/>
<path d="M1153.9 104.4 1154.7 102.9 1155.3 106.4 1155.9 107.6 1156.4 110.7" fill="none" stroke="#3a3a3a" stroke-width="1.2" stroke-linejoin="round"/>
<path d="M1160.7 214.9 1160.9 205.5 1161.1 197.0 1161.3 189.3 1161.5 182.3 1161.6 175.9 1161.8 170.1 1162.0 164.8" fill="none" stroke="#a0a0a0" stroke-width="1" stroke-linejoin="round"/>
<path d="M1162.0 164.8 1162.2 160.0 1162.4 155.6 1162.5 151.6 1162.7 147.9 1162.9 144.6 1163.1 141.6 1163.3 138.8 1163.4 136.2 1163.6 133.9 1163.8 131.8 1164.0 129.8 1164.2 128.0 1164.3 126.4 1164.5 124.9" fill="none" stroke="#6a6a6a" stroke-width="1.1" stroke-linejoin="round"/>
<path d="M1164.5 124.9 1164.7 123.5 1164.9 122.2 1165.1 121.0 1165.2 119.9 1165.4 118.9 1165.6 117.9 1165.8 117.0 1166.0 116.2 1166.1 115.4 1166.3 114.7 1166.5 114.1 1166.7 113.4 1166.9 112.5 1167.0 112.6 1167.2 112.1 1167.4 111.7 1167.6 110.6 1167.7 110.1 1167.9 109.7 1168.1 109.2 1168.3 108.8 1168.5 108.1 1168.6 107.6 1168.8 107.5 1169.0 107.6 1169.2 107.7 1169.4 107.0 1169.5 106.8 1169.7 106.7 1169.9 106.9 1170.1 106.9 1170.3 106.5 1170.4 106.3 1170.6 105.9 1170.8 105.6 1171.0 105.4 1171.2 105.5 1171.3 105.4 1171.5 105.2 1171.7 105.2 1171.9 105.3 1172.1 105.5 1172.2 105.2 1172.4 105.2 1172.6 105.0 1172.8 105.2 1173.0 105.1 1173.1 105.5" fill="none" stroke="#333" stroke-width="1.3" stroke-linejoin="round"/>
<path d="M1175.6 110.7 1176.6 124.0 1177.8 160.5 1179.0 199.2 1179.7 219.8 1180.0 221.3" fill="none" stroke="#a8a8a8" stroke-width="1" stroke-linejoin="round"/>
<path d="M1173.1 104.4 1173.9 102.9 1174.5 106.4 1175.1 107.6 1175.6 110.7" fill="none" stroke="#3a3a3a" stroke-width="1.2" stroke-linejoin="round"/>
<path d="M1180.0 221.3 1180.2 211.4 1180.3 202.4 1180.5 194.2 1180.7 186.7 1180.9 180.0 1181.1 173.8 1181.2 168.2" fill="none" stroke="#a0a0a0" stroke-width="1" stroke-linejoin="round"/>
<path d="M1181.2 168.2 1181.4 163.1 1181.6 158.5 1181.8 154.3 1182.0 150.4 1182.1 146.9 1182.3 143.7 1182.5 140.7 1182.7 138.0 1182.9 135.6 1183.0 133.3 1183.2 131.2 1183.4 129.3 1183.6 127.6" fill="none" stroke="#6a6a6a" stroke-width="1.1" stroke-linejoin="round"/>
<path d="M1183.6 127.6 1183.8 126.0 1183.9 124.5 1184.1 123.2 1184.3 121.9 1184.5 120.7 1184.7 119.7 1184.8 118.7 1185.0 117.7 1185.2 116.9 1185.4 116.0 1185.6 115.3 1185.7 114.6 1185.9 113.9 1186.1 113.2 1186.3 112.7 1186.4 111.6 1186.6 111.3 1186.8 110.5 1187.0 110.2 1187.2 110.0 1187.3 109.7 1187.5 109.5 1187.7 108.8 1187.9 108.7 1188.1 108.0 1188.2 107.9 1188.4 107.5 1188.6 107.3 1188.8 107.0 1189.0 106.4 1189.1 106.1 1189.3 105.9 1189.5 105.6 1189.7 105.6 1189.9 105.7 1190.0 105.7 1190.2 105.8 1190.4 105.3 1190.6 105.5 1190.8 105.1 1190.9 104.9 1191.1 104.5 1191.3 104.9 1191.5 105.1 1191.7 105.8 1191.8 105.4 1192.0 105.5 1192.2 105.3 1192.4 105.3" fill="none" stroke="#333" stroke-width="1.3" stroke-linejoin="round"/>
<path d="M1194.9 110.7 1195.9 123.7 1197.1 159.3 1198.3 197.2 1198.9 217.3 1199.2 218.8" fill="none" stroke="#a8a8a8" stroke-width="1" stroke-linejoin="round"/>
<path d="M1192.4 104.4 1193.2 102.9 1193.8 106.4 1194.4 107.6 1194.9 110.7" fill="none" stroke="#3a3a3a" stroke-width="1.2" stroke-linejoin="round"/>
<path d="M1199.2 218.8 1199.4 209.1 1199.6 200.3 1199.8 192.3 1199.9 185.0 1200.1 178.4 1200.3 172.4 1200.5 166.9" fill="none" stroke="#a0a0a0" stroke-width="1" stroke-linejoin="round"/>
<path d="M1200.5 166.9 1200.7 161.9 1200.8 157.3 1201.0 153.2 1201.2 149.4 1201.4 146.0 1201.6 142.8 1201.7 140.0 1201.9 137.3 1202.1 134.9 1202.3 132.7 1202.5 130.7 1202.6 128.8 1202.8 127.1 1203.0 125.6" fill="none" stroke="#6a6a6a" stroke-width="1.1" stroke-linejoin="round"/>
<path d="M1203.0 125.6 1203.2 124.1 1203.4 122.8 1203.5 121.5 1203.7 120.4 1203.9 119.3 1204.1 118.4 1204.3 117.5 1204.4 116.6 1204.6 115.8 1204.8 115.1 1205.0 114.4 1205.2 113.7 1205.3 112.9 1205.5 112.4 1205.7 111.8 1205.9 111.2 1206.0 111.0 1206.2 110.5 1206.4 110.2 1206.6 109.4 1206.8 109.0 1206.9 108.3 1207.1 108.1 1207.3 107.9 1207.5 107.8 1207.7 107.3 1207.8 106.8 1208.0 107.1 1208.2 107.0 1208.4 106.7 1208.6 106.0 1208.7 105.8 1208.9 105.6 1209.1 105.4 1209.3 105.2 1209.5 105.1 1209.6 105.0 1209.8 105.2 1210.0 105.4 1210.2 105.4 1210.4 105.2 1210.5 105.5 1210.7 105.3 1210.9 105.1 1211.1 104.7 1211.3 104.7 1211.4 105.1 1211.6 105.5" fill="none" stroke="#333" stroke-width="1.3" stroke-linejoin="round"/>
<path d="M1214.1 110.7 1215.1 123.7 1216.3 159.3 1217.5 197.2 1218.2 217.3 1218.5 218.8" fill="none" stroke="#a8a8a8" stroke-width="1" stroke-linejoin="round"/>
<path d="M1211.6 104.4 1212.4 102.9 1213.0 106.4 1213.6 107.6 1214.1 110.7" fill="none" stroke="#3a3a3a" stroke-width="1.2" stroke-linejoin="round"/>
<path d="M1218.5 218.8 1218.6 209.1 1218.8 200.3 1219.0 192.3 1219.2 185.0 1219.4 178.4 1219.5 172.4 1219.7 166.9" fill="none" stroke="#a0a0a0" stroke-width="1" stroke-linejoin="round"/>
<path d="M1219.7 166.9 1219.9 161.9 1220.1 157.3 1220.3 153.2 1220.4 149.4 1220.6 146.0 1220.8 142.8 1221.0 140.0 1221.2 137.3 1221.3 134.9 1221.5 132.7 1221.7 130.7 1221.9 128.8 1222.1 127.1 1222.2 125.6" fill="none" stroke="#6a6a6a" stroke-width="1.1" stroke-linejoin="round"/>
<path d="M1222.2 125.6 1222.4 124.1 1222.6 122.8 1222.8 121.5 1223.0 120.4 1223.1 119.3 1223.3 118.4 1223.5 117.5 1223.7 116.6 1223.9 115.8 1224.0 115.1 1224.2 114.4 1224.4 113.7 1224.6 113.1 1224.7 112.7 1224.9 112.4 1225.1 111.7 1225.3 111.3 1225.5 110.9 1225.6 110.7 1225.8 110.0 1226.0 109.5 1226.2 108.7 1226.4 108.1 1226.5 107.8 1226.7 107.6 1226.9 107.4 1227.1 107.3 1227.3 107.1 1227.4 106.7 1227.6 106.2 1227.8 106.0 1228.0 105.8 1228.2 105.4 1228.3 105.1 1228.5 105.1 1228.7 105.6 1228.9 105.5 1229.1 105.6 1229.2 105.1 1229.4 105.4 1229.6 105.5 1229.8 105.5 1230.0 105.4 1230.1 105.4 1230.3 105.2 1230.5 105.6 1230.7 105.7 1230.9 105.7" fill="none" stroke="#333" stroke-width="1.3" stroke-linejoin="round"/>
<path d="M1233.4 110.7 1234.4 123.2 1235.6 157.6 1236.8 194.1 1237.4 213.4 1237.7 214.9" fill="none" stroke="#a8a8a8" stroke-width="1" stroke-linejoin="round"/>
<path d="M1230.9 104.4 1231.7 102.9 1232.3 106.4 1232.9 107.6 1233.4 110.7" fill="none" stroke="#3a3a3a" stroke-width="1.2" stroke-linejoin="round"/>
<path d="M1237.7 214.9 1237.9 205.5 1238.1 197.0 1238.2 189.3 1238.4 182.3 1238.6 175.9 1238.8 170.1 1239.0 164.8" fill="none" stroke="#a0a0a0" stroke-width="1" stroke-linejoin="round"/>
<path d="M1239.0 164.8 1239.1 160.0 1239.3 155.6 1239.5 151.6 1239.7 147.9 1239.9 144.6 1240.0 141.6 1240.2 138.8 1240.4 136.2 1240.6 133.9 1240.8 131.8 1240.9 129.8 1241.1 128.0 1241.3 126.4 1241.5 124.9" fill="none" stroke="#6a6a6a" stroke-width="1.1" stroke-linejoin="round"/>
<path d="M1241.5 124.9 1241.7 123.5 1241.8 122.2 1242.0 121.0 1242.2 119.9 1242.4 118.9 1242.6 117.9 1242.7 117.0 1242.9 116.2 1243.1 115.4 1243.3 114.7 1243.5 114.1 1243.6 113.4 1243.8 113.0 1244.0 112.5 1244.2 111.8 1244.3 111.3 1244.5 110.6 1244.7 110.4 1244.9 109.8 1245.1 109.7 1245.2 109.1 1245.4 108.6 1245.6 107.9 1245.8 107.7 1246.0 107.6 1246.1 107.1 1246.3 106.8 1246.5 106.3 1246.7 106.4 1246.9 106.0 1247.0 106.0 1247.2 105.9 1247.4 106.0 1247.6 106.0 1247.8 106.3 1247.9 106.2 1248.1 105.7 1248.3 105.0 1248.5 104.6 1248.7 104.7 1248.8 105.0 1249.0 105.2 1249.2 105.2 1249.4 105.2 1249.6 105.2 1249.7 105.1 1249.9 105.0 1250.1 105.2" fill="none" stroke="#333" stroke-width="1.3" stroke-linejoin="round"/>
<text x="478.2" y="299" font-size="18.5" stroke="#000" stroke-width="0.35" text-anchor="start" fill="#000">1</text>
<text x="807" y="198.3" font-size="18.5" stroke="#000" stroke-width="0.35" text-anchor="start" fill="#000">2</text>
<path d="M1259.3 101.6 1259.7 101.6 1260.1 101.6 1260.5 101.6 1260.9 101.6 1261.3 101.6 1261.7 101.6 1262.1 101.6 1262.5 101.6 1262.9 101.6 1263.3 101.6 1263.7 101.6 1264.1 101.6 1264.5 101.6 1264.9 101.6 1265.3 101.6 1265.7 101.6 1266.1 101.6 1266.5 101.6 1266.9 101.6 1267.3 101.6 1267.7 101.6 1268.1 101.6 1268.5 101.6 1268.9 101.6 1269.3 101.6 1269.7 101.6 1270.1 101.6 1270.5 101.6 1270.9 101.6 1271.3 101.6 1271.7 101.6 1272.1 101.6 1272.5 101.6 1272.9 101.6 1273.3 101.6 1273.7 101.6 1274.1 101.6 1274.5 101.6 1274.9 101.6 1275.3 101.6 1275.7 101.6 1276.1 101.6 1276.5 101.6 1276.9 101.6 1277.3 101.6 1277.7 101.6 1278.1 101.6 1278.5 101.6 1278.9 101.6 1279.3 101.6 1279.7 101.6 1280.1 101.6 1280.5 101.6 1280.9 101.6 1281.3 101.6 1281.7 101.6 1282.1 101.6 1282.5 101.6 1282.9 101.6 1283.3 101.6 1283.7 101.6 1284.1 101.6 1284.5 101.6 1284.9 101.6 1285.3 101.6 1285.7 101.6 1286.1 101.6 1286.5 101.6 1286.9 101.6 1287.3 101.6 1287.7 101.6 1288.1 101.6 1288.5 101.6 1288.9 101.6 1289.3 101.6 1289.7 101.6 1290.1 101.6 1290.5 101.6 1290.9 101.7 1291.3 102.2 1291.7 103.4 1292.1 105.6 1292.5 109.0 1292.9 113.2 1293.3 118.2 1293.7 123.9 1294.1 130.3 1294.5 137.3 1294.9 144.8 1295.3 152.9 1295.7 161.4 1296.1 170.5 1296.5 180.1 1296.9 190.1 1297.3 200.6 1297.7 211.5 1298.1 222.9 1298.5 234.6 1298.9 246.8 1299.3 259.3 1299.7 272.0 1300.1 283.6 1300.5 291.2 1300.9 292.4 1301.3 288.2 1301.7 281.8 1302.1 274.9 1302.5 268.3 1302.9 262.0 1303.3 256.0 1303.7 250.2 1304.1 244.7 1304.5 239.5 1304.9 234.5 1305.3 229.7 1305.7 225.2 1306.1 220.9 1306.5 216.5 1306.9 212.5 1307.3 208.6 1307.7 204.9 1308.1 201.4 1308.5 198.0 1308.9 194.8 1309.3 191.8 1309.7 189.0 1310.1 186.3 1310.5 183.7 1310.9 181.3 1311.3 179.0 1311.7 176.8 1312.1 174.7 1312.5 172.7 1312.9 170.8 1313.3 169.0 1313.7 167.3 1314.1 165.6 1314.5 164.0 1314.9 162.4 1315.3 160.9 1315.7 159.4 1316.1 157.9 1316.5 156.5 1316.9 155.1 1317.3 153.7 1317.7 152.5 1318.1 151.2 1318.5 150.1 1318.9 149.0 1319.3 147.9 1319.7 146.9 1320.1 146.0 1320.5 145.1 1320.9 144.2 1321.3 143.3 1321.7 142.5 1322.1 141.7 1322.5 140.8 1322.9 140.0 1323.3 139.2 1323.7 138.4 1324.1 137.7 1324.5 137.0 1324.9 136.3 1325.3 135.7 1325.7 135.1 1326.1 134.6 1326.5 134.1 1326.9 133.7 1327.3 133.3 1327.7 133.0 1328.1 132.6 1328.5 132.3 1328.9 131.9 1329.3 131.6 1329.7 131.2 1330.1 130.8 1330.5 130.4 1330.9 130.0 1331.3 129.6 1331.7 129.2 1332.1 128.9 1332.5 128.5 1332.9 128.2 1333.3 127.9 1333.7 127.6 1334.1 127.3 1334.5 127.0 1334.9 126.8 1335.3 126.5 1335.7 126.2 1336.1 125.9 1336.5 125.6 1336.9 125.3 1337.3 125.0 1337.7 124.7 1338.1 124.4 1338.5 124.2 1338.9 124.0 1339.3 123.8 1339.7 123.6 1340.1 123.4 1340.5 123.3 1340.9 123.2 1341.3 123.0 1341.7 122.9 1342.1 122.8 1342.5 122.7 1342.9 122.6 1343.3 122.5 1343.7 122.4 1344.1 122.3 1344.5 122.1 1344.9 122.0 1345.3 121.8 1345.7 121.7 1346.1 121.6 1346.5 121.5 1346.9 121.5 1347.3 121.4 1347.7 121.4 1348.1 121.4 1348.5 121.4 1348.9 121.4 1349.3 121.3 1349.7 121.3 1350.1 121.2 1350.5 121.1 1350.9 121.0 1351.3 120.8 1351.7 120.6 1352.1 120.4 1352.5 120.2 1352.9 120.0 1353.3 119.8 1353.7 119.6 1354.1 119.4 1354.5 119.3 1354.9 119.2 1355.3 119.1 1355.7 119.0 1356.1 118.9 1356.5 118.8 1356.9 118.7 1357.3 118.7 1357.7 118.6 1358.1 118.5 1358.5 118.5 1358.9 118.4 1359.3 118.4 1359.7 118.4 1360.1 118.3 1360.5 118.3 1360.9 118.3 1361.3 118.3 1361.7 118.3 1362.1 118.3 1362.5 118.3 1362.9 118.3 1363.3 118.3 1363.7 118.2 1364.1 118.2 1364.5 118.1 1364.9 118.1 1365.3 118.0 1365.7 117.9 1366.1 117.7 1366.5 117.6 1366.9 117.4 1367.3 117.3 1367.7 117.1 1368.1 117.0 1368.5 116.9 1368.9 116.9 1369.3 116.8 1369.7 116.7 1370.1 116.7 1370.5 116.6 1370.9 116.5 1371.3 116.4 1371.7 116.2 1372.1 116.1 1372.5 115.9 1372.9 115.7 1373.3 115.6 1373.7 115.5 1374.1 115.4 1374.5 115.3 1374.9 115.3 1375.3 115.2 1375.7 115.2 1376.1 115.2 1376.5 115.2 1376.9 115.2 1377.3 115.1 1377.7 115.1 1378.1 115.0 1378.5 114.9 1378.9 114.8 1379.3 114.7 1379.7 114.6 1380.1 114.5 1380.5 114.4 1380.9 114.4 1381.3 114.4 1381.7 114.4 1382.1 114.4 1382.5 114.4 1382.9 114.5 1383.3 114.5 1383.7 114.5 1384.1 114.5 1384.5 114.5 1384.9 114.5 1385.3 114.4 1385.7 114.4 1386.1 114.3 1386.5 114.2 1386.9 114.1 1387.3 114.1 1387.7 114.0 1388.1 114.0 1388.5 114.0 1388.9 114.0 1389.3 114.0 1389.7 114.0 1390.1 114.1 1390.5 114.1 1390.9 114.1 1391.3 114.1 1391.7 114.1 1392.1 114.1 1392.5 114.0 1392.9 114.0 1393.3 113.9 1393.7 113.9 1394.1 113.8 1394.5 113.7 1394.9 113.7 1395.3 113.7 1395.7 113.8 1396.1 113.8 1396.5 113.9 1396.9 114.0 1397.3 114.1 1397.7 114.2 1398.1 114.3 1398.5 114.3 1398.9 114.4 1399.3 114.4 1399.7 114.4 1400.1 114.4 1400.5 114.4 1400.9 114.4 1401.3 114.4 1401.7 114.4 1402.1 114.4 1402.5 114.3 1402.9 114.3 1403.3 114.2 1403.7 114.2 1404.1 114.1 1404.5 114.0 1404.9 113.9 1405.3 113.8 1405.7 113.7 1406.1 113.6 1406.5 113.5 1406.9 113.4 1407.3 113.3 1407.7 113.2 1408.1 113.1 1408.5 113.0 1408.9 112.9 1409.3 112.9 1409.7 112.9 1410.1 112.9 1410.5 112.9 1410.9 113.0 1411.3 113.0 1411.7 113.1 1412.1 113.2 1412.5 113.3 1412.9 113.4 1413.3 113.5 1413.7 113.5 1414.1 113.5 1414.5 113.5 1414.9 113.5 1415.3 113.5 1415.7 113.4 1416.1 113.4 1416.5 113.3 1416.9 113.2 1417.3 113.2 1417.7 113.1 1418.1 113.1 1418.5 113.0 1418.9 113.0 1419.3 113.0 1419.7 112.9 1420.1 112.9 1420.5 112.9 1420.9 112.9 1421.3 113.0 1421.7 113.0 1422.1 113.0 1422.5 113.1 1422.9 113.1 1423.3 113.2 1423.7 113.2 1424.1 113.2 1424.5 113.1 1424.9 113.1 1425.3 113.1 1425.7 113.0 1426.1 113.0 1426.5 112.9 1426.9 112.9 1427.3 112.9 1427.7 112.9 1428.1 112.9 1428.5 112.9 1428.9 112.9 1429.3 112.9 1429.7 112.9 1430.1 112.9 1430.5 112.9 1430.9 112.8 1431.3 112.8 1431.7 112.7 1432.1 112.7 1432.5 112.6 1432.9 112.6 1433.3 112.5 1433.7 112.5 1434.1 112.5 1434.5 112.5 1434.9 112.6 1435.3 112.7 1435.7 112.9 1436.1 113.1 1436.5 113.3 1436.9 113.5 1437.3 113.7 1437.7 114.0 1438.1 114.2 1438.5 114.4 1438.9 114.6 1439.3 114.7 1439.7 114.8 1440.1 114.9 1440.5 114.9 1440.9 115.0 1441.3 115.0 1441.7 115.0 1442.1 115.0 1442.5 115.0 1442.9 115.0 1443.3 115.1 1443.7 115.1 1444.1 115.2 1444.5 115.3 1444.9 115.4 1445.3 115.5 1445.7 115.6 1446.1 115.7 1446.5 115.8 1446.9 115.9 1447.3 116.1 1447.7 116.2 1448.1 116.3 1448.5 116.4 1448.9 116.4 1449.3 116.5 1449.7 116.5 1450.1 116.4 1450.5 116.4 1450.9 116.3 1451.3 116.2 1451.7 116.1 1452.1 116.0 1452.5 115.8 1452.9 115.7 1453.3 115.6" fill="none" stroke="#1a1a1a" stroke-width="1.4" stroke-linejoin="round"/>
<path d="M1259.3 101.6 1259.7 101.6 1260.1 101.6 1260.5 101.6 1260.9 101.6 1261.3 101.6 1261.7 101.6 1262.1 101.6 1262.5 101.6 1262.9 101.6 1263.3 101.6 1263.7 101.6 1264.1 101.6 1264.5 101.6 1264.9 101.6 1265.3 101.6 1265.7 101.6 1266.1 101.6 1266.5 101.6 1266.9 101.6 1267.3 101.6 1267.7 101.6 1268.1 101.6 1268.5 101.6 1268.9 101.6 1269.3 101.6 1269.7 101.6 1270.1 101.6 1270.5 101.6 1270.9 101.6 1271.3 101.6 1271.7 101.6 1272.1 101.6 1272.5 101.6 1272.9 101.6 1273.3 101.6 1273.7 101.6 1274.1 101.6 1274.5 101.6 1274.9 101.6 1275.3 101.6 1275.7 101.6 1276.1 101.6 1276.5 101.6 1276.9 101.6 1277.3 101.6 1277.7 101.6 1278.1 101.6 1278.5 101.6 1278.9 101.6 1279.3 101.6 1279.7 101.6 1280.1 101.6 1280.5 101.6 1280.9 101.6 1281.3 101.6 1281.7 101.6 1282.1 101.6 1282.5 101.6 1282.9 101.6 1283.3 101.6 1283.7 101.6 1284.1 101.6 1284.5 101.6 1284.9 101.6 1285.3 101.6 1285.7 101.6 1286.1 101.6 1286.5 101.6 1286.9 101.6 1287.3 101.6 1287.7 101.6 1288.1 101.6 1288.5 101.6 1288.9 101.6 1289.3 101.6 1289.7 101.6 1290.1 101.6 1290.5 101.6 1290.9 101.7 1291.3 101.9 1291.7 102.4 1292.1 103.4 1292.5 104.8 1292.9 106.7 1293.3 108.9 1293.7 111.4 1294.1 114.2 1294.5 117.3 1294.9 120.6 1295.3 124.2 1295.7 128.0 1296.1 132.0 1296.5 136.2 1296.9 140.6 1297.3 145.2 1297.7 150.0 1298.1 155.0 1298.5 160.2 1298.9 165.5 1299.3 170.9 1299.7 175.8 1300.1 178.7 1300.5 178.6 1300.9 175.9 1301.3 172.3 1301.7 168.6 1302.1 165.1 1302.5 161.8 1302.9 158.8 1303.3 156.0 1303.7 153.4 1304.1 151.0 1304.5 148.8 1304.9 146.7 1305.3 144.7 1305.7 142.9 1306.1 141.2 1306.5 140.0 1306.9 138.6 1307.3 137.2 1307.7 135.9 1308.1 134.7 1308.5 133.5 1308.9 132.4 1309.3 131.3 1309.7 130.3 1310.1 129.3 1310.5 128.4 1310.9 127.5 1311.3 126.7 1311.7 126.0 1312.1 125.3 1312.5 124.6 1312.9 124.0 1313.3 123.5 1313.7 123.0 1314.1 122.5 1314.5 122.0 1314.9 121.5 1315.3 121.1 1315.7 120.6 1316.1 120.2 1316.5 119.8 1316.9 119.4 1317.3 119.1 1317.7 118.7 1318.1 118.5 1318.5 118.2 1318.9 118.0 1319.3 117.9 1319.7 117.7 1320.1 117.6 1320.5 117.4 1320.9 117.3 1321.3 117.1 1321.7 117.0 1322.1 116.8 1322.5 116.7 1322.9 116.5 1323.3 116.3 1323.7 116.2 1324.1 116.1 1324.5 115.9 1324.9 115.8 1325.3 115.7 1325.7 115.6 1326.1 115.5 1326.5 115.3 1326.9 115.2 1327.3 115.0 1327.7 114.8 1328.1 114.6 1328.5 114.4 1328.9 114.2 1329.3 114.0 1329.7 113.8 1330.1 113.6 1330.5 113.4 1330.9 113.2 1331.3 113.1 1331.7 113.0 1332.1 112.9 1332.5 112.8 1332.9 112.8 1333.3 112.8 1333.7 112.8 1334.1 112.8 1334.5 112.8 1334.9 112.9 1335.3 112.9 1335.7 112.9 1336.1 112.9 1336.5 112.9 1336.9 112.9 1337.3 112.8 1337.7 112.8 1338.1 112.8 1338.5 112.7 1338.9 112.6 1339.3 112.6 1339.7 112.5 1340.1 112.4 1340.5 112.4 1340.9 112.3 1341.3 112.3 1341.7 112.3 1342.1 112.4 1342.5 112.4 1342.9 112.5 1343.3 112.6 1343.7 112.7 1344.1 112.7 1344.5 112.8 1344.9 112.8 1345.3 112.8 1345.7 112.8 1346.1 112.8 1346.5 112.7 1346.9 112.7 1347.3 112.7 1347.7 112.6 1348.1 112.6 1348.5 112.6 1348.9 112.6 1349.3 112.6 1349.7 112.6 1350.1 112.6 1350.5 112.6 1350.9 112.6 1351.3 112.6 1351.7 112.6 1352.1 112.6 1352.5 112.6 1352.9 112.6 1353.3 112.6 1353.7 112.5 1354.1 112.5 1354.5 112.4 1354.9 112.4 1355.3 112.3 1355.7 112.3 1356.1 112.2 1356.5 112.1 1356.9 112.1 1357.3 112.0 1357.7 111.9 1358.1 111.8 1358.5 111.8 1358.9 111.7 1359.3 111.6 1359.7 111.4 1360.1 111.3 1360.5 111.2 1360.9 111.1 1361.3 111.1 1361.7 111.0 1362.1 111.0 1362.5 111.0 1362.9 111.1 1363.3 111.2 1363.7 111.3 1364.1 111.4 1364.5 111.6 1364.9 111.7 1365.3 111.8 1365.7 111.9 1366.1 112.0 1366.5 112.0 1366.9 112.1 1367.3 112.1 1367.7 112.2 1368.1 112.2 1368.5 112.2 1368.9 112.3 1369.3 112.3 1369.7 112.4 1370.1 112.4 1370.5 112.5 1370.9 112.5 1371.3 112.5 1371.7 112.5 1372.1 112.5 1372.5 112.5 1372.9 112.5 1373.3 112.5 1373.7 112.5 1374.1 112.5 1374.5 112.5 1374.9 112.5 1375.3 112.5 1375.7 112.4 1376.1 112.3 1376.5 112.2 1376.9 112.0 1377.3 111.9 1377.7 111.7 1378.1 111.5 1378.5 111.4 1378.9 111.3 1379.3 111.2 1379.7 111.2 1380.1 111.2 1380.5 111.3 1380.9 111.4 1381.3 111.5 1381.7 111.6 1382.1 111.7 1382.5 111.9 1382.9 112.0 1383.3 112.1 1383.7 112.1 1384.1 112.1 1384.5 112.0 1384.9 111.9 1385.3 111.8 1385.7 111.6 1386.1 111.5 1386.5 111.4 1386.9 111.3 1387.3 111.3 1387.7 111.3 1388.1 111.4 1388.5 111.5 1388.9 111.6 1389.3 111.7 1389.7 111.8 1390.1 111.9 1390.5 111.9 1390.9 111.9 1391.3 111.9 1391.7 111.9 1392.1 111.9 1392.5 112.0 1392.9 112.0 1393.3 112.1 1393.7 112.2 1394.1 112.3 1394.5 112.4 1394.9 112.5 1395.3 112.6 1395.7 112.6 1396.1 112.6 1396.5 112.6 1396.9 112.6 1397.3 112.5 1397.7 112.5 1398.1 112.4 1398.5 112.3 1398.9 112.3 1399.3 112.2 1399.7 112.2 1400.1 112.1 1400.5 112.1 1400.9 112.1 1401.3 112.2 1401.7 112.2 1402.1 112.2 1402.5 112.3 1402.9 112.3 1403.3 112.3 1403.7 112.3 1404.1 112.2 1404.5 112.1 1404.9 112.0 1405.3 111.8 1405.7 111.6 1406.1 111.4 1406.5 111.2 1406.9 111.1 1407.3 111.0 1407.7 110.9 1408.1 110.8 1408.5 110.8 1408.9 110.8 1409.3 110.8 1409.7 110.8 1410.1 110.8 1410.5 110.8 1410.9 110.9 1411.3 110.9 1411.7 111.0 1412.1 111.1 1412.5 111.1 1412.9 111.2 1413.3 111.3 1413.7 111.3 1414.1 111.3 1414.5 111.3 1414.9 111.3 1415.3 111.2 1415.7 111.2 1416.1 111.1 1416.5 111.0 1416.9 111.0 1417.3 111.0 1417.7 111.0 1418.1 111.0 1418.5 111.0 1418.9 111.1 1419.3 111.2 1419.7 111.2 1420.1 111.3 1420.5 111.4 1420.9 111.4 1421.3 111.4 1421.7 111.3 1422.1 111.2 1422.5 111.1 1422.9 110.9 1423.3 110.7 1423.7 110.4 1424.1 110.2 1424.5 110.0 1424.9 109.8 1425.3 109.7 1425.7 109.6 1426.1 109.6 1426.5 109.6 1426.9 109.7 1427.3 109.9 1427.7 110.0 1428.1 110.2 1428.5 110.5 1428.9 110.7 1429.3 110.8 1429.7 111.0 1430.1 111.1 1430.5 111.2 1430.9 111.3 1431.3 111.3 1431.7 111.3 1432.1 111.2 1432.5 111.2 1432.9 111.1 1433.3 111.1 1433.7 111.0 1434.1 110.9 1434.5 110.7 1434.9 110.6 1435.3 110.5 1435.7 110.3 1436.1 110.2 1436.5 110.0 1436.9 109.9 1437.3 109.7 1437.7 109.6 1438.1 109.5 1438.5 109.5 1438.9 109.4 1439.3 109.5 1439.7 109.5 1440.1 109.6 1440.5 109.8 1440.9 109.9 1441.3 110.1 1441.7 110.3 1442.1 110.4 1442.5 110.6 1442.9 110.6 1443.3 110.7 1443.7 110.6 1444.1 110.6 1444.5 110.5 1444.9 110.4 1445.3 110.2 1445.7 110.1 1446.1 110.0 1446.5 109.9 1446.9 109.8 1447.3 109.7 1447.7 109.6 1448.1 109.5 1448.5 109.4 1448.9 109.3 1449.3 109.2 1449.7 109.0 1450.1 109.0 1450.5 108.9 1450.9 108.8 1451.3 108.7 1451.7 108.6 1452.1 108.5 1452.5 108.4 1452.9 108.3 1453.3 108.2" fill="none" stroke="#1a1a1a" stroke-width="1.4" stroke-linejoin="round"/>
<line x1="1291.4" y1="102.4" x2="1449.6" y2="102.4" stroke="#333" stroke-width="1.2" stroke-dasharray="3.4 2.5"/>
<text x="1275.2" y="178.7" font-size="18.5" stroke="#000" stroke-width="0.35" text-anchor="start" fill="#000">2</text>
<text x="1281.5" y="298.5" font-size="18.5" stroke="#000" stroke-width="0.35" text-anchor="start" fill="#000">1</text>
<line x1="1388.8" y1="171" x2="1388.8" y2="219" stroke="#000" stroke-width="2.2"/>
<text x="1400.9" y="199.8" font-size="19.5" stroke="#000" stroke-width="0.35" text-anchor="start" fill="#000" textLength="62.7" lengthAdjust="spacingAndGlyphs">250 pA</text>
<line x1="1365.6" y1="251.4" x2="1440.4" y2="251.4" stroke="#000" stroke-width="2.2"/>
<text x="1384.3" y="276.7" font-size="19.5" stroke="#000" stroke-width="0.35" text-anchor="start" fill="#000" textLength="59.3" lengthAdjust="spacingAndGlyphs">2.5 ms</text>
<line x1="819.7" y1="226.8" x2="819.7" y2="342.6" stroke="#000" stroke-width="2.5"/>
<line x1="818.4" y1="341.4" x2="1071.2" y2="341.4" stroke="#000" stroke-width="2.5"/>
<line x1="819.6" y1="341.4" x2="819.6" y2="350.5" stroke="#000" stroke-width="2.5"/>
<text x="819.6" y="372" font-size="16.5" font-weight="bold" text-anchor="middle" fill="#000">0</text>
<line x1="882.5" y1="341.4" x2="882.5" y2="350.5" stroke="#000" stroke-width="2.5"/>
<text x="882.5" y="372" font-size="16.5" font-weight="bold" text-anchor="middle" fill="#000">25</text>
<line x1="945.4" y1="341.4" x2="945.4" y2="350.5" stroke="#000" stroke-width="2.5"/>
<text x="945.4" y="372" font-size="16.5" font-weight="bold" text-anchor="middle" fill="#000">50</text>
<line x1="1008.2" y1="341.4" x2="1008.2" y2="350.5" stroke="#000" stroke-width="2.5"/>
<text x="1008.2" y="372" font-size="16.5" font-weight="bold" text-anchor="middle" fill="#000">75</text>
<line x1="1071.1" y1="341.4" x2="1071.1" y2="350.5" stroke="#000" stroke-width="2.5"/>
<text x="1071.1" y="372" font-size="16.5" font-weight="bold" text-anchor="middle" fill="#000">100</text>
<text x="938.5" y="401.5" font-size="19" font-weight="bold" text-anchor="middle" fill="#000" textLength="128.5" lengthAdjust="spacingAndGlyphs">Inhibition (%)</text>
<rect x="819.6" y="245.1" width="196.2" height="30.6" fill="none" stroke="#000" stroke-width="2.4"/>
<line x1="809.7" y1="259.6" x2="819.7" y2="259.6" stroke="#000" stroke-width="2.4"/>
<text x="805.6" y="266.6" font-size="17.6" font-weight="bold" text-anchor="end" fill="#000" textLength="90.6" lengthAdjust="spacingAndGlyphs">WT Nav1.7</text>
<rect x="819.6" y="294.3" width="159.2" height="29.4" fill="#d6d6d6" stroke="#000" stroke-width="2.4"/>
<line x1="809.7" y1="309" x2="819.7" y2="309" stroke="#000" stroke-width="2.4"/>
<text x="800" y="315.9" font-size="17.6" font-weight="bold" text-anchor="end" fill="#000" textLength="61.2" lengthAdjust="spacingAndGlyphs">L1267V</text>
<circle cx="1007.4" cy="248.6" r="4.9" fill="#000"/>
<circle cx="994.9" cy="254.8" r="4.9" fill="#000"/>
<circle cx="987.9" cy="265.5" r="4.9" fill="#000"/>
<circle cx="1007.4" cy="271.8" r="4.9" fill="#000"/>
<circle cx="1013.1" cy="260" r="4.9" fill="#000"/>
<circle cx="1030" cy="248.6" r="4.9" fill="#000"/>
<circle cx="1028.2" cy="260" r="4.9" fill="#000"/>
<circle cx="1043.9" cy="260" r="4.9" fill="#000"/>
<circle cx="1030" cy="271.8" r="4.9" fill="#000"/>
<line x1="1015.7" y1="260" x2="1022.2" y2="260" stroke="#000" stroke-width="1.6"/>
<line x1="1022.2" y1="253" x2="1022.2" y2="267.3" stroke="#000" stroke-width="1.6"/>
<circle cx="976.1" cy="297.3" r="4.9" fill="#6e6e6e"/>
<circle cx="962.6" cy="309" r="4.9" fill="#6e6e6e"/>
<circle cx="976.6" cy="305.1" r="4.9" fill="#6e6e6e"/>
<circle cx="976.1" cy="312.4" r="4.9" fill="#6e6e6e"/>
<circle cx="986.5" cy="312.4" r="4.9" fill="#6e6e6e"/>
<circle cx="983.2" cy="320.2" r="4.9" fill="#6e6e6e"/>
<circle cx="994.9" cy="305.1" r="4.9" fill="#6e6e6e"/>
<line x1="983.2" y1="302.5" x2="983.2" y2="313.7" stroke="#000" stroke-width="1.6"/>
<line x1="978.7" y1="309" x2="983.2" y2="309" stroke="#000" stroke-width="1.6"/>
<text x="1011.2" y="314" font-size="22" font-weight="bold" text-anchor="middle" fill="#000">*</text>
<text x="1011.2" y="324" font-size="22" font-weight="bold" text-anchor="middle" fill="#000">*</text>
<text x="3.6" y="473.8" font-size="33.5" stroke="#000" stroke-width="0.35" text-anchor="start" fill="#000">C</text>
<circle cx="195.1" cy="420" r="7.2" fill="#555" opacity="0.5"/>
<circle cx="195.1" cy="420" r="6.2" fill="#0a0a0a"/>
<text x="221.7" y="427.1" font-size="19" stroke="#000" stroke-width="0.35" text-anchor="start" fill="#000" textLength="99" lengthAdjust="spacingAndGlyphs">L1267V Ctr</text>
<circle cx="195.4" cy="468.6" r="7.2" fill="#bbb" opacity="0.6"/>
<circle cx="195.4" cy="468.6" r="6.2" fill="#888"/>
<text x="221.7" y="475.4" font-size="19" stroke="#000" stroke-width="0.35" text-anchor="start" fill="#000" textLength="195.6" lengthAdjust="spacingAndGlyphs">L1267V Mepy (50 μM)</text>
<line x1="23" y1="527.6" x2="389.8" y2="527.6" stroke="#000" stroke-width="2.1"/>
<line x1="58.7" y1="527.6" x2="58.7" y2="517.8" stroke="#000" stroke-width="2.2"/>
<line x1="358.3" y1="527.6" x2="358.3" y2="517.8" stroke="#000" stroke-width="2.2"/>
<line x1="133.6" y1="527.6" x2="133.6" y2="522.4" stroke="#000" stroke-width="2.2"/>
<line x1="283.4" y1="527.6" x2="283.4" y2="522.4" stroke="#000" stroke-width="2.2"/>
<text x="58.7" y="515.9" font-size="17" font-weight="bold" text-anchor="middle" fill="#000">-50</text>
<text x="208.5" y="515.9" font-size="17" font-weight="bold" text-anchor="middle" fill="#000">0</text>
<text x="358.3" y="515.9" font-size="17" font-weight="bold" text-anchor="middle" fill="#000">50</text>
<text x="146" y="505.5" font-size="19.5" font-weight="bold" text-anchor="middle" fill="#000" textLength="61" lengthAdjust="spacingAndGlyphs">V (mV)</text>
<line x1="208.6" y1="526.7" x2="208.6" y2="768.8" stroke="#000" stroke-width="2.5"/>
<line x1="198.8" y1="767.6" x2="209.8" y2="767.6" stroke="#000" stroke-width="2.5"/>
<line x1="199" y1="647.6" x2="208.6" y2="647.6" stroke="#000" stroke-width="2.3"/>
<line x1="203.4" y1="567.9" x2="208.6" y2="567.9" stroke="#000" stroke-width="2.2"/>
<line x1="203.4" y1="607.8" x2="208.6" y2="607.8" stroke="#000" stroke-width="2.2"/>
<line x1="203.4" y1="687.7" x2="208.6" y2="687.7" stroke="#000" stroke-width="2.2"/>
<line x1="203.4" y1="727.7" x2="208.6" y2="727.7" stroke="#000" stroke-width="2.2"/>
<text x="193.9" y="654.6" font-size="17" font-weight="bold" text-anchor="end" fill="#000" textLength="34" lengthAdjust="spacingAndGlyphs">-500</text>
<text x="194.3" y="774.3" font-size="17" font-weight="bold" text-anchor="end" fill="#000" textLength="44.5" lengthAdjust="spacingAndGlyphs">-1000</text>
<text x="236.5" y="745.9" font-size="19.5" font-weight="bold" text-anchor="start" fill="#000" transform="rotate(90 236.5 745.9)" textLength="48.5" lengthAdjust="spacingAndGlyphs">I (pA)</text>
<line x1="118.6" y1="533.5" x2="118.6" y2="562.8" stroke="#8c8c8c" stroke-width="1.6"/>
<line x1="113.6" y1="533.5" x2="123.6" y2="533.5" stroke="#8c8c8c" stroke-width="1.6"/>
<line x1="113.6" y1="562.8" x2="123.6" y2="562.8" stroke="#8c8c8c" stroke-width="1.6"/>
<line x1="133.6" y1="568" x2="133.6" y2="608" stroke="#8c8c8c" stroke-width="1.6"/>
<line x1="128.6" y1="568" x2="138.6" y2="568" stroke="#8c8c8c" stroke-width="1.6"/>
<line x1="128.6" y1="608" x2="138.6" y2="608" stroke="#8c8c8c" stroke-width="1.6"/>
<line x1="148.6" y1="586" x2="148.6" y2="646" stroke="#8c8c8c" stroke-width="1.6"/>
<line x1="143.6" y1="586" x2="153.6" y2="586" stroke="#8c8c8c" stroke-width="1.6"/>
<line x1="143.6" y1="646" x2="153.6" y2="646" stroke="#8c8c8c" stroke-width="1.6"/>
<line x1="163.6" y1="600.8" x2="163.6" y2="654.6" stroke="#8c8c8c" stroke-width="1.6"/>
<line x1="158.6" y1="600.8" x2="168.6" y2="600.8" stroke="#8c8c8c" stroke-width="1.6"/>
<line x1="158.6" y1="654.6" x2="168.6" y2="654.6" stroke="#8c8c8c" stroke-width="1.6"/>
<line x1="178.5" y1="611.8" x2="178.5" y2="659" stroke="#8c8c8c" stroke-width="1.6"/>
<line x1="173.5" y1="611.8" x2="183.5" y2="611.8" stroke="#8c8c8c" stroke-width="1.6"/>
<line x1="173.5" y1="659" x2="183.5" y2="659" stroke="#8c8c8c" stroke-width="1.6"/>
<line x1="193.5" y1="611.8" x2="193.5" y2="654.6" stroke="#8c8c8c" stroke-width="1.6"/>
<line x1="188.5" y1="611.8" x2="198.5" y2="611.8" stroke="#8c8c8c" stroke-width="1.6"/>
<line x1="188.5" y1="654.6" x2="198.5" y2="654.6" stroke="#8c8c8c" stroke-width="1.6"/>
<line x1="208.5" y1="607.3" x2="208.5" y2="645.1" stroke="#8c8c8c" stroke-width="1.6"/>
<line x1="203.5" y1="607.3" x2="213.5" y2="607.3" stroke="#8c8c8c" stroke-width="1.6"/>
<line x1="203.5" y1="645.1" x2="213.5" y2="645.1" stroke="#8c8c8c" stroke-width="1.6"/>
<line x1="223.5" y1="602" x2="223.5" y2="633" stroke="#8c8c8c" stroke-width="1.6"/>
<line x1="218.5" y1="602" x2="228.5" y2="602" stroke="#8c8c8c" stroke-width="1.6"/>
<line x1="218.5" y1="633" x2="228.5" y2="633" stroke="#8c8c8c" stroke-width="1.6"/>
<line x1="238.5" y1="593" x2="238.5" y2="626.2" stroke="#8c8c8c" stroke-width="1.6"/>
<line x1="233.5" y1="593" x2="243.5" y2="593" stroke="#8c8c8c" stroke-width="1.6"/>
<line x1="233.5" y1="626.2" x2="243.5" y2="626.2" stroke="#8c8c8c" stroke-width="1.6"/>
<line x1="253.4" y1="588.6" x2="253.4" y2="613.6" stroke="#8c8c8c" stroke-width="1.6"/>
<line x1="248.4" y1="588.6" x2="258.4" y2="588.6" stroke="#8c8c8c" stroke-width="1.6"/>
<line x1="248.4" y1="613.6" x2="258.4" y2="613.6" stroke="#8c8c8c" stroke-width="1.6"/>
<line x1="268.4" y1="584.5" x2="268.4" y2="605.1" stroke="#8c8c8c" stroke-width="1.6"/>
<line x1="263.4" y1="584.5" x2="273.4" y2="584.5" stroke="#8c8c8c" stroke-width="1.6"/>
<line x1="263.4" y1="605.1" x2="273.4" y2="605.1" stroke="#8c8c8c" stroke-width="1.6"/>
<line x1="283.4" y1="570.4" x2="283.4" y2="598.3" stroke="#8c8c8c" stroke-width="1.6"/>
<line x1="278.4" y1="570.4" x2="288.4" y2="570.4" stroke="#8c8c8c" stroke-width="1.6"/>
<line x1="278.4" y1="598.3" x2="288.4" y2="598.3" stroke="#8c8c8c" stroke-width="1.6"/>
<line x1="298.4" y1="566" x2="298.4" y2="589.8" stroke="#8c8c8c" stroke-width="1.6"/>
<line x1="293.4" y1="566" x2="303.4" y2="566" stroke="#8c8c8c" stroke-width="1.6"/>
<line x1="293.4" y1="589.8" x2="303.4" y2="589.8" stroke="#8c8c8c" stroke-width="1.6"/>
<line x1="313.4" y1="556.3" x2="313.4" y2="580.1" stroke="#8c8c8c" stroke-width="1.6"/>
<line x1="308.4" y1="556.3" x2="318.4" y2="556.3" stroke="#8c8c8c" stroke-width="1.6"/>
<line x1="308.4" y1="580.1" x2="318.4" y2="580.1" stroke="#8c8c8c" stroke-width="1.6"/>
<line x1="328.3" y1="551" x2="328.3" y2="572" stroke="#8c8c8c" stroke-width="1.6"/>
<line x1="323.3" y1="551" x2="333.3" y2="551" stroke="#8c8c8c" stroke-width="1.6"/>
<line x1="323.3" y1="572" x2="333.3" y2="572" stroke="#8c8c8c" stroke-width="1.6"/>
<line x1="343.3" y1="548.5" x2="343.3" y2="566.7" stroke="#8c8c8c" stroke-width="1.6"/>
<line x1="338.3" y1="548.5" x2="348.3" y2="548.5" stroke="#8c8c8c" stroke-width="1.6"/>
<line x1="338.3" y1="566.7" x2="348.3" y2="566.7" stroke="#8c8c8c" stroke-width="1.6"/>
<line x1="358.3" y1="540.5" x2="358.3" y2="565" stroke="#8c8c8c" stroke-width="1.6"/>
<line x1="353.3" y1="540.5" x2="363.3" y2="540.5" stroke="#8c8c8c" stroke-width="1.6"/>
<line x1="353.3" y1="565" x2="363.3" y2="565" stroke="#8c8c8c" stroke-width="1.6"/>
<line x1="373.3" y1="539.6" x2="373.3" y2="555.3" stroke="#8c8c8c" stroke-width="1.6"/>
<line x1="368.3" y1="539.6" x2="378.3" y2="539.6" stroke="#8c8c8c" stroke-width="1.6"/>
<line x1="368.3" y1="555.3" x2="378.3" y2="555.3" stroke="#8c8c8c" stroke-width="1.6"/>
<path d="M28.7 532.9 L43.7 534 L58.7 532.9 L73.7 534 L88.7 532.9 L103.6 537 L118.6 548.2 L133.6 588 L148.6 615.9 L163.6 627.5 L178.5 635.1 L193.5 632.8 L208.5 626.3 L223.5 617.7 L238.5 609.7 L253.4 600.7 L268.4 594.7 L283.4 584.5 L298.4 577.7 L313.4 568.4 L328.3 561.9 L343.3 557.5 L358.3 552.2 L373.3 547.3 L389.3 543.2" fill="none" stroke="#8c8c8c" stroke-width="2.6" stroke-linejoin="round"/>
<circle cx="28.7" cy="532.9" r="5.6" fill="#8c8c8c"/>
<circle cx="43.7" cy="534" r="5.6" fill="#8c8c8c"/>
<circle cx="58.7" cy="532.9" r="5.6" fill="#8c8c8c"/>
<circle cx="73.7" cy="534" r="5.6" fill="#8c8c8c"/>
<circle cx="88.7" cy="532.9" r="5.6" fill="#8c8c8c"/>
<circle cx="103.6" cy="537" r="5.6" fill="#8c8c8c"/>
<circle cx="118.6" cy="548.2" r="5.6" fill="#8c8c8c"/>
<circle cx="133.6" cy="588" r="5.6" fill="#8c8c8c"/>
<circle cx="148.6" cy="615.9" r="5.6" fill="#8c8c8c"/>
<circle cx="163.6" cy="627.5" r="5.6" fill="#8c8c8c"/>
<circle cx="178.5" cy="635.1" r="5.6" fill="#8c8c8c"/>
<circle cx="193.5" cy="632.8" r="5.6" fill="#8c8c8c"/>
<circle cx="208.5" cy="626.3" r="5.6" fill="#8c8c8c"/>
<circle cx="223.5" cy="617.7" r="5.6" fill="#8c8c8c"/>
<circle cx="238.5" cy="609.7" r="5.6" fill="#8c8c8c"/>
<circle cx="253.4" cy="600.7" r="5.6" fill="#8c8c8c"/>
<circle cx="268.4" cy="594.7" r="5.6" fill="#8c8c8c"/>
<circle cx="283.4" cy="584.5" r="5.6" fill="#8c8c8c"/>
<circle cx="298.4" cy="577.7" r="5.6" fill="#8c8c8c"/>
<circle cx="313.4" cy="568.4" r="5.6" fill="#8c8c8c"/>
<circle cx="328.3" cy="561.9" r="5.6" fill="#8c8c8c"/>
<circle cx="343.3" cy="557.5" r="5.6" fill="#8c8c8c"/>
<circle cx="358.3" cy="552.2" r="5.6" fill="#8c8c8c"/>
<circle cx="373.3" cy="547.3" r="5.6" fill="#8c8c8c"/>
<line x1="133.6" y1="564.4" x2="133.6" y2="615.9" stroke="#111" stroke-width="1.6"/>
<line x1="128.6" y1="564.4" x2="138.6" y2="564.4" stroke="#111" stroke-width="1.6"/>
<line x1="128.6" y1="615.9" x2="138.6" y2="615.9" stroke="#111" stroke-width="1.6"/>
<line x1="148.6" y1="613.9" x2="148.6" y2="710.8" stroke="#111" stroke-width="1.6"/>
<line x1="143.6" y1="613.9" x2="153.6" y2="613.9" stroke="#111" stroke-width="1.6"/>
<line x1="143.6" y1="710.8" x2="153.6" y2="710.8" stroke="#111" stroke-width="1.6"/>
<line x1="163.6" y1="655.5" x2="163.6" y2="753.6" stroke="#111" stroke-width="1.6"/>
<line x1="158.6" y1="655.5" x2="168.6" y2="655.5" stroke="#111" stroke-width="1.6"/>
<line x1="158.6" y1="753.6" x2="168.6" y2="753.6" stroke="#111" stroke-width="1.6"/>
<line x1="178.5" y1="675.9" x2="178.5" y2="769.6" stroke="#111" stroke-width="1.6"/>
<line x1="173.5" y1="675.9" x2="183.5" y2="675.9" stroke="#111" stroke-width="1.6"/>
<line x1="173.5" y1="769.6" x2="183.5" y2="769.6" stroke="#111" stroke-width="1.6"/>
<line x1="193.5" y1="677.9" x2="193.5" y2="768.2" stroke="#111" stroke-width="1.6"/>
<line x1="188.5" y1="677.9" x2="198.5" y2="677.9" stroke="#111" stroke-width="1.6"/>
<line x1="188.5" y1="768.2" x2="198.5" y2="768.2" stroke="#111" stroke-width="1.6"/>
<line x1="208.5" y1="665.6" x2="208.5" y2="751" stroke="#111" stroke-width="1.6"/>
<line x1="203.5" y1="665.6" x2="213.5" y2="665.6" stroke="#111" stroke-width="1.6"/>
<line x1="203.5" y1="751" x2="213.5" y2="751" stroke="#111" stroke-width="1.6"/>
<line x1="223.5" y1="660.6" x2="223.5" y2="738.3" stroke="#111" stroke-width="1.6"/>
<line x1="218.5" y1="660.6" x2="228.5" y2="660.6" stroke="#111" stroke-width="1.6"/>
<line x1="218.5" y1="738.3" x2="228.5" y2="738.3" stroke="#111" stroke-width="1.6"/>
<line x1="238.5" y1="652.8" x2="238.5" y2="725.2" stroke="#111" stroke-width="1.6"/>
<line x1="233.5" y1="652.8" x2="243.5" y2="652.8" stroke="#111" stroke-width="1.6"/>
<line x1="233.5" y1="725.2" x2="243.5" y2="725.2" stroke="#111" stroke-width="1.6"/>
<line x1="253.4" y1="641.2" x2="253.4" y2="705.6" stroke="#111" stroke-width="1.6"/>
<line x1="248.4" y1="641.2" x2="258.4" y2="641.2" stroke="#111" stroke-width="1.6"/>
<line x1="248.4" y1="705.6" x2="258.4" y2="705.6" stroke="#111" stroke-width="1.6"/>
<line x1="268.4" y1="630.1" x2="268.4" y2="689.6" stroke="#111" stroke-width="1.6"/>
<line x1="263.4" y1="630.1" x2="273.4" y2="630.1" stroke="#111" stroke-width="1.6"/>
<line x1="263.4" y1="689.6" x2="273.4" y2="689.6" stroke="#111" stroke-width="1.6"/>
<line x1="283.4" y1="616" x2="283.4" y2="668" stroke="#111" stroke-width="1.6"/>
<line x1="278.4" y1="616" x2="288.4" y2="616" stroke="#111" stroke-width="1.6"/>
<line x1="278.4" y1="668" x2="288.4" y2="668" stroke="#111" stroke-width="1.6"/>
<line x1="298.4" y1="607.5" x2="298.4" y2="655.3" stroke="#111" stroke-width="1.6"/>
<line x1="293.4" y1="607.5" x2="303.4" y2="607.5" stroke="#111" stroke-width="1.6"/>
<line x1="293.4" y1="655.3" x2="303.4" y2="655.3" stroke="#111" stroke-width="1.6"/>
<line x1="313.4" y1="591.7" x2="313.4" y2="636.7" stroke="#111" stroke-width="1.6"/>
<line x1="308.4" y1="591.7" x2="318.4" y2="591.7" stroke="#111" stroke-width="1.6"/>
<line x1="308.4" y1="636.7" x2="318.4" y2="636.7" stroke="#111" stroke-width="1.6"/>
<line x1="328.3" y1="585.4" x2="328.3" y2="624.3" stroke="#111" stroke-width="1.6"/>
<line x1="323.3" y1="585.4" x2="333.3" y2="585.4" stroke="#111" stroke-width="1.6"/>
<line x1="323.3" y1="624.3" x2="333.3" y2="624.3" stroke="#111" stroke-width="1.6"/>
<line x1="343.3" y1="575.2" x2="343.3" y2="610.4" stroke="#111" stroke-width="1.6"/>
<line x1="338.3" y1="575.2" x2="348.3" y2="575.2" stroke="#111" stroke-width="1.6"/>
<line x1="338.3" y1="610.4" x2="348.3" y2="610.4" stroke="#111" stroke-width="1.6"/>
<line x1="358.3" y1="570.9" x2="358.3" y2="599" stroke="#111" stroke-width="1.6"/>
<line x1="353.3" y1="570.9" x2="363.3" y2="570.9" stroke="#111" stroke-width="1.6"/>
<line x1="353.3" y1="599" x2="363.3" y2="599" stroke="#111" stroke-width="1.6"/>
<line x1="373.3" y1="560.2" x2="373.3" y2="586.4" stroke="#111" stroke-width="1.6"/>
<line x1="368.3" y1="560.2" x2="378.3" y2="560.2" stroke="#111" stroke-width="1.6"/>
<line x1="368.3" y1="586.4" x2="378.3" y2="586.4" stroke="#111" stroke-width="1.6"/>
<path d="M23.5 532.9 L28.7 532.9 L43.7 534.4 L58.7 532.9 L73.7 534 L88.7 532.9 L103.6 537.7 L118.6 544.4 L133.6 590 L148.6 661.9 L163.6 705 L178.5 722.4 L193.5 721.6 L208.5 708.5 L223.5 697.8 L238.5 688.1 L253.4 673 L268.4 659.7 L283.4 641.5 L298.4 631.8 L313.4 613.6 L328.3 604.4 L343.3 592.2 L358.3 585 L373.3 573.3 L389.3 565" fill="none" stroke="#000" stroke-width="2.6" stroke-linejoin="round"/>
<circle cx="28.7" cy="532.9" r="5.6" fill="#000"/>
<circle cx="43.7" cy="534.4" r="5.6" fill="#000"/>
<circle cx="58.7" cy="532.9" r="5.6" fill="#000"/>
<circle cx="73.7" cy="534" r="5.6" fill="#000"/>
<circle cx="88.7" cy="532.9" r="5.6" fill="#000"/>
<circle cx="103.6" cy="537.7" r="5.6" fill="#000"/>
<circle cx="118.6" cy="544.4" r="5.6" fill="#000"/>
<circle cx="133.6" cy="590" r="5.6" fill="#000"/>
<circle cx="148.6" cy="661.9" r="5.6" fill="#000"/>
<circle cx="163.6" cy="705" r="5.6" fill="#000"/>
<circle cx="178.5" cy="722.4" r="5.6" fill="#000"/>
<circle cx="193.5" cy="721.6" r="5.6" fill="#000"/>
<circle cx="208.5" cy="708.5" r="5.6" fill="#000"/>
<circle cx="223.5" cy="697.8" r="5.6" fill="#000"/>
<circle cx="238.5" cy="688.1" r="5.6" fill="#000"/>
<circle cx="253.4" cy="673" r="5.6" fill="#000"/>
<circle cx="268.4" cy="659.7" r="5.6" fill="#000"/>
<circle cx="283.4" cy="641.5" r="5.6" fill="#000"/>
<circle cx="298.4" cy="631.8" r="5.6" fill="#000"/>
<circle cx="313.4" cy="613.6" r="5.6" fill="#000"/>
<circle cx="328.3" cy="604.4" r="5.6" fill="#000"/>
<circle cx="343.3" cy="592.2" r="5.6" fill="#000"/>
<circle cx="358.3" cy="585" r="5.6" fill="#000"/>
<circle cx="373.3" cy="573.3" r="5.6" fill="#000"/>
<text x="468.3" y="471.7" font-size="33.5" stroke="#000" stroke-width="0.35" text-anchor="start" fill="#000">D</text>
<text x="571.3" y="494.6" font-size="23.8" stroke="#000" stroke-width="0.35" text-anchor="start" fill="#000" textLength="101.5" lengthAdjust="spacingAndGlyphs">Activation</text>
<line x1="397.6" y1="755.3" x2="760.5" y2="755.3" stroke="#000" stroke-width="2.6"/>
<line x1="398.9" y1="755.3" x2="398.9" y2="765" stroke="#000" stroke-width="2.1"/>
<line x1="431.7" y1="755.3" x2="431.7" y2="760.8" stroke="#000" stroke-width="2.1"/>
<line x1="464.4" y1="755.3" x2="464.4" y2="760.8" stroke="#000" stroke-width="2.1"/>
<line x1="497.2" y1="755.3" x2="497.2" y2="760.8" stroke="#000" stroke-width="2.1"/>
<line x1="529.9" y1="755.3" x2="529.9" y2="760.8" stroke="#000" stroke-width="2.1"/>
<line x1="562.7" y1="755.3" x2="562.7" y2="765" stroke="#000" stroke-width="2.1"/>
<line x1="595.5" y1="755.3" x2="595.5" y2="760.8" stroke="#000" stroke-width="2.1"/>
<line x1="628.2" y1="755.3" x2="628.2" y2="760.8" stroke="#000" stroke-width="2.1"/>
<line x1="661" y1="755.3" x2="661" y2="760.8" stroke="#000" stroke-width="2.1"/>
<line x1="693.7" y1="755.3" x2="693.7" y2="760.8" stroke="#000" stroke-width="2.1"/>
<line x1="726.5" y1="755.3" x2="726.5" y2="765" stroke="#000" stroke-width="2.1"/>
<text x="398.9" y="784.7" font-size="17" font-weight="bold" text-anchor="middle" fill="#000">-80</text>
<text x="562.7" y="784.7" font-size="17" font-weight="bold" text-anchor="middle" fill="#000">-30</text>
<text x="726.5" y="784.7" font-size="17" font-weight="bold" text-anchor="middle" fill="#000">20</text>
<text x="579.5" y="814.8" font-size="19.5" font-weight="bold" text-anchor="middle" fill="#000" textLength="62.3" lengthAdjust="spacingAndGlyphs">V (mV)</text>
<line x1="661.4" y1="513.8" x2="661.4" y2="756" stroke="#000" stroke-width="2.3"/>
<line x1="661.4" y1="705.1" x2="666.6" y2="705.1" stroke="#000" stroke-width="2.1"/>
<line x1="661.4" y1="654.9" x2="671" y2="654.9" stroke="#000" stroke-width="2.1"/>
<line x1="661.4" y1="604.7" x2="666.6" y2="604.7" stroke="#000" stroke-width="2.1"/>
<line x1="661.4" y1="554.5" x2="671" y2="554.5" stroke="#000" stroke-width="2.1"/>
<text x="676.3" y="661.5" font-size="17.5" font-weight="bold" text-anchor="start" fill="#000" textLength="24.6" lengthAdjust="spacingAndGlyphs">0.5</text>
<text x="676.3" y="561" font-size="17" font-weight="bold" text-anchor="start" fill="#000" textLength="24.4" lengthAdjust="spacingAndGlyphs">1.0</text>
<text x="651.5" y="634.7" font-size="19.5" font-weight="bold" text-anchor="middle" fill="#000" transform="rotate(-90 651.5 634.7)" textLength="76.6" lengthAdjust="spacingAndGlyphs">G/Gmax</text>
<line x1="562.7" y1="733.5" x2="562.7" y2="742.5" stroke="#111" stroke-width="1.6"/>
<line x1="558.2" y1="733.5" x2="567.2" y2="733.5" stroke="#111" stroke-width="1.6"/>
<line x1="558.2" y1="742.5" x2="567.2" y2="742.5" stroke="#111" stroke-width="1.6"/>
<line x1="579.1" y1="708.5" x2="579.1" y2="722.2" stroke="#111" stroke-width="1.6"/>
<line x1="574.6" y1="708.5" x2="583.6" y2="708.5" stroke="#111" stroke-width="1.6"/>
<line x1="574.6" y1="722.2" x2="583.6" y2="722.2" stroke="#111" stroke-width="1.6"/>
<line x1="595.5" y1="650.6" x2="595.5" y2="674.2" stroke="#111" stroke-width="1.6"/>
<line x1="591" y1="650.6" x2="600" y2="650.6" stroke="#111" stroke-width="1.6"/>
<line x1="591" y1="674.2" x2="600" y2="674.2" stroke="#111" stroke-width="1.6"/>
<line x1="611.8" y1="596.4" x2="611.8" y2="614" stroke="#111" stroke-width="1.6"/>
<line x1="607.3" y1="596.4" x2="616.3" y2="596.4" stroke="#111" stroke-width="1.6"/>
<line x1="607.3" y1="614" x2="616.3" y2="614" stroke="#111" stroke-width="1.6"/>
<line x1="677.4" y1="543" x2="677.4" y2="550.5" stroke="#111" stroke-width="1.6"/>
<line x1="672.9" y1="543" x2="681.9" y2="543" stroke="#111" stroke-width="1.6"/>
<line x1="672.9" y1="550.5" x2="681.9" y2="550.5" stroke="#111" stroke-width="1.6"/>
<line x1="693.7" y1="541.3" x2="693.7" y2="551.5" stroke="#111" stroke-width="1.6"/>
<line x1="689.2" y1="541.3" x2="698.2" y2="541.3" stroke="#111" stroke-width="1.6"/>
<line x1="689.2" y1="551.5" x2="698.2" y2="551.5" stroke="#111" stroke-width="1.6"/>
<line x1="726.5" y1="555" x2="726.5" y2="564" stroke="#111" stroke-width="1.6"/>
<line x1="722" y1="555" x2="731" y2="555" stroke="#111" stroke-width="1.6"/>
<line x1="722" y1="564" x2="731" y2="564" stroke="#111" stroke-width="1.6"/>
<line x1="742.9" y1="549" x2="742.9" y2="566.9" stroke="#111" stroke-width="1.6"/>
<line x1="738.4" y1="549" x2="747.4" y2="549" stroke="#111" stroke-width="1.6"/>
<line x1="738.4" y1="566.9" x2="747.4" y2="566.9" stroke="#111" stroke-width="1.6"/>
<line x1="628.2" y1="561" x2="628.2" y2="572" stroke="#111" stroke-width="1.6"/>
<line x1="623.7" y1="561" x2="632.7" y2="561" stroke="#111" stroke-width="1.6"/>
<line x1="623.7" y1="572" x2="632.7" y2="572" stroke="#111" stroke-width="1.6"/>
<path d="M497.2 755.3 498.4 755.3 499.6 755.3 500.9 755.3 502.1 755.3 503.4 755.3 504.6 755.2 505.8 755.2 507.1 755.2 508.3 755.2 509.5 755.2 510.8 755.2 512.0 755.2 513.2 755.2 514.5 755.2 515.7 755.1 516.9 755.1 518.2 755.1 519.4 755.1 520.6 755.1 521.9 755.0 523.1 755.0 524.3 755.0 525.6 754.9 526.8 754.9 528.0 754.8 529.3 754.8 530.5 754.7 531.8 754.7 533.0 754.6 534.2 754.5 535.5 754.4 536.7 754.3 537.9 754.2 539.2 754.1 540.4 753.9 541.6 753.8 542.9 753.6 544.1 753.4 545.3 753.2 546.6 752.9 547.8 752.6 549.0 752.3 550.3 752.0 551.5 751.6 552.7 751.2 554.0 750.7 555.2 750.2 556.4 749.6 557.7 748.9 558.9 748.2 560.1 747.4 561.4 746.6 562.6 745.6 563.9 744.5 565.1 743.3 566.3 742.0 567.6 740.5 568.8 739.0 570.0 737.2 571.3 735.3 572.5 733.2 573.7 730.9 575.0 728.5 576.2 725.8 577.4 722.9 578.7 719.8 579.9 716.4 581.1 712.8 582.4 709.0 583.6 704.9 584.8 700.6 586.1 696.1 587.3 691.4 588.5 686.4 589.8 681.3 591.0 676.1 592.2 670.7 593.5 665.2 594.7 659.7 596.0 654.2 597.2 648.6 598.4 643.1 599.7 637.6 600.9 632.3 602.1 627.1 603.4 622.0 604.6 617.1 605.8 612.5 607.1 608.0 608.3 603.8 609.5 599.8 610.8 596.0 612.0 592.5 613.2 589.2 614.5 586.1 615.7 583.3 616.9 580.6 618.2 578.2 619.4 576.0 620.6 574.0 621.9 572.1 623.1 570.4 624.4 568.8 625.6 567.4 626.8 566.2 628.1 565.0 629.3 564.0 630.5 563.0 631.8 562.1 633.0 561.4 634.2 560.7 635.5 560.0 636.7 559.5 637.9 559.0 639.2 558.5 640.4 558.1 641.6 557.7 642.9 557.4 644.1 557.1 645.3 556.8 646.6 556.6 647.8 556.4 649.0 556.2 650.3 556.0 651.5 555.8 652.7 555.7 654.0 555.6 655.2 555.5 656.5 555.4 657.7 555.3 658.9 555.2 660.2 555.1 661.4 555.1 662.6 555.0 663.9 554.9 665.1 554.9 666.3 554.9 667.6 554.8 668.8 554.8 670.0 554.8 671.3 554.7 672.5 554.7 673.7 554.7 675.0 554.7 676.2 554.6 677.4 554.6 678.7 554.6 679.9 554.6 681.1 554.6 682.4 554.6 683.6 554.6 684.9 554.6 686.1 554.6 687.3 554.6 688.6 554.5 689.8 554.5 691.0 554.5 692.3 554.5 693.5 554.5 694.7 554.5 696.0 554.5 697.2 554.5 698.4 554.5 699.7 554.5 700.9 554.5 702.1 554.5 703.4 554.5 704.6 554.5 705.8 554.5 707.1 554.5 708.3 554.5 709.5 554.5 710.8 554.5 712.0 554.5 713.2 554.5 714.5 554.5 715.7 554.5 717.0 554.5 718.2 554.5 719.4 554.5 720.7 554.5 721.9 554.5 723.1 554.5 724.4 554.5 725.6 554.5 726.8 554.5 728.1 554.5 729.3 554.5 730.5 554.5 731.8 554.5 733.0 554.5 734.2 554.5 735.5 554.5 736.7 554.5 737.9 554.5 739.2 554.5 740.4 554.5 741.6 554.5 742.9 554.5" fill="none" stroke="#000" stroke-width="2.5" stroke-linejoin="round"/>
<circle cx="464.4" cy="751.5" r="5" fill="#000"/>
<circle cx="480.8" cy="751.5" r="5" fill="#000"/>
<circle cx="497.2" cy="751.7" r="5" fill="#000"/>
<circle cx="513.6" cy="751.5" r="5" fill="#000"/>
<circle cx="529.9" cy="751" r="5" fill="#000"/>
<circle cx="546.3" cy="747.8" r="5" fill="#000"/>
<circle cx="562.7" cy="738" r="5" fill="#000"/>
<circle cx="579.1" cy="715.5" r="5" fill="#000"/>
<circle cx="595.5" cy="662" r="5" fill="#000"/>
<circle cx="611.8" cy="603" r="5" fill="#000"/>
<circle cx="628.2" cy="566.5" r="5" fill="#000"/>
<circle cx="644.6" cy="555.5" r="5" fill="#000"/>
<circle cx="661" cy="558" r="5" fill="#000"/>
<circle cx="677.4" cy="546.4" r="5" fill="#000"/>
<circle cx="693.7" cy="546.4" r="5" fill="#000"/>
<circle cx="710.1" cy="554.3" r="5" fill="#000"/>
<circle cx="726.5" cy="559" r="5" fill="#000"/>
<circle cx="742.9" cy="558.2" r="5" fill="#000"/>
<line x1="546.3" y1="732.5" x2="546.3" y2="745.5" stroke="#8c8c8c" stroke-width="1.6"/>
<line x1="541.8" y1="732.5" x2="550.8" y2="732.5" stroke="#8c8c8c" stroke-width="1.6"/>
<line x1="541.8" y1="745.5" x2="550.8" y2="745.5" stroke="#8c8c8c" stroke-width="1.6"/>
<line x1="562.7" y1="716.3" x2="562.7" y2="732" stroke="#8c8c8c" stroke-width="1.6"/>
<line x1="558.2" y1="716.3" x2="567.2" y2="716.3" stroke="#8c8c8c" stroke-width="1.6"/>
<line x1="558.2" y1="732" x2="567.2" y2="732" stroke="#8c8c8c" stroke-width="1.6"/>
<line x1="579.1" y1="634.5" x2="579.1" y2="690.8" stroke="#8c8c8c" stroke-width="1.6"/>
<line x1="574.6" y1="634.5" x2="583.6" y2="634.5" stroke="#8c8c8c" stroke-width="1.6"/>
<line x1="574.6" y1="690.8" x2="583.6" y2="690.8" stroke="#8c8c8c" stroke-width="1.6"/>
<line x1="595.5" y1="593.2" x2="595.5" y2="645.5" stroke="#8c8c8c" stroke-width="1.6"/>
<line x1="591" y1="593.2" x2="600" y2="593.2" stroke="#8c8c8c" stroke-width="1.6"/>
<line x1="591" y1="645.5" x2="600" y2="645.5" stroke="#8c8c8c" stroke-width="1.6"/>
<line x1="611.8" y1="572" x2="611.8" y2="603" stroke="#8c8c8c" stroke-width="1.6"/>
<line x1="607.3" y1="572" x2="616.3" y2="572" stroke="#8c8c8c" stroke-width="1.6"/>
<line x1="607.3" y1="603" x2="616.3" y2="603" stroke="#8c8c8c" stroke-width="1.6"/>
<line x1="628.2" y1="556.2" x2="628.2" y2="574.7" stroke="#8c8c8c" stroke-width="1.6"/>
<line x1="623.7" y1="556.2" x2="632.7" y2="556.2" stroke="#8c8c8c" stroke-width="1.6"/>
<line x1="623.7" y1="574.7" x2="632.7" y2="574.7" stroke="#8c8c8c" stroke-width="1.6"/>
<line x1="644.6" y1="549.2" x2="644.6" y2="563" stroke="#8c8c8c" stroke-width="1.6"/>
<line x1="640.1" y1="549.2" x2="649.1" y2="549.2" stroke="#8c8c8c" stroke-width="1.6"/>
<line x1="640.1" y1="563" x2="649.1" y2="563" stroke="#8c8c8c" stroke-width="1.6"/>
<line x1="661" y1="549.2" x2="661" y2="563" stroke="#8c8c8c" stroke-width="1.6"/>
<line x1="656.5" y1="549.2" x2="665.5" y2="549.2" stroke="#8c8c8c" stroke-width="1.6"/>
<line x1="656.5" y1="563" x2="665.5" y2="563" stroke="#8c8c8c" stroke-width="1.6"/>
<line x1="726.5" y1="549.2" x2="726.5" y2="559" stroke="#8c8c8c" stroke-width="1.6"/>
<line x1="722" y1="549.2" x2="731" y2="549.2" stroke="#8c8c8c" stroke-width="1.6"/>
<line x1="722" y1="559" x2="731" y2="559" stroke="#8c8c8c" stroke-width="1.6"/>
<line x1="710.1" y1="548" x2="710.1" y2="555" stroke="#8c8c8c" stroke-width="1.6"/>
<line x1="705.6" y1="548" x2="714.6" y2="548" stroke="#8c8c8c" stroke-width="1.6"/>
<line x1="705.6" y1="555" x2="714.6" y2="555" stroke="#8c8c8c" stroke-width="1.6"/>
<line x1="742.9" y1="551" x2="742.9" y2="559" stroke="#8c8c8c" stroke-width="1.6"/>
<line x1="738.4" y1="551" x2="747.4" y2="551" stroke="#8c8c8c" stroke-width="1.6"/>
<line x1="738.4" y1="559" x2="747.4" y2="559" stroke="#8c8c8c" stroke-width="1.6"/>
<path d="M464.4 755.2 465.9 755.2 467.4 755.2 468.8 755.2 470.3 755.2 471.7 755.2 473.2 755.2 474.7 755.1 476.1 755.1 477.6 755.1 479.1 755.1 480.5 755.1 482.0 755.1 483.5 755.0 484.9 755.0 486.4 755.0 487.9 754.9 489.3 754.9 490.8 754.9 492.3 754.8 493.7 754.8 495.2 754.7 496.7 754.7 498.1 754.6 499.6 754.5 501.0 754.4 502.5 754.3 504.0 754.2 505.4 754.1 506.9 754.0 508.4 753.9 509.8 753.7 511.3 753.6 512.8 753.4 514.2 753.2 515.7 753.0 517.2 752.8 518.6 752.5 520.1 752.3 521.6 752.0 523.0 751.6 524.5 751.3 526.0 750.8 527.4 750.4 528.9 749.9 530.4 749.4 531.8 748.8 533.3 748.2 534.7 747.5 536.2 746.7 537.7 745.9 539.1 744.9 540.6 743.9 542.1 742.9 543.5 741.7 545.0 740.4 546.5 739.0 547.9 737.5 549.4 735.8 550.9 734.0 552.3 732.1 553.8 730.0 555.3 727.8 556.7 725.4 558.2 722.9 559.7 720.1 561.1 717.2 562.6 714.1 564.0 710.9 565.5 707.4 567.0 703.8 568.4 700.0 569.9 696.0 571.4 691.8 572.8 687.5 574.3 683.1 575.8 678.6 577.2 673.9 578.7 669.2 580.2 664.3 581.6 659.5 583.1 654.6 584.6 649.7 586.0 644.9 587.5 640.1 589.0 635.3 590.4 630.7 591.9 626.2 593.4 621.7 594.8 617.5 596.3 613.3 597.7 609.4 599.2 605.6 600.7 602.0 602.1 598.5 603.6 595.3 605.1 592.2 606.5 589.3 608.0 586.6 609.5 584.1 610.9 581.7 612.4 579.5 613.9 577.5 615.3 575.6 616.8 573.8 618.3 572.2 619.7 570.7 621.2 569.3 622.7 568.0 624.1 566.8 625.6 565.7 627.1 564.8 628.5 563.8 630.0 563.0 631.4 562.3 632.9 561.6 634.4 560.9 635.8 560.4 637.3 559.8 638.8 559.3 640.2 558.9 641.7 558.5 643.2 558.1 644.6 557.8 646.1 557.5 647.6 557.2 649.0 557.0 650.5 556.8 652.0 556.5 653.4 556.4 654.9 556.2 656.4 556.0 657.8 555.9 659.3 555.8 660.7 555.6 662.2 555.5 663.7 555.4 665.1 555.4 666.6 555.3 668.1 555.2 669.5 555.1 671.0 555.1 672.5 555.0 673.9 555.0 675.4 554.9 676.9 554.9 678.3 554.9 679.8 554.8 681.3 554.8 682.7 554.8 684.2 554.7 685.7 554.7 687.1 554.7 688.6 554.7 690.1 554.7 691.5 554.6 693.0 554.6 694.4 554.6 695.9 554.6 697.4 554.6 698.8 554.6 700.3 554.6 701.8 554.6 703.2 554.6 704.7 554.6 706.2 554.6 707.6 554.6 709.1 554.5 710.6 554.5 712.0 554.5 713.5 554.5 715.0 554.5 716.4 554.5 717.9 554.5 719.4 554.5 720.8 554.5 722.3 554.5 723.8 554.5 725.2 554.5 726.7 554.5 728.1 554.5 729.6 554.5 731.1 554.5 732.5 554.5 734.0 554.5 735.5 554.5 736.9 554.5 738.4 554.5 739.9 554.5 741.3 554.5 742.8 554.5 744.3 554.5 745.7 554.5 747.2 554.5 748.7 554.5 750.1 554.5 751.6 554.5 753.1 554.5 754.5 554.5 756.0 554.5" fill="none" stroke="#8c8c8c" stroke-width="2.5" stroke-linejoin="round"/>
<circle cx="464.4" cy="750.1" r="5" fill="#8c8c8c"/>
<circle cx="480.8" cy="747.8" r="5" fill="#8c8c8c"/>
<circle cx="497.2" cy="749.8" r="5" fill="#8c8c8c"/>
<circle cx="513.6" cy="749.8" r="5" fill="#8c8c8c"/>
<circle cx="529.9" cy="748.6" r="5" fill="#8c8c8c"/>
<circle cx="546.3" cy="739.1" r="5" fill="#8c8c8c"/>
<circle cx="562.7" cy="724.2" r="5" fill="#8c8c8c"/>
<circle cx="579.1" cy="663.2" r="5" fill="#8c8c8c"/>
<circle cx="595.5" cy="619.2" r="5" fill="#8c8c8c"/>
<circle cx="611.8" cy="587.7" r="5" fill="#8c8c8c"/>
<circle cx="628.2" cy="566.9" r="5" fill="#8c8c8c"/>
<circle cx="644.6" cy="555.1" r="5" fill="#8c8c8c"/>
<circle cx="661" cy="558.2" r="5" fill="#8c8c8c"/>
<circle cx="677.4" cy="555.1" r="5" fill="#8c8c8c"/>
<circle cx="693.7" cy="553.1" r="5" fill="#8c8c8c"/>
<circle cx="710.1" cy="551.1" r="5" fill="#8c8c8c"/>
<circle cx="726.5" cy="553.1" r="5" fill="#8c8c8c"/>
<circle cx="742.9" cy="555.1" r="5" fill="#8c8c8c"/>
<text x="774.6" y="473.3" font-size="33.5" stroke="#000" stroke-width="0.35" text-anchor="start" fill="#000">E</text>
<text x="813.3" y="493" font-size="23.5" stroke="#000" stroke-width="0.35" text-anchor="start" fill="#000" textLength="166" lengthAdjust="spacingAndGlyphs">Fast inactivation</text>
<circle cx="998.2" cy="466.0" r="6.3" fill="none" stroke="#000" stroke-width="1.6"/>
<text x="1016" y="473.9" font-size="20.3" stroke="#000" stroke-width="0.35" text-anchor="start" fill="#000" textLength="53.5" lengthAdjust="spacingAndGlyphs">20 ms</text>
<path d="M999.3 512.2 L992.6 525.8 L1006.0 525.8 Z" fill="none" stroke="#000" stroke-width="1.6" stroke-linejoin="miter"/>
<text x="1016" y="526.6" font-size="20.3" stroke="#000" stroke-width="0.35" text-anchor="start" fill="#000" textLength="64.6" lengthAdjust="spacingAndGlyphs">200 ms</text>
<line x1="826.8" y1="536" x2="826.8" y2="756.5" stroke="#000" stroke-width="2.3"/>
<line x1="825.6" y1="755.3" x2="1148.9" y2="755.3" stroke="#000" stroke-width="2.3"/>
<line x1="826.8" y1="755.3" x2="826.8" y2="765.4" stroke="#000" stroke-width="2.1"/>
<line x1="866.9" y1="755.3" x2="866.9" y2="761.4" stroke="#000" stroke-width="2.1"/>
<line x1="907" y1="755.3" x2="907" y2="765.4" stroke="#000" stroke-width="2.1"/>
<line x1="947.1" y1="755.3" x2="947.1" y2="761.4" stroke="#000" stroke-width="2.1"/>
<line x1="987.2" y1="755.3" x2="987.2" y2="765.4" stroke="#000" stroke-width="2.1"/>
<line x1="1027.4" y1="755.3" x2="1027.4" y2="761.4" stroke="#000" stroke-width="2.1"/>
<line x1="1067.5" y1="755.3" x2="1067.5" y2="765.4" stroke="#000" stroke-width="2.1"/>
<line x1="1107.6" y1="755.3" x2="1107.6" y2="761.4" stroke="#000" stroke-width="2.1"/>
<line x1="1147.7" y1="755.3" x2="1147.7" y2="765.4" stroke="#000" stroke-width="2.1"/>
<line x1="817" y1="755.3" x2="826.8" y2="755.3" stroke="#000" stroke-width="2.1"/>
<text x="813.3" y="762.3" font-size="17" font-weight="bold" text-anchor="end" fill="#000" textLength="23.9" lengthAdjust="spacingAndGlyphs">0.0</text>
<line x1="817" y1="711.6" x2="826.8" y2="711.6" stroke="#000" stroke-width="2.1"/>
<text x="813.3" y="718.6" font-size="17" font-weight="bold" text-anchor="end" fill="#000" textLength="23.9" lengthAdjust="spacingAndGlyphs">0.2</text>
<line x1="817" y1="667.8" x2="826.8" y2="667.8" stroke="#000" stroke-width="2.1"/>
<text x="813.3" y="674.8" font-size="17" font-weight="bold" text-anchor="end" fill="#000" textLength="23.9" lengthAdjust="spacingAndGlyphs">0.4</text>
<line x1="817" y1="624.1" x2="826.8" y2="624.1" stroke="#000" stroke-width="2.1"/>
<text x="813.3" y="631.1" font-size="17" font-weight="bold" text-anchor="end" fill="#000" textLength="23.9" lengthAdjust="spacingAndGlyphs">0.6</text>
<line x1="817" y1="580.3" x2="826.8" y2="580.3" stroke="#000" stroke-width="2.1"/>
<text x="813.3" y="587.3" font-size="17" font-weight="bold" text-anchor="end" fill="#000" textLength="23.9" lengthAdjust="spacingAndGlyphs">0.8</text>
<line x1="817" y1="536.6" x2="826.8" y2="536.6" stroke="#000" stroke-width="2.1"/>
<text x="813.3" y="543.6" font-size="17" font-weight="bold" text-anchor="end" fill="#000" textLength="23.9" lengthAdjust="spacingAndGlyphs">1.0</text>
<text x="826.8" y="785.9" font-size="17" font-weight="bold" text-anchor="middle" fill="#000">-100</text>
<text x="907" y="785.9" font-size="17" font-weight="bold" text-anchor="middle" fill="#000">-75</text>
<text x="987.2" y="785.9" font-size="17" font-weight="bold" text-anchor="middle" fill="#000">-50</text>
<text x="1067.5" y="785.9" font-size="17" font-weight="bold" text-anchor="middle" fill="#000">-25</text>
<text x="1147.7" y="785.9" font-size="17" font-weight="bold" text-anchor="middle" fill="#000">0</text>
<text x="969.2" y="812.8" font-size="19.5" font-weight="bold" text-anchor="middle" fill="#000" textLength="61.5" lengthAdjust="spacingAndGlyphs">V (mV)</text>
<text x="775.7" y="646.2" font-size="19.5" font-weight="bold" text-anchor="middle" fill="#000" transform="rotate(-90 775.7 646.2)" textLength="57.1" lengthAdjust="spacingAndGlyphs">I/Imax</text>
<line x1="874.9" y1="542.9" x2="874.9" y2="568.8" stroke="#8c8c8c" stroke-width="1.6"/>
<line x1="870.4" y1="542.9" x2="879.4" y2="542.9" stroke="#8c8c8c" stroke-width="1.6"/>
<line x1="870.4" y1="568.8" x2="879.4" y2="568.8" stroke="#8c8c8c" stroke-width="1.6"/>
<line x1="907" y1="568" x2="907" y2="598.6" stroke="#8c8c8c" stroke-width="1.6"/>
<line x1="902.5" y1="568" x2="911.5" y2="568" stroke="#8c8c8c" stroke-width="1.6"/>
<line x1="902.5" y1="598.6" x2="911.5" y2="598.6" stroke="#8c8c8c" stroke-width="1.6"/>
<line x1="939.1" y1="617.5" x2="939.1" y2="639.4" stroke="#8c8c8c" stroke-width="1.6"/>
<line x1="934.6" y1="617.5" x2="943.6" y2="617.5" stroke="#8c8c8c" stroke-width="1.6"/>
<line x1="934.6" y1="639.4" x2="943.6" y2="639.4" stroke="#8c8c8c" stroke-width="1.6"/>
<line x1="955.2" y1="642.3" x2="955.2" y2="669" stroke="#8c8c8c" stroke-width="1.6"/>
<line x1="950.7" y1="642.3" x2="959.7" y2="642.3" stroke="#8c8c8c" stroke-width="1.6"/>
<line x1="950.7" y1="669" x2="959.7" y2="669" stroke="#8c8c8c" stroke-width="1.6"/>
<line x1="971.2" y1="678.7" x2="971.2" y2="691.8" stroke="#8c8c8c" stroke-width="1.6"/>
<line x1="966.7" y1="678.7" x2="975.7" y2="678.7" stroke="#8c8c8c" stroke-width="1.6"/>
<line x1="966.7" y1="691.8" x2="975.7" y2="691.8" stroke="#8c8c8c" stroke-width="1.6"/>
<line x1="987.2" y1="699" x2="987.2" y2="707" stroke="#8c8c8c" stroke-width="1.6"/>
<line x1="982.8" y1="699" x2="991.8" y2="699" stroke="#8c8c8c" stroke-width="1.6"/>
<line x1="982.8" y1="707" x2="991.8" y2="707" stroke="#8c8c8c" stroke-width="1.6"/>
<line x1="907" y1="536" x2="907" y2="543" stroke="#8c8c8c" stroke-width="1.6"/>
<line x1="902.5" y1="536" x2="911.5" y2="536" stroke="#8c8c8c" stroke-width="1.6"/>
<line x1="902.5" y1="543" x2="911.5" y2="543" stroke="#8c8c8c" stroke-width="1.6"/>
<line x1="939.1" y1="552" x2="939.1" y2="566" stroke="#8c8c8c" stroke-width="1.6"/>
<line x1="934.6" y1="552" x2="943.6" y2="552" stroke="#8c8c8c" stroke-width="1.6"/>
<line x1="934.6" y1="566" x2="943.6" y2="566" stroke="#8c8c8c" stroke-width="1.6"/>
<line x1="971.2" y1="572.4" x2="971.2" y2="587" stroke="#8c8c8c" stroke-width="1.6"/>
<line x1="966.7" y1="572.4" x2="975.7" y2="572.4" stroke="#8c8c8c" stroke-width="1.6"/>
<line x1="966.7" y1="587" x2="975.7" y2="587" stroke="#8c8c8c" stroke-width="1.6"/>
<line x1="987.2" y1="582.6" x2="987.2" y2="597.1" stroke="#8c8c8c" stroke-width="1.6"/>
<line x1="982.8" y1="582.6" x2="991.8" y2="582.6" stroke="#8c8c8c" stroke-width="1.6"/>
<line x1="982.8" y1="597.1" x2="991.8" y2="597.1" stroke="#8c8c8c" stroke-width="1.6"/>
<line x1="1003.3" y1="601.5" x2="1003.3" y2="616" stroke="#8c8c8c" stroke-width="1.6"/>
<line x1="998.8" y1="601.5" x2="1007.8" y2="601.5" stroke="#8c8c8c" stroke-width="1.6"/>
<line x1="998.8" y1="616" x2="1007.8" y2="616" stroke="#8c8c8c" stroke-width="1.6"/>
<line x1="1019.3" y1="626.3" x2="1019.3" y2="643.7" stroke="#8c8c8c" stroke-width="1.6"/>
<line x1="1014.8" y1="626.3" x2="1023.8" y2="626.3" stroke="#8c8c8c" stroke-width="1.6"/>
<line x1="1014.8" y1="643.7" x2="1023.8" y2="643.7" stroke="#8c8c8c" stroke-width="1.6"/>
<line x1="1035.4" y1="662" x2="1035.4" y2="690" stroke="#8c8c8c" stroke-width="1.6"/>
<line x1="1030.9" y1="662" x2="1039.9" y2="662" stroke="#8c8c8c" stroke-width="1.6"/>
<line x1="1030.9" y1="690" x2="1039.9" y2="690" stroke="#8c8c8c" stroke-width="1.6"/>
<line x1="1051.4" y1="710.7" x2="1051.4" y2="729.6" stroke="#8c8c8c" stroke-width="1.6"/>
<line x1="1046.9" y1="710.7" x2="1055.9" y2="710.7" stroke="#8c8c8c" stroke-width="1.6"/>
<line x1="1046.9" y1="729.6" x2="1055.9" y2="729.6" stroke="#8c8c8c" stroke-width="1.6"/>
<line x1="1067.5" y1="738.2" x2="1067.5" y2="752.2" stroke="#8c8c8c" stroke-width="1.6"/>
<line x1="1063" y1="738.2" x2="1072" y2="738.2" stroke="#8c8c8c" stroke-width="1.6"/>
<line x1="1063" y1="752.2" x2="1072" y2="752.2" stroke="#8c8c8c" stroke-width="1.6"/>
<line x1="1115.6" y1="738.2" x2="1115.6" y2="750" stroke="#8c8c8c" stroke-width="1.6"/>
<line x1="1111.1" y1="738.2" x2="1120.1" y2="738.2" stroke="#8c8c8c" stroke-width="1.6"/>
<line x1="1111.1" y1="750" x2="1120.1" y2="750" stroke="#8c8c8c" stroke-width="1.6"/>
<line x1="1083.5" y1="740" x2="1083.5" y2="752" stroke="#8c8c8c" stroke-width="1.6"/>
<line x1="1079" y1="740" x2="1088" y2="740" stroke="#8c8c8c" stroke-width="1.6"/>
<line x1="1079" y1="752" x2="1088" y2="752" stroke="#8c8c8c" stroke-width="1.6"/>
<line x1="955.2" y1="591.3" x2="955.2" y2="604.4" stroke="#111" stroke-width="1.6"/>
<line x1="950.7" y1="591.3" x2="959.7" y2="591.3" stroke="#111" stroke-width="1.6"/>
<line x1="950.7" y1="604.4" x2="959.7" y2="604.4" stroke="#111" stroke-width="1.6"/>
<line x1="971.2" y1="620.4" x2="971.2" y2="636.4" stroke="#111" stroke-width="1.6"/>
<line x1="966.7" y1="620.4" x2="975.7" y2="620.4" stroke="#111" stroke-width="1.6"/>
<line x1="966.7" y1="636.4" x2="975.7" y2="636.4" stroke="#111" stroke-width="1.6"/>
<line x1="987.2" y1="648" x2="987.2" y2="670" stroke="#111" stroke-width="1.6"/>
<line x1="982.8" y1="648" x2="991.8" y2="648" stroke="#111" stroke-width="1.6"/>
<line x1="982.8" y1="670" x2="991.8" y2="670" stroke="#111" stroke-width="1.6"/>
<line x1="1003.3" y1="684.5" x2="1003.3" y2="702" stroke="#111" stroke-width="1.6"/>
<line x1="998.8" y1="684.5" x2="1007.8" y2="684.5" stroke="#111" stroke-width="1.6"/>
<line x1="998.8" y1="702" x2="1007.8" y2="702" stroke="#111" stroke-width="1.6"/>
<line x1="1019.3" y1="712" x2="1019.3" y2="729.6" stroke="#111" stroke-width="1.6"/>
<line x1="1014.8" y1="712" x2="1023.8" y2="712" stroke="#111" stroke-width="1.6"/>
<line x1="1014.8" y1="729.6" x2="1023.8" y2="729.6" stroke="#111" stroke-width="1.6"/>
<line x1="1051.4" y1="732.5" x2="1051.4" y2="748.5" stroke="#111" stroke-width="1.6"/>
<line x1="1046.9" y1="732.5" x2="1055.9" y2="732.5" stroke="#111" stroke-width="1.6"/>
<line x1="1046.9" y1="748.5" x2="1055.9" y2="748.5" stroke="#111" stroke-width="1.6"/>
<line x1="1067.5" y1="737" x2="1067.5" y2="751.4" stroke="#111" stroke-width="1.6"/>
<line x1="1063" y1="737" x2="1072" y2="737" stroke="#111" stroke-width="1.6"/>
<line x1="1063" y1="751.4" x2="1072" y2="751.4" stroke="#111" stroke-width="1.6"/>
<line x1="955.2" y1="563.7" x2="955.2" y2="571" stroke="#111" stroke-width="1.6"/>
<line x1="950.7" y1="563.7" x2="959.7" y2="563.7" stroke="#111" stroke-width="1.6"/>
<line x1="950.7" y1="571" x2="959.7" y2="571" stroke="#111" stroke-width="1.6"/>
<line x1="987.2" y1="592.8" x2="987.2" y2="603" stroke="#111" stroke-width="1.6"/>
<line x1="982.8" y1="592.8" x2="991.8" y2="592.8" stroke="#111" stroke-width="1.6"/>
<line x1="982.8" y1="603" x2="991.8" y2="603" stroke="#111" stroke-width="1.6"/>
<line x1="1035.4" y1="658.3" x2="1035.4" y2="671.4" stroke="#111" stroke-width="1.6"/>
<line x1="1030.9" y1="658.3" x2="1039.9" y2="658.3" stroke="#111" stroke-width="1.6"/>
<line x1="1030.9" y1="671.4" x2="1039.9" y2="671.4" stroke="#111" stroke-width="1.6"/>
<path d="M826.8 540.1 828.4 540.3 830.0 540.5 831.6 540.7 833.3 541.0 834.9 541.2 836.5 541.4 838.1 541.7 839.7 542.0 841.3 542.3 842.9 542.6 844.5 542.9 846.2 543.2 847.8 543.5 849.4 543.9 851.0 544.3 852.6 544.7 854.2 545.1 855.8 545.6 857.4 546.0 859.1 546.5 860.7 547.0 862.3 547.6 863.9 548.1 865.5 548.7 867.1 549.3 868.7 550.0 870.3 550.7 872.0 551.4 873.6 552.1 875.2 552.9 876.8 553.7 878.4 554.6 880.0 555.5 881.6 556.4 883.2 557.4 884.9 558.4 886.5 559.5 888.1 560.6 889.7 561.7 891.3 562.9 892.9 564.2 894.5 565.5 896.1 566.8 897.8 568.2 899.4 569.7 901.0 571.2 902.6 572.8 904.2 574.4 905.8 576.1 907.4 577.8 909.0 579.6 910.7 581.5 912.3 583.4 913.9 585.3 915.5 587.4 917.1 589.5 918.7 591.6 920.3 593.8 921.9 596.1 923.6 598.4 925.2 600.8 926.8 603.2 928.4 605.7 930.0 608.2 931.6 610.8 933.2 613.4 934.8 616.0 936.5 618.7 938.1 621.5 939.7 624.2 941.3 627.0 942.9 629.8 944.5 632.7 946.1 635.5 947.7 638.4 949.4 641.3 951.0 644.2 952.6 647.1 954.2 650.0 955.8 652.9 957.4 655.7 959.0 658.6 960.6 661.4 962.3 664.3 963.9 667.1 965.5 669.8 967.1 672.6 968.7 675.3 970.3 677.9 971.9 680.6 973.5 683.1 975.2 685.7 976.8 688.2 978.4 690.6 980.0 693.0 981.6 695.3 983.2 697.6 984.8 699.8 986.4 702.0 988.1 704.1 989.7 706.1 991.3 708.1 992.9 710.0 994.5 711.9 996.1 713.7 997.7 715.5 999.3 717.2 1001.0 718.8 1002.6 720.4 1004.2 721.9 1005.8 723.4 1007.4 724.8 1009.0 726.1 1010.6 727.5 1012.2 728.7 1013.9 729.9 1015.5 731.1 1017.1 732.2 1018.7 733.3 1020.3 734.3 1021.9 735.3 1023.5 736.2 1025.1 737.1 1026.8 738.0 1028.4 738.8 1030.0 739.6 1031.6 740.4 1033.2 741.1 1034.8 741.8 1036.4 742.4 1038.0 743.0 1039.7 743.6 1041.3 744.2 1042.9 744.8 1044.5 745.3 1046.1 745.8 1047.7 746.2 1049.3 746.7 1050.9 747.1 1052.6 747.5 1054.2 747.9 1055.8 748.3 1057.4 748.6 1059.0 749.0 1060.6 749.3 1062.2 749.6 1063.8 749.9 1065.5 750.1 1067.1 750.4 1068.7 750.6 1070.3 750.9 1071.9 751.1 1073.5 751.3 1075.1 751.5 1076.7 751.7 1078.4 751.9 1080.0 752.1 1081.6 752.2 1083.2 752.4 1084.8 752.5 1086.4 752.7 1088.0 752.8 1089.6 752.9 1091.3 753.1 1092.9 753.2 1094.5 753.3 1096.1 753.4 1097.7 753.5 1099.3 753.6 1100.9 753.7 1102.5 753.7 1104.2 753.8 1105.8 753.9 1107.4 754.0 1109.0 754.0 1110.6 754.1 1112.2 754.2 1113.8 754.2 1115.4 754.3 1117.1 754.3 1118.7 754.4 1120.3 754.4 1121.9 754.5 1123.5 754.5 1125.1 754.6 1126.7 754.6 1128.3 754.6 1130.0 754.7 1131.6 754.7 1133.2 754.7 1134.8 754.8 1136.4 754.8 1138.0 754.8 1139.6 754.8 1141.2 754.9 1142.9 754.9 1144.5 754.9 1146.1 754.9 1147.7 754.9" fill="none" stroke="#8c8c8c" stroke-width="2.5" stroke-linejoin="round"/>
<path d="M826.8 537.2 828.4 537.2 830.0 537.3 831.6 537.3 833.3 537.3 834.9 537.4 836.5 537.4 838.1 537.5 839.7 537.5 841.3 537.6 842.9 537.7 844.5 537.7 846.2 537.8 847.8 537.9 849.4 538.0 851.0 538.1 852.6 538.2 854.2 538.3 855.8 538.4 857.4 538.5 859.1 538.6 860.7 538.7 862.3 538.9 863.9 539.0 865.5 539.2 867.1 539.3 868.7 539.5 870.3 539.7 872.0 539.9 873.6 540.1 875.2 540.3 876.8 540.6 878.4 540.8 880.0 541.1 881.6 541.4 883.2 541.7 884.9 542.0 886.5 542.3 888.1 542.7 889.7 543.1 891.3 543.5 892.9 543.9 894.5 544.4 896.1 544.9 897.8 545.4 899.4 545.9 901.0 546.5 902.6 547.1 904.2 547.8 905.8 548.5 907.4 549.2 909.0 549.9 910.7 550.7 912.3 551.6 913.9 552.5 915.5 553.5 917.1 554.5 918.7 555.5 920.3 556.6 921.9 557.8 923.6 559.0 925.2 560.3 926.8 561.7 928.4 563.1 930.0 564.6 931.6 566.2 933.2 567.8 934.8 569.6 936.5 571.4 938.1 573.2 939.7 575.2 941.3 577.2 942.9 579.3 944.5 581.5 946.1 583.8 947.7 586.2 949.4 588.7 951.0 591.2 952.6 593.8 954.2 596.5 955.8 599.3 957.4 602.1 959.0 605.0 960.6 608.0 962.3 611.1 963.9 614.2 965.5 617.4 967.1 620.6 968.7 623.8 970.3 627.2 971.9 630.5 973.5 633.9 975.2 637.3 976.8 640.7 978.4 644.1 980.0 647.6 981.6 651.0 983.2 654.4 984.8 657.8 986.4 661.2 988.1 664.6 989.7 667.9 991.3 671.2 992.9 674.4 994.5 677.6 996.1 680.7 997.7 683.7 999.3 686.7 1001.0 689.6 1002.6 692.5 1004.2 695.3 1005.8 698.0 1007.4 700.6 1009.0 703.1 1010.6 705.6 1012.2 707.9 1013.9 710.2 1015.5 712.4 1017.1 714.6 1018.7 716.6 1020.3 718.6 1021.9 720.4 1023.5 722.2 1025.1 724.0 1026.8 725.6 1028.4 727.2 1030.0 728.7 1031.6 730.1 1033.2 731.5 1034.8 732.8 1036.4 734.0 1038.0 735.2 1039.7 736.3 1041.3 737.4 1042.9 738.4 1044.5 739.3 1046.1 740.3 1047.7 741.1 1049.3 741.9 1050.9 742.7 1052.6 743.4 1054.2 744.1 1055.8 744.7 1057.4 745.4 1059.0 745.9 1060.6 746.5 1062.2 747.0 1063.8 747.5 1065.5 748.0 1067.1 748.4 1068.7 748.8 1070.3 749.2 1071.9 749.5 1073.5 749.9 1075.1 750.2 1076.7 750.5 1078.4 750.8 1080.0 751.1 1081.6 751.3 1083.2 751.6 1084.8 751.8 1086.4 752.0 1088.0 752.2 1089.6 752.4 1091.3 752.6 1092.9 752.7 1094.5 752.9 1096.1 753.0 1097.7 753.2 1099.3 753.3 1100.9 753.4 1102.5 753.5 1104.2 753.6 1105.8 753.7 1107.4 753.8 1109.0 753.9 1110.6 754.0 1112.2 754.1 1113.8 754.2 1115.4 754.2 1117.1 754.3 1118.7 754.3 1120.3 754.4 1121.9 754.5 1123.5 754.5 1125.1 754.6 1126.7 754.6 1128.3 754.6 1130.0 754.7 1131.6 754.7 1133.2 754.8 1134.8 754.8 1136.4 754.8 1138.0 754.9 1139.6 754.9 1141.2 754.9 1142.9 754.9 1144.5 755.0 1146.1 755.0 1147.7 755.0" fill="none" stroke="#000" stroke-width="2.5" stroke-linejoin="round"/>
<path d="M874.9 552.1 L869.7 561.6 L880.2 561.6 Z" fill="#9a9a9a"/>
<path d="M907 578.7 L901.8 588.2 L912.3 588.2 Z" fill="#9a9a9a"/>
<path d="M939.1 623.3 L933.9 632.8 L944.4 632.8 Z" fill="#9a9a9a"/>
<path d="M955.2 650.3 L949.9 659.8 L960.4 659.8 Z" fill="#9a9a9a"/>
<path d="M971.2 680.6 L966 690.1 L976.5 690.1 Z" fill="#9a9a9a"/>
<path d="M987.2 697.5 L982 707 L992.5 707 Z" fill="#9a9a9a"/>
<path d="M1003.3 715.6 L998 725.1 L1008.5 725.1 Z" fill="#9a9a9a"/>
<path d="M1019.3 730.1 L1014.1 739.6 L1024.6 739.6 Z" fill="#9a9a9a"/>
<path d="M1035.4 739.1 L1030.1 748.6 L1040.6 748.6 Z" fill="#9a9a9a"/>
<path d="M1051.4 742.1 L1046.2 751.6 L1056.7 751.6 Z" fill="#9a9a9a"/>
<path d="M1067.5 744.1 L1062.2 753.6 L1072.7 753.6 Z" fill="#9a9a9a"/>
<path d="M1083.5 745.1 L1078.3 754.6 L1088.8 754.6 Z" fill="#9a9a9a"/>
<path d="M939.1 569.4 L933.9 578.9 L944.4 578.9 Z" fill="#000"/>
<path d="M955.2 592.7 L949.9 602.2 L960.4 602.2 Z" fill="#000"/>
<path d="M971.2 624.1 L966 633.6 L976.5 633.6 Z" fill="#000"/>
<path d="M987.2 653.8 L982 663.3 L992.5 663.3 Z" fill="#000"/>
<path d="M1003.3 688.2 L998 697.7 L1008.5 697.7 Z" fill="#000"/>
<path d="M1019.3 716.4 L1014.1 725.9 L1024.6 725.9 Z" fill="#000"/>
<path d="M1035.4 735.1 L1030.1 744.6 L1040.6 744.6 Z" fill="#000"/>
<path d="M1051.4 736.8 L1046.2 746.3 L1056.7 746.3 Z" fill="#000"/>
<path d="M1067.5 738.3 L1062.2 747.8 L1072.7 747.8 Z" fill="#000"/>
<path d="M1083.5 741.1 L1078.3 750.6 L1088.8 750.6 Z" fill="#000"/>
<path d="M1099.6 744.1 L1094.3 753.6 L1104.8 753.6 Z" fill="#000"/>
<path d="M1115.6 746.1 L1110.4 755.6 L1120.9 755.6 Z" fill="#000"/>
<circle cx="923.1" cy="536" r="5.2" fill="#000"/>
<circle cx="939.1" cy="549.1" r="5.2" fill="#000"/>
<circle cx="955.2" cy="567.2" r="5.2" fill="#000"/>
<circle cx="971.2" cy="578.2" r="5.2" fill="#000"/>
<circle cx="987.2" cy="596.3" r="5.2" fill="#000"/>
<circle cx="1003.3" cy="608.8" r="5.2" fill="#000"/>
<circle cx="1019.3" cy="632.1" r="5.2" fill="#000"/>
<circle cx="1035.4" cy="664.7" r="5.2" fill="#000"/>
<circle cx="1051.4" cy="722" r="5.2" fill="#000"/>
<circle cx="1067.5" cy="742.7" r="5.2" fill="#000"/>
<circle cx="1083.5" cy="746" r="5.2" fill="#000"/>
<circle cx="1099.6" cy="748.2" r="5.2" fill="#000"/>
<circle cx="1115.6" cy="748" r="5.2" fill="#000"/>
<circle cx="1131.7" cy="750" r="5.2" fill="#000"/>
<circle cx="1147.7" cy="750" r="5.2" fill="#000"/>
<path d="M826.8 537.4 828.4 537.4 830.0 537.5 831.6 537.6 833.3 537.6 834.9 537.7 836.5 537.7 838.1 537.8 839.7 537.9 841.3 537.9 842.9 538.0 844.5 538.1 846.2 538.2 847.8 538.3 849.4 538.3 851.0 538.4 852.6 538.5 854.2 538.6 855.8 538.7 857.4 538.8 859.1 538.9 860.7 539.1 862.3 539.2 863.9 539.3 865.5 539.4 867.1 539.6 868.7 539.7 870.3 539.8 872.0 540.0 873.6 540.1 875.2 540.3 876.8 540.4 878.4 540.6 880.0 540.8 881.6 541.0 883.2 541.1 884.9 541.3 886.5 541.5 888.1 541.7 889.7 541.9 891.3 542.1 892.9 542.4 894.5 542.6 896.1 542.8 897.8 543.1 899.4 543.3 901.0 543.6 902.6 543.8 904.2 544.1 905.8 544.4 907.4 544.7 909.0 545.0 910.7 545.3 912.3 545.6 913.9 545.9 915.5 546.3 917.1 546.6 918.7 547.0 920.3 547.4 921.9 547.8 923.6 548.2 925.2 548.6 926.8 549.0 928.4 549.5 930.0 549.9 931.6 550.4 933.2 550.9 934.8 551.4 936.5 552.0 938.1 552.5 939.7 553.1 941.3 553.7 942.9 554.3 944.5 554.9 946.1 555.6 947.7 556.3 949.4 557.0 951.0 557.7 952.6 558.5 954.2 559.3 955.8 560.1 957.4 561.0 959.0 561.9 960.6 562.8 962.3 563.8 963.9 564.8 965.5 565.8 967.1 566.9 968.7 568.0 970.3 569.2 971.9 570.4 973.5 571.7 975.2 573.0 976.8 574.4 978.4 575.8 980.0 577.3 981.6 578.8 983.2 580.4 984.8 582.1 986.4 583.8 988.1 585.6 989.7 587.5 991.3 589.4 992.9 591.4 994.5 593.5 996.1 595.6 997.7 597.9 999.3 600.2 1001.0 602.6 1002.6 605.0 1004.2 607.6 1005.8 610.2 1007.4 612.9 1009.0 615.7 1010.6 618.6 1012.2 621.6 1013.9 624.6 1015.5 627.7 1017.1 630.9 1018.7 634.1 1020.3 637.4 1021.9 640.8 1023.5 644.2 1025.1 647.7 1026.8 651.2 1028.4 654.8 1030.0 658.3 1031.6 661.9 1033.2 665.5 1034.8 669.1 1036.4 672.7 1038.0 676.3 1039.7 679.9 1041.3 683.4 1042.9 686.9 1044.5 690.4 1046.1 693.8 1047.7 697.1 1049.3 700.3 1050.9 703.5 1052.6 706.6 1054.2 709.6 1055.8 712.5 1057.4 715.2 1059.0 717.9 1060.6 720.5 1062.2 722.9 1063.8 725.3 1065.5 727.5 1067.1 729.6 1068.7 731.6 1070.3 733.4 1071.9 735.2 1073.5 736.9 1075.1 738.4 1076.7 739.9 1078.4 741.2 1080.0 742.5 1081.6 743.6 1083.2 744.7 1084.8 745.7 1086.4 746.6 1088.0 747.5 1089.6 748.2 1091.3 748.9 1092.9 749.6 1094.5 750.2 1096.1 750.7 1097.7 751.2 1099.3 751.6 1100.9 752.0 1102.5 752.4 1104.2 752.7 1105.8 753.0 1107.4 753.3 1109.0 753.5 1110.6 753.7 1112.2 753.9 1113.8 754.1 1115.4 754.2 1117.1 754.4 1118.7 754.5 1120.3 754.6 1121.9 754.7 1123.5 754.8 1125.1 754.8 1126.7 754.9 1128.3 754.9 1130.0 755.0 1131.6 755.0 1133.2 755.1 1134.8 755.1 1136.4 755.1 1138.0 755.2 1139.6 755.2 1141.2 755.2 1142.9 755.2 1144.5 755.2 1146.1 755.2 1147.7 755.2" fill="none" stroke="#000" stroke-width="2.5" stroke-linejoin="round"/>
<circle cx="891" cy="536.5" r="5.2" fill="#8c8c8c"/>
<circle cx="907" cy="539.8" r="5.2" fill="#8c8c8c"/>
<circle cx="923.1" cy="552.6" r="5.2" fill="#8c8c8c"/>
<circle cx="939.1" cy="557.3" r="5.2" fill="#8c8c8c"/>
<circle cx="955.2" cy="566" r="5.2" fill="#8c8c8c"/>
<circle cx="971.2" cy="579.7" r="5.2" fill="#8c8c8c"/>
<circle cx="987.2" cy="589.9" r="5.2" fill="#8c8c8c"/>
<circle cx="1003.3" cy="610.2" r="5.2" fill="#8c8c8c"/>
<circle cx="1019.3" cy="635.9" r="5.2" fill="#8c8c8c"/>
<circle cx="1035.4" cy="677.2" r="5.2" fill="#8c8c8c"/>
<circle cx="1051.4" cy="720.3" r="5.2" fill="#8c8c8c"/>
<circle cx="1067.5" cy="745.2" r="5.2" fill="#8c8c8c"/>
<circle cx="1083.5" cy="747.1" r="5.2" fill="#8c8c8c"/>
<circle cx="1099.6" cy="752.2" r="5.2" fill="#8c8c8c"/>
<circle cx="1115.6" cy="743.8" r="5.2" fill="#8c8c8c"/>
<circle cx="1131.7" cy="750.2" r="5.2" fill="#8c8c8c"/>
<circle cx="1147.7" cy="749.8" r="5.2" fill="#8c8c8c"/>
<path d="M826.8 537.5 828.4 537.5 830.0 537.6 831.6 537.6 833.3 537.7 834.9 537.8 836.5 537.8 838.1 537.9 839.7 538.0 841.3 538.1 842.9 538.1 844.5 538.2 846.2 538.3 847.8 538.4 849.4 538.5 851.0 538.6 852.6 538.7 854.2 538.8 855.8 538.9 857.4 539.0 859.1 539.1 860.7 539.2 862.3 539.4 863.9 539.5 865.5 539.6 867.1 539.8 868.7 539.9 870.3 540.1 872.0 540.2 873.6 540.4 875.2 540.5 876.8 540.7 878.4 540.9 880.0 541.1 881.6 541.2 883.2 541.4 884.9 541.6 886.5 541.8 888.1 542.0 889.7 542.3 891.3 542.5 892.9 542.7 894.5 543.0 896.1 543.2 897.8 543.5 899.4 543.7 901.0 544.0 902.6 544.3 904.2 544.6 905.8 544.9 907.4 545.2 909.0 545.5 910.7 545.8 912.3 546.1 913.9 546.5 915.5 546.9 917.1 547.2 918.7 547.6 920.3 548.0 921.9 548.4 923.6 548.9 925.2 549.3 926.8 549.8 928.4 550.2 930.0 550.7 931.6 551.2 933.2 551.7 934.8 552.3 936.5 552.9 938.1 553.4 939.7 554.0 941.3 554.7 942.9 555.3 944.5 556.0 946.1 556.7 947.7 557.4 949.4 558.2 951.0 559.0 952.6 559.8 954.2 560.6 955.8 561.5 957.4 562.4 959.0 563.4 960.6 564.3 962.3 565.4 963.9 566.4 965.5 567.5 967.1 568.7 968.7 569.9 970.3 571.1 971.9 572.4 973.5 573.8 975.2 575.2 976.8 576.6 978.4 578.2 980.0 579.7 981.6 581.4 983.2 583.1 984.8 584.8 986.4 586.7 988.1 588.6 989.7 590.6 991.3 592.6 992.9 594.7 994.5 596.9 996.1 599.2 997.7 601.6 999.3 604.0 1001.0 606.5 1002.6 609.1 1004.2 611.8 1005.8 614.6 1007.4 617.4 1009.0 620.4 1010.6 623.4 1012.2 626.4 1013.9 629.6 1015.5 632.8 1017.1 636.1 1018.7 639.4 1020.3 642.8 1021.9 646.3 1023.5 649.8 1025.1 653.3 1026.8 656.9 1028.4 660.5 1030.0 664.1 1031.6 667.7 1033.2 671.3 1034.8 674.9 1036.4 678.5 1038.0 682.0 1039.7 685.5 1041.3 689.0 1042.9 692.4 1044.5 695.8 1046.1 699.0 1047.7 702.2 1049.3 705.3 1050.9 708.4 1052.6 711.3 1054.2 714.1 1055.8 716.8 1057.4 719.4 1059.0 721.9 1060.6 724.3 1062.2 726.6 1063.8 728.7 1065.5 730.8 1067.1 732.7 1068.7 734.5 1070.3 736.2 1071.9 737.8 1073.5 739.3 1075.1 740.7 1076.7 742.0 1078.4 743.2 1080.0 744.3 1081.6 745.3 1083.2 746.3 1084.8 747.1 1086.4 747.9 1088.0 748.7 1089.6 749.3 1091.3 749.9 1092.9 750.5 1094.5 751.0 1096.1 751.5 1097.7 751.9 1099.3 752.3 1100.9 752.6 1102.5 752.9 1104.2 753.2 1105.8 753.4 1107.4 753.6 1109.0 753.8 1110.6 754.0 1112.2 754.2 1113.8 754.3 1115.4 754.4 1117.1 754.5 1118.7 754.6 1120.3 754.7 1121.9 754.8 1123.5 754.9 1125.1 754.9 1126.7 755.0 1128.3 755.0 1130.0 755.1 1131.6 755.1 1133.2 755.1 1134.8 755.1 1136.4 755.2 1138.0 755.2 1139.6 755.2 1141.2 755.2 1142.9 755.2 1144.5 755.2 1146.1 755.2 1147.7 755.3" fill="none" stroke="#8c8c8c" stroke-width="2.5" stroke-linejoin="round"/>
<text x="1156.8" y="474.9" font-size="33.5" stroke="#000" stroke-width="0.35" text-anchor="start" fill="#000">F</text>
<text x="1211.8" y="495.9" font-size="22.8" stroke="#000" stroke-width="0.35" text-anchor="start" fill="#000" textLength="226.5" lengthAdjust="spacingAndGlyphs">Slow inactivation (5 s)</text>
<line x1="1202.6" y1="520.1" x2="1202.6" y2="756.2" stroke="#000" stroke-width="2.3"/>
<line x1="1157.9" y1="755" x2="1511.8" y2="755" stroke="#000" stroke-width="2.4"/>
<line x1="1217.5" y1="755" x2="1217.5" y2="764.8" stroke="#000" stroke-width="2.1"/>
<line x1="1290.8" y1="755" x2="1290.8" y2="760.5" stroke="#000" stroke-width="2.1"/>
<line x1="1364.1" y1="755" x2="1364.1" y2="764.8" stroke="#000" stroke-width="2.1"/>
<line x1="1437.4" y1="755" x2="1437.4" y2="760.5" stroke="#000" stroke-width="2.1"/>
<line x1="1510.7" y1="755" x2="1510.7" y2="764.8" stroke="#000" stroke-width="2.1"/>
<line x1="1193.3" y1="711.8" x2="1202.6" y2="711.8" stroke="#000" stroke-width="2.1"/>
<text x="1189.7" y="718.4" font-size="17" font-weight="bold" text-anchor="end" fill="#000" textLength="23.4" lengthAdjust="spacingAndGlyphs">0.2</text>
<line x1="1193.3" y1="669.4" x2="1202.6" y2="669.4" stroke="#000" stroke-width="2.1"/>
<text x="1189.7" y="676" font-size="17" font-weight="bold" text-anchor="end" fill="#000" textLength="23.4" lengthAdjust="spacingAndGlyphs">0.4</text>
<line x1="1193.3" y1="627" x2="1202.6" y2="627" stroke="#000" stroke-width="2.1"/>
<text x="1189.7" y="633.6" font-size="17" font-weight="bold" text-anchor="end" fill="#000" textLength="23.4" lengthAdjust="spacingAndGlyphs">0.6</text>
<line x1="1193.3" y1="584.6" x2="1202.6" y2="584.6" stroke="#000" stroke-width="2.1"/>
<text x="1189.7" y="591.2" font-size="17" font-weight="bold" text-anchor="end" fill="#000" textLength="23.4" lengthAdjust="spacingAndGlyphs">0.8</text>
<line x1="1193.3" y1="542.2" x2="1202.6" y2="542.2" stroke="#000" stroke-width="2.1"/>
<text x="1189.7" y="548.8" font-size="17" font-weight="bold" text-anchor="end" fill="#000" textLength="23.4" lengthAdjust="spacingAndGlyphs">1.0</text>
<text x="1217.5" y="784.4" font-size="17" font-weight="bold" text-anchor="middle" fill="#000">-100</text>
<text x="1364.1" y="784.4" font-size="17" font-weight="bold" text-anchor="middle" fill="#000">-50</text>
<text x="1510.7" y="784.4" font-size="17" font-weight="bold" text-anchor="middle" fill="#000">0</text>
<text x="1334.8" y="811.3" font-size="19.5" font-weight="bold" text-anchor="middle" fill="#000" textLength="60.5" lengthAdjust="spacingAndGlyphs">V (mV)</text>
<text x="1158.5" y="641.8" font-size="19.5" font-weight="bold" text-anchor="middle" fill="#000" transform="rotate(-90 1158.5 641.8)" textLength="58.5" lengthAdjust="spacingAndGlyphs">I/Imax</text>
<line x1="1202.8" y1="556" x2="1202.8" y2="575.3" stroke="#8c8c8c" stroke-width="1.6"/>
<line x1="1197.8" y1="556" x2="1207.8" y2="556" stroke="#8c8c8c" stroke-width="1.6"/>
<line x1="1197.8" y1="575.3" x2="1207.8" y2="575.3" stroke="#8c8c8c" stroke-width="1.6"/>
<line x1="1217.5" y1="553.9" x2="1217.5" y2="590" stroke="#8c8c8c" stroke-width="1.6"/>
<line x1="1212.5" y1="553.9" x2="1222.5" y2="553.9" stroke="#8c8c8c" stroke-width="1.6"/>
<line x1="1212.5" y1="590" x2="1222.5" y2="590" stroke="#8c8c8c" stroke-width="1.6"/>
<line x1="1246.8" y1="585.6" x2="1246.8" y2="626.9" stroke="#8c8c8c" stroke-width="1.6"/>
<line x1="1241.8" y1="585.6" x2="1251.8" y2="585.6" stroke="#8c8c8c" stroke-width="1.6"/>
<line x1="1241.8" y1="626.9" x2="1251.8" y2="626.9" stroke="#8c8c8c" stroke-width="1.6"/>
<line x1="1276.1" y1="592.6" x2="1276.1" y2="657.2" stroke="#8c8c8c" stroke-width="1.6"/>
<line x1="1271.1" y1="592.6" x2="1281.1" y2="592.6" stroke="#8c8c8c" stroke-width="1.6"/>
<line x1="1271.1" y1="657.2" x2="1281.1" y2="657.2" stroke="#8c8c8c" stroke-width="1.6"/>
<line x1="1305.5" y1="646.5" x2="1305.5" y2="671.9" stroke="#8c8c8c" stroke-width="1.6"/>
<line x1="1300.5" y1="646.5" x2="1310.5" y2="646.5" stroke="#8c8c8c" stroke-width="1.6"/>
<line x1="1300.5" y1="671.9" x2="1310.5" y2="671.9" stroke="#8c8c8c" stroke-width="1.6"/>
<line x1="1364.1" y1="684.8" x2="1364.1" y2="724.7" stroke="#8c8c8c" stroke-width="1.6"/>
<line x1="1359.1" y1="684.8" x2="1369.1" y2="684.8" stroke="#8c8c8c" stroke-width="1.6"/>
<line x1="1359.1" y1="724.7" x2="1369.1" y2="724.7" stroke="#8c8c8c" stroke-width="1.6"/>
<line x1="1393.4" y1="711.8" x2="1393.4" y2="754" stroke="#8c8c8c" stroke-width="1.6"/>
<line x1="1388.4" y1="711.8" x2="1398.4" y2="711.8" stroke="#8c8c8c" stroke-width="1.6"/>
<line x1="1388.4" y1="754" x2="1398.4" y2="754" stroke="#8c8c8c" stroke-width="1.6"/>
<line x1="1202.8" y1="538" x2="1202.8" y2="552" stroke="#111" stroke-width="1.6"/>
<line x1="1197.8" y1="538" x2="1207.8" y2="538" stroke="#111" stroke-width="1.6"/>
<line x1="1197.8" y1="552" x2="1207.8" y2="552" stroke="#111" stroke-width="1.6"/>
<line x1="1217.5" y1="539.2" x2="1217.5" y2="577" stroke="#111" stroke-width="1.6"/>
<line x1="1212.5" y1="539.2" x2="1222.5" y2="539.2" stroke="#111" stroke-width="1.6"/>
<line x1="1212.5" y1="577" x2="1222.5" y2="577" stroke="#111" stroke-width="1.6"/>
<line x1="1246.8" y1="565.4" x2="1246.8" y2="579" stroke="#111" stroke-width="1.6"/>
<line x1="1241.8" y1="565.4" x2="1251.8" y2="565.4" stroke="#111" stroke-width="1.6"/>
<line x1="1241.8" y1="579" x2="1251.8" y2="579" stroke="#111" stroke-width="1.6"/>
<line x1="1334.8" y1="646.5" x2="1334.8" y2="661.2" stroke="#111" stroke-width="1.6"/>
<line x1="1329.8" y1="646.5" x2="1339.8" y2="646.5" stroke="#111" stroke-width="1.6"/>
<line x1="1329.8" y1="661.2" x2="1339.8" y2="661.2" stroke="#111" stroke-width="1.6"/>
<line x1="1364.1" y1="668.6" x2="1364.1" y2="684.1" stroke="#111" stroke-width="1.6"/>
<line x1="1359.1" y1="668.6" x2="1369.1" y2="668.6" stroke="#111" stroke-width="1.6"/>
<line x1="1359.1" y1="684.1" x2="1369.1" y2="684.1" stroke="#111" stroke-width="1.6"/>
<line x1="1393.4" y1="712.5" x2="1393.4" y2="727" stroke="#111" stroke-width="1.6"/>
<line x1="1388.4" y1="712.5" x2="1398.4" y2="712.5" stroke="#111" stroke-width="1.6"/>
<line x1="1388.4" y1="727" x2="1398.4" y2="727" stroke="#111" stroke-width="1.6"/>
<line x1="1452.1" y1="727.6" x2="1452.1" y2="752" stroke="#111" stroke-width="1.6"/>
<line x1="1447.1" y1="727.6" x2="1457.1" y2="727.6" stroke="#111" stroke-width="1.6"/>
<line x1="1447.1" y1="752" x2="1457.1" y2="752" stroke="#111" stroke-width="1.6"/>
<path d="M1217.5 556.0 1218.8 556.4 1220.2 556.9 1221.5 557.4 1222.8 558.0 1224.1 558.5 1225.5 559.1 1226.8 559.7 1228.1 560.4 1229.4 561.1 1230.8 561.7 1232.1 562.5 1233.4 563.2 1234.7 564.0 1236.1 564.8 1237.4 565.7 1238.7 566.6 1240.0 567.5 1241.4 568.4 1242.7 569.4 1244.0 570.4 1245.3 571.5 1246.7 572.6 1248.0 573.8 1249.3 574.9 1250.7 576.2 1252.0 577.4 1253.3 578.8 1254.6 580.1 1256.0 581.5 1257.3 583.0 1258.6 584.4 1259.9 586.0 1261.3 587.5 1262.6 589.2 1263.9 590.8 1265.2 592.5 1266.6 594.3 1267.9 596.1 1269.2 597.9 1270.5 599.8 1271.9 601.8 1273.2 603.7 1274.5 605.7 1275.8 607.8 1277.2 609.9 1278.5 612.0 1279.8 614.1 1281.1 616.3 1282.5 618.5 1283.8 620.8 1285.1 623.0 1286.5 625.3 1287.8 627.6 1289.1 630.0 1290.4 632.3 1291.8 634.7 1293.1 637.0 1294.4 639.4 1295.7 641.8 1297.1 644.2 1298.4 646.5 1299.7 648.9 1301.0 651.3 1302.4 653.7 1303.7 656.0 1305.0 658.3 1306.3 660.7 1307.7 663.0 1309.0 665.2 1310.3 667.5 1311.6 669.7 1313.0 671.9 1314.3 674.1 1315.6 676.2 1317.0 678.3 1318.3 680.4 1319.6 682.4 1320.9 684.4 1322.3 686.3 1323.6 688.2 1324.9 690.1 1326.2 691.9 1327.6 693.7 1328.9 695.4 1330.2 697.1 1331.5 698.7 1332.9 700.3 1334.2 701.9 1335.5 703.4 1336.8 704.8 1338.2 706.2 1339.5 707.6 1340.8 708.9 1342.1 710.2 1343.5 711.5 1344.8 712.7 1346.1 713.8 1347.5 714.9 1348.8 716.0 1350.1 717.1 1351.4 718.1 1352.8 719.0 1354.1 720.0 1355.4 720.9 1356.7 721.7 1358.1 722.6 1359.4 723.4 1360.7 724.1 1362.0 724.9 1363.4 725.6 1364.7 726.2 1366.0 726.9 1367.3 727.5 1368.7 728.1 1370.0 728.7 1371.3 729.2 1372.6 729.8 1374.0 730.3 1375.3 730.7 1376.6 731.2 1377.9 731.7 1379.3 732.1 1380.6 732.5 1381.9 732.9 1383.3 733.2 1384.6 733.6 1385.9 733.9 1387.2 734.2 1388.6 734.6 1389.9 734.8 1391.2 735.1 1392.5 735.4 1393.9 735.7 1395.2 735.9 1396.5 736.1 1397.8 736.4 1399.2 736.6 1400.5 736.8 1401.8 737.0 1403.1 737.2 1404.5 737.3 1405.8 737.5 1407.1 737.7 1408.4 737.8 1409.8 738.0 1411.1 738.1 1412.4 738.2 1413.8 738.4 1415.1 738.5 1416.4 738.6 1417.7 738.7 1419.1 738.8 1420.4 738.9 1421.7 739.0 1423.0 739.1 1424.4 739.2 1425.7 739.3 1427.0 739.3 1428.3 739.4 1429.7 739.5 1431.0 739.6 1432.3 739.6 1433.6 739.7 1435.0 739.7 1436.3 739.8 1437.6 739.9 1438.9 739.9 1440.3 739.9 1441.6 740.0 1442.9 740.0 1444.3 740.1 1445.6 740.1 1446.9 740.2 1448.2 740.2 1449.6 740.2 1450.9 740.3 1452.2 740.3 1453.5 740.3 1454.9 740.4 1456.2 740.4 1457.5 740.4 1458.8 740.4 1460.2 740.5 1461.5 740.5 1462.8 740.5 1464.1 740.5 1465.5 740.5 1466.8 740.6 1468.1 740.6 1469.4 740.6 1470.8 740.6 1472.1 740.6 1473.4 740.6 1474.7 740.6 1476.1 740.7 1477.4 740.7 1478.7 740.7 1480.1 740.7 1481.4 740.7" fill="none" stroke="#111" stroke-width="1.3" stroke-linejoin="round" stroke-dasharray="3 2"/>
<path d="M1202.8 558.4 1204.1 559.2 1205.3 560.0 1206.6 560.8 1207.8 561.6 1209.1 562.4 1210.4 563.3 1211.6 564.1 1212.9 565.0 1214.1 565.9 1215.4 566.7 1216.6 567.6 1217.9 568.5 1219.1 569.4 1220.4 570.4 1221.6 571.3 1222.9 572.2 1224.1 573.2 1225.4 574.1 1226.6 575.1 1227.9 576.1 1229.1 577.1 1230.4 578.0 1231.6 579.1 1232.9 580.1 1234.1 581.1 1235.4 582.1 1236.7 583.2 1237.9 584.2 1239.2 585.3 1240.4 586.3 1241.7 587.4 1242.9 588.5 1244.2 589.6 1245.4 590.7 1246.7 591.8 1247.9 592.9 1249.2 594.0 1250.4 595.1 1251.7 596.3 1252.9 597.4 1254.2 598.6 1255.4 599.7 1256.7 600.9 1257.9 602.1 1259.2 603.2 1260.4 604.4 1261.7 605.6 1263.0 606.8 1264.2 608.0 1265.5 609.2 1266.7 610.4 1268.0 611.7 1269.2 612.9 1270.5 614.1 1271.7 615.4 1273.0 616.6 1274.2 617.9 1275.5 619.1 1276.7 620.4 1278.0 621.6 1279.2 622.9 1280.5 624.1 1281.7 625.4 1283.0 626.7 1284.2 627.9 1285.5 629.2 1286.7 630.5 1288.0 631.8 1289.3 633.1 1290.5 634.3 1291.8 635.6 1293.0 636.9 1294.3 638.2 1295.5 639.5 1296.8 640.8 1298.0 642.0 1299.3 643.3 1300.5 644.6 1301.8 645.9 1303.0 647.2 1304.3 648.5 1305.5 649.7 1306.8 651.0 1308.0 652.3 1309.3 653.6 1310.5 654.8 1311.8 656.1 1313.0 657.4 1314.3 658.6 1315.6 659.9 1316.8 661.2 1318.1 662.4 1319.3 663.7 1320.6 664.9 1321.8 666.1 1323.1 667.4 1324.3 668.6 1325.6 669.8 1326.8 671.1 1328.1 672.3 1329.3 673.5 1330.6 674.7 1331.8 675.9 1333.1 677.1 1334.3 678.3 1335.6 679.4 1336.8 680.6 1338.1 681.8 1339.3 682.9 1340.6 684.1 1341.9 685.2 1343.1 686.4 1344.4 687.5 1345.6 688.6 1346.9 689.7 1348.1 690.8 1349.4 691.9 1350.6 693.0 1351.9 694.1 1353.1 695.2 1354.4 696.2 1355.6 697.3 1356.9 698.3 1358.1 699.4 1359.4 700.4 1360.6 701.4 1361.9 702.4 1363.1 703.4 1364.4 704.4 1365.6 705.4 1366.9 706.4 1368.2 707.3 1369.4 708.3 1370.7 709.2 1371.9 710.2 1373.2 711.1 1374.4 712.0 1375.7 712.9 1376.9 713.8 1378.2 714.7 1379.4 715.6 1380.7 716.4 1381.9 717.3 1383.2 718.2 1384.4 719.0 1385.7 719.8 1386.9 720.6 1388.2 721.5 1389.4 722.3 1390.7 723.1 1391.9 723.8 1393.2 724.6 1394.5 725.4 1395.7 726.1 1397.0 726.9 1398.2 727.6 1399.5 728.3 1400.7 729.1 1402.0 729.8 1403.2 730.5 1404.5 731.1 1405.7 731.8 1407.0 732.5 1408.2 733.2 1409.5 733.8 1410.7 734.5 1412.0 735.1 1413.2 735.7 1414.5 736.3 1415.7 736.9 1417.0 737.5 1418.2 738.1 1419.5 738.7 1420.8 739.3 1422.0 739.9 1423.3 740.4 1424.5 741.0 1425.8 741.5 1427.0 742.1 1428.3 742.6 1429.5 743.1 1430.8 743.6 1432.0 744.1 1433.3 744.6 1434.5 745.1 1435.8 745.6 1437.0 746.1 1438.3 746.5 1439.5 747.0 1440.8 747.4 1442.0 747.9 1443.3 748.3 1444.5 748.8 1445.8 749.2 1447.1 749.6 1448.3 750.0 1449.6 750.4 1450.8 750.8 1452.1 751.2" fill="none" stroke="#8c8c8c" stroke-width="2.5" stroke-linejoin="round"/>
<circle cx="1202.8" cy="560.6" r="5.6" fill="#8c8c8c"/>
<circle cx="1217.5" cy="571.6" r="5.6" fill="#8c8c8c"/>
<circle cx="1246.8" cy="603" r="5.6" fill="#8c8c8c"/>
<circle cx="1276.1" cy="625.1" r="5.6" fill="#8c8c8c"/>
<circle cx="1305.5" cy="659.4" r="5.6" fill="#8c8c8c"/>
<circle cx="1364.1" cy="703.6" r="5.6" fill="#8c8c8c"/>
<circle cx="1393.4" cy="735.7" r="5.6" fill="#8c8c8c"/>
<circle cx="1452.1" cy="751.2" r="5.6" fill="#8c8c8c"/>
<path d="M1202.8 552.4 1204.1 552.6 1205.3 552.9 1206.6 553.2 1207.8 553.4 1209.1 553.7 1210.4 554.0 1211.6 554.3 1212.9 554.6 1214.1 554.9 1215.4 555.2 1216.6 555.6 1217.9 555.9 1219.1 556.2 1220.4 556.6 1221.6 557.0 1222.9 557.3 1224.1 557.7 1225.4 558.1 1226.6 558.5 1227.9 558.9 1229.1 559.4 1230.4 559.8 1231.6 560.2 1232.9 560.7 1234.1 561.2 1235.4 561.6 1236.7 562.1 1237.9 562.6 1239.2 563.1 1240.4 563.7 1241.7 564.2 1242.9 564.7 1244.2 565.3 1245.4 565.9 1246.7 566.5 1247.9 567.1 1249.2 567.7 1250.4 568.3 1251.7 569.0 1252.9 569.6 1254.2 570.3 1255.4 571.0 1256.7 571.7 1257.9 572.4 1259.2 573.2 1260.4 573.9 1261.7 574.7 1263.0 575.4 1264.2 576.2 1265.5 577.1 1266.7 577.9 1268.0 578.7 1269.2 579.6 1270.5 580.5 1271.7 581.4 1273.0 582.3 1274.2 583.2 1275.5 584.2 1276.7 585.1 1278.0 586.1 1279.2 587.1 1280.5 588.1 1281.7 589.1 1283.0 590.2 1284.2 591.3 1285.5 592.3 1286.7 593.4 1288.0 594.6 1289.3 595.7 1290.5 596.8 1291.8 598.0 1293.0 599.2 1294.3 600.4 1295.5 601.6 1296.8 602.9 1298.0 604.1 1299.3 605.4 1300.5 606.6 1301.8 607.9 1303.0 609.3 1304.3 610.6 1305.5 611.9 1306.8 613.3 1308.0 614.6 1309.3 616.0 1310.5 617.4 1311.8 618.8 1313.0 620.2 1314.3 621.7 1315.6 623.1 1316.8 624.5 1318.1 626.0 1319.3 627.5 1320.6 628.9 1321.8 630.4 1323.1 631.9 1324.3 633.4 1325.6 634.9 1326.8 636.4 1328.1 638.0 1329.3 639.5 1330.6 641.0 1331.8 642.5 1333.1 644.1 1334.3 645.6 1335.6 647.2 1336.8 648.7 1338.1 650.2 1339.3 651.8 1340.6 653.3 1341.9 654.9 1343.1 656.4 1344.4 657.9 1345.6 659.5 1346.9 661.0 1348.1 662.5 1349.4 664.0 1350.6 665.5 1351.9 667.0 1353.1 668.5 1354.4 670.0 1355.6 671.5 1356.9 673.0 1358.1 674.4 1359.4 675.9 1360.6 677.3 1361.9 678.8 1363.1 680.2 1364.4 681.6 1365.6 683.0 1366.9 684.4 1368.2 685.7 1369.4 687.1 1370.7 688.4 1371.9 689.8 1373.2 691.1 1374.4 692.4 1375.7 693.7 1376.9 694.9 1378.2 696.2 1379.4 697.4 1380.7 698.7 1381.9 699.9 1383.2 701.1 1384.4 702.2 1385.7 703.4 1386.9 704.5 1388.2 705.7 1389.4 706.8 1390.7 707.9 1391.9 708.9 1393.2 710.0 1394.5 711.0 1395.7 712.0 1397.0 713.0 1398.2 714.0 1399.5 715.0 1400.7 716.0 1402.0 716.9 1403.2 717.8 1404.5 718.7 1405.7 719.6 1407.0 720.5 1408.2 721.3 1409.5 722.2 1410.7 723.0 1412.0 723.8 1413.2 724.6 1414.5 725.3 1415.7 726.1 1417.0 726.8 1418.2 727.6 1419.5 728.3 1420.8 729.0 1422.0 729.6 1423.3 730.3 1424.5 731.0 1425.8 731.6 1427.0 732.2 1428.3 732.8 1429.5 733.4 1430.8 734.0 1432.0 734.6 1433.3 735.1 1434.5 735.7 1435.8 736.2 1437.0 736.7 1438.3 737.2 1439.5 737.7 1440.8 738.2 1442.0 738.7 1443.3 739.1 1444.5 739.6 1445.8 740.0 1447.1 740.4 1448.3 740.9 1449.6 741.3 1450.8 741.7 1452.1 742.0" fill="none" stroke="#000" stroke-width="2.5" stroke-linejoin="round"/>
<circle cx="1202.8" cy="545.1" r="5.6" fill="#000"/>
<circle cx="1217.5" cy="558" r="5.6" fill="#000"/>
<circle cx="1246.8" cy="574.6" r="5.6" fill="#000"/>
<circle cx="1276.1" cy="585.3" r="5.6" fill="#000"/>
<circle cx="1334.8" cy="653.9" r="5.6" fill="#000"/>
<circle cx="1364.1" cy="676.7" r="5.6" fill="#000"/>
<circle cx="1393.4" cy="720.2" r="5.6" fill="#000"/>
<circle cx="1452.1" cy="740.2" r="5.6" fill="#000"/>
</svg></body></html>
